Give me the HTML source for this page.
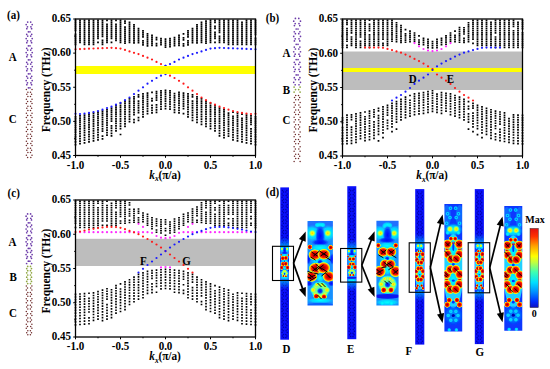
<!DOCTYPE html>
<html><head><meta charset="utf-8"><style>
html,body{margin:0;padding:0;background:#fff;width:550px;height:369px;overflow:hidden}
svg{display:block}
</style></head><body>
<svg width="550" height="369" viewBox="0 0 550 369">
<rect width="550" height="369" fill="#fff"/>
<path fill="#000" d="M74.6 19.4h1.8v1.75h-1.8zM74.6 21.4h1.8v1.75h-1.8zM74.6 23.4h1.8v1.75h-1.8zM74.6 25.4h1.8v1.75h-1.8zM74.6 27.4h1.8v1.75h-1.8zM74.6 29.4h1.8v1.75h-1.8zM74.6 33.4h1.8v1.75h-1.8zM74.6 35.4h1.8v1.75h-1.8zM74.6 37.4h1.8v1.75h-1.8zM74.6 39.4h1.8v1.75h-1.8zM74.6 41.4h1.8v1.75h-1.8zM74.6 43.4h1.8v1.75h-1.8zM79.1 19.4h1.8v1.75h-1.8zM79.1 21.4h1.8v1.75h-1.8zM79.1 23.4h1.8v1.75h-1.8zM79.1 25.4h1.8v1.75h-1.8zM79.1 27.4h1.8v1.75h-1.8zM79.1 29.4h1.8v1.75h-1.8zM79.1 31.4h1.8v1.75h-1.8zM79.1 33.4h1.8v1.75h-1.8zM79.1 35.4h1.8v1.75h-1.8zM79.1 37.4h1.8v1.75h-1.8zM79.1 39.4h1.8v1.75h-1.8zM79.1 41.4h1.8v1.75h-1.8zM83.6 19.4h1.8v1.75h-1.8zM83.6 21.4h1.8v1.75h-1.8zM83.6 23.4h1.8v1.75h-1.8zM83.6 25.4h1.8v1.75h-1.8zM83.6 27.4h1.8v1.75h-1.8zM83.6 29.4h1.8v1.75h-1.8zM83.6 31.4h1.8v1.75h-1.8zM83.6 33.4h1.8v1.75h-1.8zM83.6 35.4h1.8v1.75h-1.8zM83.6 37.4h1.8v1.75h-1.8zM83.6 39.4h1.8v1.75h-1.8zM83.6 41.4h1.8v1.75h-1.8zM83.6 43.4h1.8v1.75h-1.8zM88.1 19.4h1.8v1.75h-1.8zM88.1 21.4h1.8v1.75h-1.8zM88.1 23.4h1.8v1.75h-1.8zM88.1 25.4h1.8v1.75h-1.8zM88.1 27.4h1.8v1.75h-1.8zM88.1 29.4h1.8v1.75h-1.8zM88.1 31.4h1.8v1.75h-1.8zM88.1 33.4h1.8v1.75h-1.8zM88.1 35.4h1.8v1.75h-1.8zM88.1 37.4h1.8v1.75h-1.8zM88.1 39.4h1.8v1.75h-1.8zM88.1 41.4h1.8v1.75h-1.8zM88.1 43.4h1.8v1.75h-1.8zM92.6 19.4h1.8v1.75h-1.8zM92.6 21.4h1.8v1.75h-1.8zM92.6 23.4h1.8v1.75h-1.8zM92.6 25.4h1.8v1.75h-1.8zM92.6 27.4h1.8v1.75h-1.8zM92.6 29.4h1.8v1.75h-1.8zM92.6 31.4h1.8v1.75h-1.8zM92.6 33.4h1.8v1.75h-1.8zM92.6 35.4h1.8v1.75h-1.8zM92.6 37.4h1.8v1.75h-1.8zM92.6 39.4h1.8v1.75h-1.8zM92.6 41.4h1.8v1.75h-1.8zM92.6 43.4h1.8v1.75h-1.8zM97.1 19.4h1.8v1.75h-1.8zM97.1 21.4h1.8v1.75h-1.8zM97.1 23.4h1.8v1.75h-1.8zM97.1 25.4h1.8v1.75h-1.8zM97.1 27.4h1.8v1.75h-1.8zM97.1 29.4h1.8v1.75h-1.8zM97.1 31.4h1.8v1.75h-1.8zM97.1 33.4h1.8v1.75h-1.8zM97.1 35.4h1.8v1.75h-1.8zM97.1 37.4h1.8v1.75h-1.8zM97.1 41.4h1.8v1.75h-1.8zM101.6 19.4h1.8v1.75h-1.8zM101.6 21.4h1.8v1.75h-1.8zM101.6 23.4h1.8v1.75h-1.8zM101.6 25.4h1.8v1.75h-1.8zM101.6 27.4h1.8v1.75h-1.8zM101.6 29.4h1.8v1.75h-1.8zM101.6 31.4h1.8v1.75h-1.8zM101.6 33.4h1.8v1.75h-1.8zM101.6 35.4h1.8v1.75h-1.8zM101.6 39.4h1.8v1.75h-1.8zM101.6 41.4h1.8v1.75h-1.8zM101.6 43.4h1.8v1.75h-1.8zM106.1 19.4h1.8v1.75h-1.8zM106.1 23.4h1.8v1.75h-1.8zM106.1 25.4h1.8v1.75h-1.8zM106.1 27.4h1.8v1.75h-1.8zM106.1 29.4h1.8v1.75h-1.8zM106.1 31.4h1.8v1.75h-1.8zM106.1 33.4h1.8v1.75h-1.8zM106.1 35.4h1.8v1.75h-1.8zM106.1 37.4h1.8v1.75h-1.8zM106.1 39.4h1.8v1.75h-1.8zM106.1 41.4h1.8v1.75h-1.8zM110.6 19.4h1.8v1.75h-1.8zM110.6 21.4h1.8v1.75h-1.8zM110.6 23.4h1.8v1.75h-1.8zM110.6 25.4h1.8v1.75h-1.8zM110.6 27.4h1.8v1.75h-1.8zM110.6 29.4h1.8v1.75h-1.8zM110.6 31.4h1.8v1.75h-1.8zM110.6 33.4h1.8v1.75h-1.8zM110.6 35.4h1.8v1.75h-1.8zM110.6 37.4h1.8v1.75h-1.8zM110.6 41.4h1.8v1.75h-1.8zM115.1 19.4h1.8v1.75h-1.8zM115.1 23.4h1.8v1.75h-1.8zM115.1 25.4h1.8v1.75h-1.8zM115.1 27.4h1.8v1.75h-1.8zM115.1 29.4h1.8v1.75h-1.8zM115.1 31.4h1.8v1.75h-1.8zM115.1 33.4h1.8v1.75h-1.8zM115.1 35.4h1.8v1.75h-1.8zM115.1 37.4h1.8v1.75h-1.8zM115.1 39.4h1.8v1.75h-1.8zM119.6 19.4h1.8v1.75h-1.8zM119.6 21.4h1.8v1.75h-1.8zM119.6 23.4h1.8v1.75h-1.8zM119.6 25.4h1.8v1.75h-1.8zM119.6 27.4h1.8v1.75h-1.8zM119.6 29.4h1.8v1.75h-1.8zM119.6 31.4h1.8v1.75h-1.8zM119.6 33.4h1.8v1.75h-1.8zM119.6 35.4h1.8v1.75h-1.8zM119.6 37.4h1.8v1.75h-1.8zM119.6 39.4h1.8v1.75h-1.8zM119.6 41.4h1.8v1.75h-1.8zM124.1 20.2h1.8v1.75h-1.8zM124.1 22.2h1.8v1.75h-1.8zM124.1 26.2h1.8v1.75h-1.8zM124.1 28.2h1.8v1.75h-1.8zM124.1 30.2h1.8v1.75h-1.8zM124.1 32.2h1.8v1.75h-1.8zM124.1 34.2h1.8v1.75h-1.8zM124.1 36.2h1.8v1.75h-1.8zM124.1 38.2h1.8v1.75h-1.8zM124.1 40.2h1.8v1.75h-1.8zM124.1 42.2h1.8v1.75h-1.8zM128.6 21.4h1.8v1.75h-1.8zM128.6 23.4h1.8v1.75h-1.8zM128.6 25.4h1.8v1.75h-1.8zM128.6 27.4h1.8v1.75h-1.8zM128.6 29.4h1.8v1.75h-1.8zM128.6 31.4h1.8v1.75h-1.8zM128.6 33.4h1.8v1.75h-1.8zM128.6 35.4h1.8v1.75h-1.8zM128.6 37.4h1.8v1.75h-1.8zM128.6 39.4h1.8v1.75h-1.8zM128.6 41.4h1.8v1.75h-1.8zM133.1 24h1.8v1.75h-1.8zM133.1 26h1.8v1.75h-1.8zM133.1 28h1.8v1.75h-1.8zM133.1 30h1.8v1.75h-1.8zM133.1 32h1.8v1.75h-1.8zM133.1 34h1.8v1.75h-1.8zM133.1 36h1.8v1.75h-1.8zM133.1 38h1.8v1.75h-1.8zM133.1 40h1.8v1.75h-1.8zM133.1 42h1.8v1.75h-1.8zM137.6 27.7h1.8v1.75h-1.8zM137.6 29.7h1.8v1.75h-1.8zM137.6 31.7h1.8v1.75h-1.8zM137.6 33.7h1.8v1.75h-1.8zM137.6 35.7h1.8v1.75h-1.8zM137.6 37.7h1.8v1.75h-1.8zM137.6 39.7h1.8v1.75h-1.8zM137.6 41.7h1.8v1.75h-1.8zM142.1 30h1.8v1.75h-1.8zM142.1 32h1.8v1.75h-1.8zM142.1 34h1.8v1.75h-1.8zM142.1 36h1.8v1.75h-1.8zM142.1 40h1.8v1.75h-1.8zM142.1 42h1.8v1.75h-1.8zM142.1 44h1.8v1.75h-1.8zM146.6 33h1.8v1.75h-1.8zM146.6 35h1.8v1.75h-1.8zM146.6 37h1.8v1.75h-1.8zM146.6 39h1.8v1.75h-1.8zM146.6 41h1.8v1.75h-1.8zM146.6 43h1.8v1.75h-1.8zM146.6 45h1.8v1.75h-1.8zM151.1 34.6h1.8v1.75h-1.8zM151.1 36.6h1.8v1.75h-1.8zM151.1 38.6h1.8v1.75h-1.8zM151.1 40.6h1.8v1.75h-1.8zM151.1 42.6h1.8v1.75h-1.8zM151.1 44.6h1.8v1.75h-1.8zM155.6 36.8h1.8v1.75h-1.8zM155.6 38.8h1.8v1.75h-1.8zM155.6 42.8h1.8v1.75h-1.8zM155.6 44.8h1.8v1.75h-1.8zM160.1 37.7h1.8v1.75h-1.8zM160.1 39.7h1.8v1.75h-1.8zM160.1 41.7h1.8v1.75h-1.8zM160.1 43.7h1.8v1.75h-1.8zM164.6 38.3h1.8v1.75h-1.8zM164.6 40.3h1.8v1.75h-1.8zM164.6 42.3h1.8v1.75h-1.8zM164.6 44.3h1.8v1.75h-1.8zM164.6 46.3h1.8v1.75h-1.8zM169.1 37.7h1.8v1.75h-1.8zM169.1 39.7h1.8v1.75h-1.8zM169.1 41.7h1.8v1.75h-1.8zM169.1 43.7h1.8v1.75h-1.8zM169.1 45.7h1.8v1.75h-1.8zM173.6 36.8h1.8v1.75h-1.8zM173.6 38.8h1.8v1.75h-1.8zM173.6 40.8h1.8v1.75h-1.8zM173.6 42.8h1.8v1.75h-1.8zM173.6 44.8h1.8v1.75h-1.8zM178.1 34.6h1.8v1.75h-1.8zM178.1 36.6h1.8v1.75h-1.8zM178.1 38.6h1.8v1.75h-1.8zM178.1 40.6h1.8v1.75h-1.8zM178.1 42.6h1.8v1.75h-1.8zM178.1 44.6h1.8v1.75h-1.8zM182.6 33h1.8v1.75h-1.8zM182.6 37h1.8v1.75h-1.8zM182.6 39h1.8v1.75h-1.8zM182.6 43h1.8v1.75h-1.8zM182.6 45h1.8v1.75h-1.8zM187.1 30h1.8v1.75h-1.8zM187.1 32h1.8v1.75h-1.8zM187.1 34h1.8v1.75h-1.8zM187.1 36h1.8v1.75h-1.8zM187.1 40h1.8v1.75h-1.8zM187.1 42h1.8v1.75h-1.8zM187.1 44h1.8v1.75h-1.8zM191.6 27.7h1.8v1.75h-1.8zM191.6 29.7h1.8v1.75h-1.8zM191.6 31.7h1.8v1.75h-1.8zM191.6 33.7h1.8v1.75h-1.8zM191.6 35.7h1.8v1.75h-1.8zM191.6 37.7h1.8v1.75h-1.8zM191.6 39.7h1.8v1.75h-1.8zM191.6 41.7h1.8v1.75h-1.8zM196.1 24h1.8v1.75h-1.8zM196.1 26h1.8v1.75h-1.8zM196.1 28h1.8v1.75h-1.8zM196.1 30h1.8v1.75h-1.8zM196.1 32h1.8v1.75h-1.8zM196.1 34h1.8v1.75h-1.8zM196.1 36h1.8v1.75h-1.8zM196.1 38h1.8v1.75h-1.8zM196.1 40h1.8v1.75h-1.8zM196.1 42h1.8v1.75h-1.8zM200.6 21.4h1.8v1.75h-1.8zM200.6 23.4h1.8v1.75h-1.8zM200.6 25.4h1.8v1.75h-1.8zM200.6 27.4h1.8v1.75h-1.8zM200.6 29.4h1.8v1.75h-1.8zM200.6 31.4h1.8v1.75h-1.8zM200.6 33.4h1.8v1.75h-1.8zM200.6 35.4h1.8v1.75h-1.8zM200.6 37.4h1.8v1.75h-1.8zM200.6 39.4h1.8v1.75h-1.8zM200.6 41.4h1.8v1.75h-1.8zM205.1 20.2h1.8v1.75h-1.8zM205.1 22.2h1.8v1.75h-1.8zM205.1 24.2h1.8v1.75h-1.8zM205.1 26.2h1.8v1.75h-1.8zM205.1 28.2h1.8v1.75h-1.8zM205.1 30.2h1.8v1.75h-1.8zM205.1 32.2h1.8v1.75h-1.8zM205.1 34.2h1.8v1.75h-1.8zM205.1 36.2h1.8v1.75h-1.8zM205.1 38.2h1.8v1.75h-1.8zM205.1 40.2h1.8v1.75h-1.8zM205.1 42.2h1.8v1.75h-1.8zM209.6 19.4h1.8v1.75h-1.8zM209.6 21.4h1.8v1.75h-1.8zM209.6 23.4h1.8v1.75h-1.8zM209.6 25.4h1.8v1.75h-1.8zM209.6 27.4h1.8v1.75h-1.8zM209.6 29.4h1.8v1.75h-1.8zM209.6 31.4h1.8v1.75h-1.8zM209.6 33.4h1.8v1.75h-1.8zM209.6 35.4h1.8v1.75h-1.8zM209.6 37.4h1.8v1.75h-1.8zM209.6 39.4h1.8v1.75h-1.8zM209.6 41.4h1.8v1.75h-1.8zM214.1 19.4h1.8v1.75h-1.8zM214.1 21.4h1.8v1.75h-1.8zM214.1 25.4h1.8v1.75h-1.8zM214.1 27.4h1.8v1.75h-1.8zM214.1 31.4h1.8v1.75h-1.8zM214.1 33.4h1.8v1.75h-1.8zM214.1 35.4h1.8v1.75h-1.8zM214.1 37.4h1.8v1.75h-1.8zM214.1 41.4h1.8v1.75h-1.8zM218.6 19.4h1.8v1.75h-1.8zM218.6 21.4h1.8v1.75h-1.8zM218.6 23.4h1.8v1.75h-1.8zM218.6 25.4h1.8v1.75h-1.8zM218.6 27.4h1.8v1.75h-1.8zM218.6 29.4h1.8v1.75h-1.8zM218.6 31.4h1.8v1.75h-1.8zM218.6 35.4h1.8v1.75h-1.8zM218.6 37.4h1.8v1.75h-1.8zM218.6 39.4h1.8v1.75h-1.8zM218.6 41.4h1.8v1.75h-1.8zM223.1 19.4h1.8v1.75h-1.8zM223.1 21.4h1.8v1.75h-1.8zM223.1 23.4h1.8v1.75h-1.8zM223.1 25.4h1.8v1.75h-1.8zM223.1 27.4h1.8v1.75h-1.8zM223.1 29.4h1.8v1.75h-1.8zM223.1 31.4h1.8v1.75h-1.8zM223.1 33.4h1.8v1.75h-1.8zM223.1 35.4h1.8v1.75h-1.8zM223.1 37.4h1.8v1.75h-1.8zM223.1 39.4h1.8v1.75h-1.8zM223.1 41.4h1.8v1.75h-1.8zM227.6 19.4h1.8v1.75h-1.8zM227.6 21.4h1.8v1.75h-1.8zM227.6 23.4h1.8v1.75h-1.8zM227.6 25.4h1.8v1.75h-1.8zM227.6 27.4h1.8v1.75h-1.8zM227.6 29.4h1.8v1.75h-1.8zM227.6 31.4h1.8v1.75h-1.8zM227.6 33.4h1.8v1.75h-1.8zM227.6 35.4h1.8v1.75h-1.8zM227.6 37.4h1.8v1.75h-1.8zM227.6 39.4h1.8v1.75h-1.8zM227.6 41.4h1.8v1.75h-1.8zM227.6 43.4h1.8v1.75h-1.8zM232.1 19.4h1.8v1.75h-1.8zM232.1 21.4h1.8v1.75h-1.8zM232.1 23.4h1.8v1.75h-1.8zM232.1 25.4h1.8v1.75h-1.8zM232.1 27.4h1.8v1.75h-1.8zM232.1 29.4h1.8v1.75h-1.8zM232.1 31.4h1.8v1.75h-1.8zM232.1 33.4h1.8v1.75h-1.8zM232.1 35.4h1.8v1.75h-1.8zM232.1 37.4h1.8v1.75h-1.8zM232.1 39.4h1.8v1.75h-1.8zM232.1 41.4h1.8v1.75h-1.8zM232.1 43.4h1.8v1.75h-1.8zM236.6 19.4h1.8v1.75h-1.8zM236.6 21.4h1.8v1.75h-1.8zM236.6 23.4h1.8v1.75h-1.8zM236.6 25.4h1.8v1.75h-1.8zM236.6 27.4h1.8v1.75h-1.8zM236.6 29.4h1.8v1.75h-1.8zM236.6 31.4h1.8v1.75h-1.8zM236.6 33.4h1.8v1.75h-1.8zM236.6 35.4h1.8v1.75h-1.8zM236.6 37.4h1.8v1.75h-1.8zM236.6 39.4h1.8v1.75h-1.8zM236.6 41.4h1.8v1.75h-1.8zM236.6 43.4h1.8v1.75h-1.8zM241.1 21.4h1.8v1.75h-1.8zM241.1 23.4h1.8v1.75h-1.8zM241.1 25.4h1.8v1.75h-1.8zM241.1 27.4h1.8v1.75h-1.8zM241.1 29.4h1.8v1.75h-1.8zM241.1 31.4h1.8v1.75h-1.8zM241.1 33.4h1.8v1.75h-1.8zM241.1 35.4h1.8v1.75h-1.8zM241.1 37.4h1.8v1.75h-1.8zM241.1 39.4h1.8v1.75h-1.8zM241.1 41.4h1.8v1.75h-1.8zM241.1 43.4h1.8v1.75h-1.8zM245.6 19.4h1.8v1.75h-1.8zM245.6 21.4h1.8v1.75h-1.8zM245.6 23.4h1.8v1.75h-1.8zM245.6 25.4h1.8v1.75h-1.8zM245.6 27.4h1.8v1.75h-1.8zM245.6 29.4h1.8v1.75h-1.8zM245.6 31.4h1.8v1.75h-1.8zM245.6 33.4h1.8v1.75h-1.8zM245.6 35.4h1.8v1.75h-1.8zM245.6 37.4h1.8v1.75h-1.8zM245.6 39.4h1.8v1.75h-1.8zM245.6 41.4h1.8v1.75h-1.8zM245.6 43.4h1.8v1.75h-1.8zM250.1 19.4h1.8v1.75h-1.8zM250.1 21.4h1.8v1.75h-1.8zM250.1 23.4h1.8v1.75h-1.8zM250.1 25.4h1.8v1.75h-1.8zM250.1 27.4h1.8v1.75h-1.8zM250.1 29.4h1.8v1.75h-1.8zM250.1 31.4h1.8v1.75h-1.8zM250.1 33.4h1.8v1.75h-1.8zM250.1 35.4h1.8v1.75h-1.8zM250.1 37.4h1.8v1.75h-1.8zM250.1 39.4h1.8v1.75h-1.8zM250.1 41.4h1.8v1.75h-1.8zM250.1 43.4h1.8v1.75h-1.8zM254.6 19.4h1.8v1.75h-1.8zM254.6 21.4h1.8v1.75h-1.8zM254.6 23.4h1.8v1.75h-1.8zM254.6 25.4h1.8v1.75h-1.8zM254.6 27.4h1.8v1.75h-1.8zM254.6 29.4h1.8v1.75h-1.8zM254.6 31.4h1.8v1.75h-1.8zM254.6 33.4h1.8v1.75h-1.8zM254.6 37.4h1.8v1.75h-1.8zM254.6 39.4h1.8v1.75h-1.8zM254.6 41.4h1.8v1.75h-1.8zM254.6 43.4h1.8v1.75h-1.8z"/>
<path fill="#000" d="M74.6 116h1.8v1.75h-1.8zM74.6 118.05h1.8v1.75h-1.8zM74.6 120.14h1.8v1.75h-1.8zM74.6 122.28h1.8v1.75h-1.8zM74.6 124.46h1.8v1.75h-1.8zM74.6 126.69h1.8v1.75h-1.8zM74.6 128.96h1.8v1.75h-1.8zM74.6 131.28h1.8v1.75h-1.8zM74.6 133.65h1.8v1.75h-1.8zM74.6 136.07h1.8v1.75h-1.8zM74.6 138.53h1.8v1.75h-1.8zM74.6 141.05h1.8v1.75h-1.8zM74.6 143.63h1.8v1.75h-1.8zM79.1 115.09h1.8v1.75h-1.8zM79.1 117.14h1.8v1.75h-1.8zM79.1 119.23h1.8v1.75h-1.8zM79.1 121.37h1.8v1.75h-1.8zM79.1 123.55h1.8v1.75h-1.8zM79.1 125.78h1.8v1.75h-1.8zM79.1 128.06h1.8v1.75h-1.8zM79.1 130.38h1.8v1.75h-1.8zM79.1 132.75h1.8v1.75h-1.8zM79.1 135.18h1.8v1.75h-1.8zM79.1 137.65h1.8v1.75h-1.8zM79.1 140.18h1.8v1.75h-1.8zM79.1 142.76h1.8v1.75h-1.8zM83.6 114.18h1.8v1.75h-1.8zM83.6 116.23h1.8v1.75h-1.8zM83.6 118.33h1.8v1.75h-1.8zM83.6 120.46h1.8v1.75h-1.8zM83.6 122.65h1.8v1.75h-1.8zM83.6 124.88h1.8v1.75h-1.8zM83.6 127.16h1.8v1.75h-1.8zM83.6 129.48h1.8v1.75h-1.8zM83.6 131.86h1.8v1.75h-1.8zM83.6 134.29h1.8v1.75h-1.8zM83.6 136.77h1.8v1.75h-1.8zM83.6 139.3h1.8v1.75h-1.8zM83.6 141.88h1.8v1.75h-1.8zM88.1 113.27h1.8v1.75h-1.8zM88.1 115.32h1.8v1.75h-1.8zM88.1 117.42h1.8v1.75h-1.8zM88.1 119.56h1.8v1.75h-1.8zM88.1 121.74h1.8v1.75h-1.8zM88.1 123.97h1.8v1.75h-1.8zM88.1 126.25h1.8v1.75h-1.8zM88.1 128.58h1.8v1.75h-1.8zM88.1 130.96h1.8v1.75h-1.8zM88.1 133.39h1.8v1.75h-1.8zM88.1 135.87h1.8v1.75h-1.8zM88.1 138.4h1.8v1.75h-1.8zM88.1 140.99h1.8v1.75h-1.8zM92.6 112.36h1.8v1.75h-1.8zM92.6 114.41h1.8v1.75h-1.8zM92.6 116.51h1.8v1.75h-1.8zM92.6 118.65h1.8v1.75h-1.8zM92.6 120.83h1.8v1.75h-1.8zM92.6 123.06h1.8v1.75h-1.8zM92.6 125.35h1.8v1.75h-1.8zM92.6 127.67h1.8v1.75h-1.8zM92.6 130.05h1.8v1.75h-1.8zM92.6 132.49h1.8v1.75h-1.8zM92.6 134.97h1.8v1.75h-1.8zM92.6 137.51h1.8v1.75h-1.8zM92.6 140.1h1.8v1.75h-1.8zM97.1 111.32h1.8v1.75h-1.8zM97.1 113.37h1.8v1.75h-1.8zM97.1 115.46h1.8v1.75h-1.8zM97.1 117.6h1.8v1.75h-1.8zM97.1 119.79h1.8v1.75h-1.8zM97.1 122.02h1.8v1.75h-1.8zM97.1 124.3h1.8v1.75h-1.8zM97.1 126.63h1.8v1.75h-1.8zM97.1 129.01h1.8v1.75h-1.8zM97.1 131.45h1.8v1.75h-1.8zM97.1 133.93h1.8v1.75h-1.8zM97.1 136.47h1.8v1.75h-1.8zM97.1 139.06h1.8v1.75h-1.8zM101.6 110.19h1.8v1.75h-1.8zM101.6 112.24h1.8v1.75h-1.8zM101.6 114.33h1.8v1.75h-1.8zM101.6 116.47h1.8v1.75h-1.8zM101.6 118.66h1.8v1.75h-1.8zM101.6 120.89h1.8v1.75h-1.8zM101.6 123.17h1.8v1.75h-1.8zM101.6 125.5h1.8v1.75h-1.8zM101.6 127.88h1.8v1.75h-1.8zM101.6 130.32h1.8v1.75h-1.8zM101.6 135.34h1.8v1.75h-1.8zM101.6 137.93h1.8v1.75h-1.8zM106.1 109.05h1.8v1.75h-1.8zM106.1 111.1h1.8v1.75h-1.8zM106.1 113.2h1.8v1.75h-1.8zM106.1 115.34h1.8v1.75h-1.8zM106.1 117.52h1.8v1.75h-1.8zM106.1 119.76h1.8v1.75h-1.8zM106.1 122.04h1.8v1.75h-1.8zM106.1 124.37h1.8v1.75h-1.8zM106.1 126.75h1.8v1.75h-1.8zM106.1 129.18h1.8v1.75h-1.8zM106.1 131.67h1.8v1.75h-1.8zM106.1 134.21h1.8v1.75h-1.8zM110.6 107.21h1.8v1.75h-1.8zM110.6 109.26h1.8v1.75h-1.8zM110.6 111.35h1.8v1.75h-1.8zM110.6 113.49h1.8v1.75h-1.8zM110.6 115.68h1.8v1.75h-1.8zM110.6 117.92h1.8v1.75h-1.8zM110.6 120.2h1.8v1.75h-1.8zM110.6 124.92h1.8v1.75h-1.8zM110.6 127.36h1.8v1.75h-1.8zM110.6 129.85h1.8v1.75h-1.8zM110.6 132.39h1.8v1.75h-1.8zM110.6 134.99h1.8v1.75h-1.8zM115.1 104.89h1.8v1.75h-1.8zM115.1 106.94h1.8v1.75h-1.8zM115.1 109.04h1.8v1.75h-1.8zM115.1 111.18h1.8v1.75h-1.8zM115.1 113.37h1.8v1.75h-1.8zM115.1 115.61h1.8v1.75h-1.8zM115.1 117.89h1.8v1.75h-1.8zM115.1 120.23h1.8v1.75h-1.8zM115.1 122.62h1.8v1.75h-1.8zM115.1 125.06h1.8v1.75h-1.8zM115.1 127.56h1.8v1.75h-1.8zM115.1 130.11h1.8v1.75h-1.8zM119.6 102.59h1.8v1.75h-1.8zM119.6 104.64h1.8v1.75h-1.8zM119.6 106.74h1.8v1.75h-1.8zM119.6 108.88h1.8v1.75h-1.8zM119.6 111.07h1.8v1.75h-1.8zM119.6 113.31h1.8v1.75h-1.8zM119.6 115.6h1.8v1.75h-1.8zM119.6 117.94h1.8v1.75h-1.8zM119.6 120.34h1.8v1.75h-1.8zM119.6 122.79h1.8v1.75h-1.8zM119.6 125.29h1.8v1.75h-1.8zM119.6 127.85h1.8v1.75h-1.8zM119.6 133.67h1.8v1.7h-1.8zM124.1 100.32h1.8v1.75h-1.8zM124.1 102.37h1.8v1.75h-1.8zM124.1 104.46h1.8v1.75h-1.8zM124.1 106.61h1.8v1.75h-1.8zM124.1 108.8h1.8v1.75h-1.8zM124.1 111.04h1.8v1.75h-1.8zM124.1 113.34h1.8v1.75h-1.8zM124.1 115.68h1.8v1.75h-1.8zM124.1 118.08h1.8v1.75h-1.8zM124.1 120.53h1.8v1.75h-1.8zM124.1 123.04h1.8v1.75h-1.8zM124.1 125.61h1.8v1.75h-1.8zM128.6 98.09h1.8v1.75h-1.8zM128.6 100.14h1.8v1.75h-1.8zM128.6 102.24h1.8v1.75h-1.8zM128.6 104.38h1.8v1.75h-1.8zM128.6 106.58h1.8v1.75h-1.8zM128.6 108.82h1.8v1.75h-1.8zM128.6 111.12h1.8v1.75h-1.8zM128.6 113.47h1.8v1.75h-1.8zM128.6 115.87h1.8v1.75h-1.8zM128.6 118.33h1.8v1.75h-1.8zM128.6 120.84h1.8v1.75h-1.8zM133.1 96.05h1.8v1.75h-1.8zM133.1 98.1h1.8v1.75h-1.8zM133.1 100.19h1.8v1.75h-1.8zM133.1 102.34h1.8v1.75h-1.8zM133.1 104.54h1.8v1.75h-1.8zM133.1 106.79h1.8v1.75h-1.8zM133.1 109.09h1.8v1.75h-1.8zM133.1 111.44h1.8v1.75h-1.8zM133.1 113.86h1.8v1.75h-1.8zM133.1 118.85h1.8v1.75h-1.8zM133.1 121.43h1.8v1.75h-1.8zM137.6 94h1.8v1.75h-1.8zM137.6 96.05h1.8v1.75h-1.8zM137.6 100.3h1.8v1.75h-1.8zM137.6 102.5h1.8v1.75h-1.8zM137.6 104.75h1.8v1.75h-1.8zM137.6 107.06h1.8v1.75h-1.8zM137.6 109.42h1.8v1.75h-1.8zM137.6 111.84h1.8v1.75h-1.8zM137.6 116.85h1.8v1.75h-1.8zM137.6 119.45h1.8v1.75h-1.8zM142.1 93.08h1.8v1.75h-1.8zM142.1 95.13h1.8v1.75h-1.8zM142.1 97.24h1.8v1.75h-1.8zM142.1 99.39h1.8v1.75h-1.8zM142.1 101.6h1.8v1.75h-1.8zM142.1 103.87h1.8v1.75h-1.8zM142.1 106.2h1.8v1.75h-1.8zM142.1 108.58h1.8v1.75h-1.8zM142.1 111.03h1.8v1.75h-1.8zM142.1 113.54h1.8v1.75h-1.8zM142.1 116.11h1.8v1.75h-1.8zM146.6 92.17h1.8v1.75h-1.8zM146.6 94.22h1.8v1.75h-1.8zM146.6 96.32h1.8v1.75h-1.8zM146.6 98.49h1.8v1.75h-1.8zM146.6 100.71h1.8v1.75h-1.8zM146.6 102.99h1.8v1.75h-1.8zM146.6 105.34h1.8v1.75h-1.8zM146.6 107.75h1.8v1.75h-1.8zM146.6 110.23h1.8v1.75h-1.8zM146.6 112.77h1.8v1.75h-1.8zM151.1 91.4h1.8v1.75h-1.8zM151.1 97.73h1.8v1.75h-1.8zM151.1 99.96h1.8v1.75h-1.8zM151.1 104.61h1.8v1.75h-1.8zM151.1 107.04h1.8v1.75h-1.8zM151.1 109.54h1.8v1.75h-1.8zM151.1 112.1h1.8v1.75h-1.8zM155.6 90.73h1.8v1.75h-1.8zM155.6 92.78h1.8v1.75h-1.8zM155.6 94.89h1.8v1.75h-1.8zM155.6 97.06h1.8v1.75h-1.8zM155.6 99.3h1.8v1.75h-1.8zM155.6 103.97h1.8v1.75h-1.8zM155.6 106.4h1.8v1.75h-1.8zM155.6 108.91h1.8v1.75h-1.8zM155.6 111.49h1.8v1.75h-1.8zM160.1 90.07h1.8v1.75h-1.8zM160.1 92.12h1.8v1.75h-1.8zM160.1 94.23h1.8v1.75h-1.8zM160.1 96.4h1.8v1.75h-1.8zM160.1 98.64h1.8v1.75h-1.8zM160.1 100.95h1.8v1.75h-1.8zM160.1 103.32h1.8v1.75h-1.8zM160.1 105.76h1.8v1.75h-1.8zM160.1 108.28h1.8v1.75h-1.8zM164.6 89.4h1.8v1.75h-1.8zM164.6 91.45h1.8v1.75h-1.8zM164.6 93.56h1.8v1.75h-1.8zM164.6 95.74h1.8v1.75h-1.8zM164.6 97.98h1.8v1.75h-1.8zM164.6 100.29h1.8v1.75h-1.8zM164.6 102.68h1.8v1.75h-1.8zM164.6 105.13h1.8v1.75h-1.8zM164.6 107.66h1.8v1.75h-1.8zM169.1 90.07h1.8v1.75h-1.8zM169.1 92.12h1.8v1.75h-1.8zM169.1 94.23h1.8v1.75h-1.8zM169.1 96.4h1.8v1.75h-1.8zM169.1 98.64h1.8v1.75h-1.8zM169.1 100.95h1.8v1.75h-1.8zM169.1 103.32h1.8v1.75h-1.8zM169.1 105.76h1.8v1.75h-1.8zM169.1 108.28h1.8v1.75h-1.8zM173.6 92.78h1.8v1.75h-1.8zM173.6 94.89h1.8v1.75h-1.8zM173.6 97.06h1.8v1.75h-1.8zM173.6 99.3h1.8v1.75h-1.8zM173.6 101.6h1.8v1.75h-1.8zM173.6 103.97h1.8v1.75h-1.8zM173.6 106.4h1.8v1.75h-1.8zM173.6 108.91h1.8v1.75h-1.8zM173.6 111.49h1.8v1.75h-1.8zM178.1 91.4h1.8v1.75h-1.8zM178.1 93.45h1.8v1.75h-1.8zM178.1 95.56h1.8v1.75h-1.8zM178.1 97.73h1.8v1.75h-1.8zM178.1 99.96h1.8v1.75h-1.8zM178.1 102.25h1.8v1.75h-1.8zM178.1 104.61h1.8v1.75h-1.8zM178.1 107.04h1.8v1.75h-1.8zM178.1 109.54h1.8v1.75h-1.8zM178.1 112.1h1.8v1.75h-1.8zM182.6 92.17h1.8v1.75h-1.8zM182.6 94.22h1.8v1.75h-1.8zM182.6 96.32h1.8v1.75h-1.8zM182.6 98.49h1.8v1.75h-1.8zM182.6 100.71h1.8v1.75h-1.8zM182.6 102.99h1.8v1.75h-1.8zM182.6 105.34h1.8v1.75h-1.8zM182.6 107.75h1.8v1.75h-1.8zM182.6 112.77h1.8v1.75h-1.8zM187.1 93.08h1.8v1.75h-1.8zM187.1 95.13h1.8v1.75h-1.8zM187.1 97.24h1.8v1.75h-1.8zM187.1 99.39h1.8v1.75h-1.8zM187.1 101.6h1.8v1.75h-1.8zM187.1 103.87h1.8v1.75h-1.8zM187.1 106.2h1.8v1.75h-1.8zM187.1 108.58h1.8v1.75h-1.8zM187.1 111.03h1.8v1.75h-1.8zM187.1 113.54h1.8v1.75h-1.8zM187.1 116.11h1.8v1.75h-1.8zM191.6 94h1.8v1.75h-1.8zM191.6 96.05h1.8v1.75h-1.8zM191.6 100.3h1.8v1.75h-1.8zM191.6 102.5h1.8v1.75h-1.8zM191.6 104.75h1.8v1.75h-1.8zM191.6 107.06h1.8v1.75h-1.8zM191.6 109.42h1.8v1.75h-1.8zM191.6 111.84h1.8v1.75h-1.8zM191.6 114.32h1.8v1.75h-1.8zM191.6 116.85h1.8v1.75h-1.8zM191.6 119.45h1.8v1.75h-1.8zM196.1 96.05h1.8v1.75h-1.8zM196.1 98.1h1.8v1.75h-1.8zM196.1 100.19h1.8v1.75h-1.8zM196.1 102.34h1.8v1.75h-1.8zM196.1 104.54h1.8v1.75h-1.8zM196.1 106.79h1.8v1.75h-1.8zM196.1 109.09h1.8v1.75h-1.8zM196.1 111.44h1.8v1.75h-1.8zM196.1 113.86h1.8v1.75h-1.8zM196.1 116.32h1.8v1.75h-1.8zM196.1 118.85h1.8v1.75h-1.8zM196.1 121.43h1.8v1.75h-1.8zM200.6 98.09h1.8v1.75h-1.8zM200.6 100.14h1.8v1.75h-1.8zM200.6 102.24h1.8v1.75h-1.8zM200.6 104.38h1.8v1.75h-1.8zM200.6 106.58h1.8v1.75h-1.8zM200.6 108.82h1.8v1.75h-1.8zM200.6 111.12h1.8v1.75h-1.8zM200.6 113.47h1.8v1.75h-1.8zM200.6 115.87h1.8v1.75h-1.8zM200.6 118.33h1.8v1.75h-1.8zM200.6 120.84h1.8v1.75h-1.8zM200.6 123.42h1.8v1.75h-1.8zM205.1 100.32h1.8v1.75h-1.8zM205.1 102.37h1.8v1.75h-1.8zM205.1 104.46h1.8v1.75h-1.8zM205.1 106.61h1.8v1.75h-1.8zM205.1 108.8h1.8v1.75h-1.8zM205.1 111.04h1.8v1.75h-1.8zM205.1 113.34h1.8v1.75h-1.8zM205.1 115.68h1.8v1.75h-1.8zM205.1 118.08h1.8v1.75h-1.8zM205.1 120.53h1.8v1.75h-1.8zM205.1 123.04h1.8v1.75h-1.8zM205.1 125.61h1.8v1.75h-1.8zM209.6 102.59h1.8v1.75h-1.8zM209.6 104.64h1.8v1.75h-1.8zM209.6 106.74h1.8v1.75h-1.8zM209.6 108.88h1.8v1.75h-1.8zM209.6 111.07h1.8v1.75h-1.8zM209.6 113.31h1.8v1.75h-1.8zM209.6 115.6h1.8v1.75h-1.8zM209.6 117.94h1.8v1.75h-1.8zM209.6 120.34h1.8v1.75h-1.8zM209.6 122.79h1.8v1.75h-1.8zM209.6 125.29h1.8v1.75h-1.8zM209.6 127.85h1.8v1.75h-1.8zM214.1 104.89h1.8v1.75h-1.8zM214.1 106.94h1.8v1.75h-1.8zM214.1 109.04h1.8v1.75h-1.8zM214.1 111.18h1.8v1.75h-1.8zM214.1 113.37h1.8v1.75h-1.8zM214.1 115.61h1.8v1.75h-1.8zM214.1 117.89h1.8v1.75h-1.8zM214.1 120.23h1.8v1.75h-1.8zM214.1 122.62h1.8v1.75h-1.8zM214.1 125.06h1.8v1.75h-1.8zM214.1 127.56h1.8v1.75h-1.8zM214.1 130.11h1.8v1.75h-1.8zM218.6 107.21h1.8v1.75h-1.8zM218.6 109.26h1.8v1.75h-1.8zM218.6 111.35h1.8v1.75h-1.8zM218.6 113.49h1.8v1.75h-1.8zM218.6 115.68h1.8v1.75h-1.8zM218.6 117.92h1.8v1.75h-1.8zM218.6 120.2h1.8v1.75h-1.8zM218.6 122.53h1.8v1.75h-1.8zM218.6 124.92h1.8v1.75h-1.8zM218.6 127.36h1.8v1.75h-1.8zM218.6 129.85h1.8v1.75h-1.8zM218.6 132.39h1.8v1.75h-1.8zM218.6 134.99h1.8v1.75h-1.8zM223.1 109.05h1.8v1.75h-1.8zM223.1 111.1h1.8v1.75h-1.8zM223.1 113.2h1.8v1.75h-1.8zM223.1 115.34h1.8v1.75h-1.8zM223.1 117.52h1.8v1.75h-1.8zM223.1 119.76h1.8v1.75h-1.8zM223.1 122.04h1.8v1.75h-1.8zM223.1 124.37h1.8v1.75h-1.8zM223.1 126.75h1.8v1.75h-1.8zM223.1 129.18h1.8v1.75h-1.8zM223.1 131.67h1.8v1.75h-1.8zM223.1 134.21h1.8v1.75h-1.8zM223.1 136.8h1.8v1.75h-1.8zM227.6 112.24h1.8v1.75h-1.8zM227.6 114.33h1.8v1.75h-1.8zM227.6 116.47h1.8v1.75h-1.8zM227.6 118.66h1.8v1.75h-1.8zM227.6 120.89h1.8v1.75h-1.8zM227.6 123.17h1.8v1.75h-1.8zM227.6 125.5h1.8v1.75h-1.8zM227.6 127.88h1.8v1.75h-1.8zM227.6 130.32h1.8v1.75h-1.8zM227.6 132.8h1.8v1.75h-1.8zM227.6 135.34h1.8v1.75h-1.8zM232.1 111.32h1.8v1.75h-1.8zM232.1 115.46h1.8v1.75h-1.8zM232.1 117.6h1.8v1.75h-1.8zM232.1 119.79h1.8v1.75h-1.8zM232.1 122.02h1.8v1.75h-1.8zM232.1 124.3h1.8v1.75h-1.8zM232.1 126.63h1.8v1.75h-1.8zM232.1 129.01h1.8v1.75h-1.8zM232.1 131.45h1.8v1.75h-1.8zM232.1 133.93h1.8v1.75h-1.8zM232.1 136.47h1.8v1.75h-1.8zM232.1 139.06h1.8v1.75h-1.8zM236.6 112.36h1.8v1.75h-1.8zM236.6 114.41h1.8v1.75h-1.8zM236.6 116.51h1.8v1.75h-1.8zM236.6 118.65h1.8v1.75h-1.8zM236.6 120.83h1.8v1.75h-1.8zM236.6 123.06h1.8v1.75h-1.8zM236.6 125.35h1.8v1.75h-1.8zM236.6 127.67h1.8v1.75h-1.8zM236.6 130.05h1.8v1.75h-1.8zM236.6 132.49h1.8v1.75h-1.8zM236.6 134.97h1.8v1.75h-1.8zM236.6 137.51h1.8v1.75h-1.8zM236.6 140.1h1.8v1.75h-1.8zM241.1 113.27h1.8v1.75h-1.8zM241.1 117.42h1.8v1.75h-1.8zM241.1 119.56h1.8v1.75h-1.8zM241.1 121.74h1.8v1.75h-1.8zM241.1 123.97h1.8v1.75h-1.8zM241.1 126.25h1.8v1.75h-1.8zM241.1 128.58h1.8v1.75h-1.8zM241.1 130.96h1.8v1.75h-1.8zM241.1 133.39h1.8v1.75h-1.8zM241.1 135.87h1.8v1.75h-1.8zM241.1 138.4h1.8v1.75h-1.8zM241.1 140.99h1.8v1.75h-1.8zM245.6 114.18h1.8v1.75h-1.8zM245.6 116.23h1.8v1.75h-1.8zM245.6 118.33h1.8v1.75h-1.8zM245.6 120.46h1.8v1.75h-1.8zM245.6 122.65h1.8v1.75h-1.8zM245.6 124.88h1.8v1.75h-1.8zM245.6 127.16h1.8v1.75h-1.8zM245.6 129.48h1.8v1.75h-1.8zM245.6 131.86h1.8v1.75h-1.8zM245.6 134.29h1.8v1.75h-1.8zM245.6 136.77h1.8v1.75h-1.8zM245.6 139.3h1.8v1.75h-1.8zM245.6 141.88h1.8v1.75h-1.8zM250.1 115.09h1.8v1.75h-1.8zM250.1 117.14h1.8v1.75h-1.8zM250.1 119.23h1.8v1.75h-1.8zM250.1 121.37h1.8v1.75h-1.8zM250.1 123.55h1.8v1.75h-1.8zM250.1 128.06h1.8v1.75h-1.8zM250.1 130.38h1.8v1.75h-1.8zM250.1 132.75h1.8v1.75h-1.8zM250.1 135.18h1.8v1.75h-1.8zM250.1 137.65h1.8v1.75h-1.8zM250.1 140.18h1.8v1.75h-1.8zM250.1 142.76h1.8v1.75h-1.8zM254.6 116h1.8v1.75h-1.8zM254.6 118.05h1.8v1.75h-1.8zM254.6 120.14h1.8v1.75h-1.8zM254.6 122.28h1.8v1.75h-1.8zM254.6 124.46h1.8v1.75h-1.8zM254.6 126.69h1.8v1.75h-1.8zM254.6 128.96h1.8v1.75h-1.8zM254.6 131.28h1.8v1.75h-1.8zM254.6 133.65h1.8v1.75h-1.8zM254.6 136.07h1.8v1.75h-1.8zM254.6 138.53h1.8v1.75h-1.8zM254.6 141.05h1.8v1.75h-1.8zM254.6 143.63h1.8v1.75h-1.8z"/>
<circle cx="75.5" cy="49.3" r="1.1" fill="#ff1a1a"/>
<circle cx="80" cy="49.1" r="1.1" fill="#ff1a1a"/>
<circle cx="84.5" cy="48.9" r="1.1" fill="#ff1a1a"/>
<circle cx="89" cy="48.7" r="1.1" fill="#ff1a1a"/>
<circle cx="93.5" cy="48.5" r="1.1" fill="#ff1a1a"/>
<circle cx="98" cy="48.33" r="1.1" fill="#ff1a1a"/>
<circle cx="102.5" cy="48.15" r="1.1" fill="#ff1a1a"/>
<circle cx="107" cy="47.98" r="1.1" fill="#ff1a1a"/>
<circle cx="111.5" cy="47.8" r="1.1" fill="#ff1a1a"/>
<circle cx="116" cy="48.2" r="1.1" fill="#ff1a1a"/>
<circle cx="120.5" cy="48.6" r="1.1" fill="#ff1a1a"/>
<circle cx="125" cy="49.9" r="1.1" fill="#ff1a1a"/>
<circle cx="129.5" cy="51.4" r="1.1" fill="#ff1a1a"/>
<circle cx="134" cy="52.8" r="1.1" fill="#ff1a1a"/>
<circle cx="138.5" cy="54.1" r="1.1" fill="#ff1a1a"/>
<circle cx="143" cy="55.9" r="1.1" fill="#ff1a1a"/>
<circle cx="147.5" cy="57.7" r="1.1" fill="#ff1a1a"/>
<circle cx="152" cy="59.5" r="1.1" fill="#ff1a1a"/>
<circle cx="156.5" cy="61.9" r="1.1" fill="#ff1a1a"/>
<circle cx="161" cy="64.1" r="1.1" fill="#ff1a1a"/>
<circle cx="75.5" cy="113.8" r="1.1" fill="#1a1aff"/>
<circle cx="80" cy="114" r="1.1" fill="#1a1aff"/>
<circle cx="84.5" cy="113.5" r="1.1" fill="#1a1aff"/>
<circle cx="89" cy="112.9" r="1.1" fill="#1a1aff"/>
<circle cx="93.5" cy="112" r="1.1" fill="#1a1aff"/>
<circle cx="98" cy="111" r="1.1" fill="#1a1aff"/>
<circle cx="102.5" cy="109.7" r="1.1" fill="#1a1aff"/>
<circle cx="107" cy="108.1" r="1.1" fill="#1a1aff"/>
<circle cx="111.5" cy="106.6" r="1.1" fill="#1a1aff"/>
<circle cx="116" cy="104.7" r="1.1" fill="#1a1aff"/>
<circle cx="120.5" cy="102.8" r="1.1" fill="#1a1aff"/>
<circle cx="125" cy="100.2" r="1.1" fill="#1a1aff"/>
<circle cx="129.5" cy="97.5" r="1.1" fill="#1a1aff"/>
<circle cx="134" cy="94.1" r="1.1" fill="#1a1aff"/>
<circle cx="138.5" cy="90.7" r="1.1" fill="#1a1aff"/>
<circle cx="143" cy="87.3" r="1.1" fill="#1a1aff"/>
<circle cx="147.5" cy="83.7" r="1.1" fill="#1a1aff"/>
<circle cx="152" cy="80.8" r="1.1" fill="#1a1aff"/>
<circle cx="156.5" cy="78" r="1.1" fill="#1a1aff"/>
<circle cx="161" cy="75.7" r="1.1" fill="#1a1aff"/>
<circle cx="165.5" cy="74.2" r="1.1" fill="#1a1aff"/>
<circle cx="165.5" cy="65.9" r="1.1" fill="#1a1aff"/>
<circle cx="170" cy="64.1" r="1.1" fill="#1a1aff"/>
<circle cx="174.5" cy="61.9" r="1.1" fill="#1a1aff"/>
<circle cx="179" cy="59.5" r="1.1" fill="#1a1aff"/>
<circle cx="183.5" cy="57.7" r="1.1" fill="#1a1aff"/>
<circle cx="188" cy="55.9" r="1.1" fill="#1a1aff"/>
<circle cx="192.5" cy="54.1" r="1.1" fill="#1a1aff"/>
<circle cx="197" cy="52.8" r="1.1" fill="#1a1aff"/>
<circle cx="201.5" cy="51.4" r="1.1" fill="#1a1aff"/>
<circle cx="206" cy="49.9" r="1.1" fill="#1a1aff"/>
<circle cx="210.5" cy="48.6" r="1.1" fill="#1a1aff"/>
<circle cx="215" cy="48.2" r="1.1" fill="#1a1aff"/>
<circle cx="219.5" cy="47.8" r="1.1" fill="#1a1aff"/>
<circle cx="224" cy="47.98" r="1.1" fill="#1a1aff"/>
<circle cx="228.5" cy="48.15" r="1.1" fill="#1a1aff"/>
<circle cx="233" cy="48.33" r="1.1" fill="#1a1aff"/>
<circle cx="237.5" cy="48.5" r="1.1" fill="#1a1aff"/>
<circle cx="242" cy="48.7" r="1.1" fill="#1a1aff"/>
<circle cx="246.5" cy="48.9" r="1.1" fill="#1a1aff"/>
<circle cx="251" cy="49.1" r="1.1" fill="#1a1aff"/>
<circle cx="255.5" cy="49.3" r="1.1" fill="#1a1aff"/>
<circle cx="170" cy="75.7" r="1.1" fill="#ff1a1a"/>
<circle cx="174.5" cy="78" r="1.1" fill="#ff1a1a"/>
<circle cx="179" cy="80.8" r="1.1" fill="#ff1a1a"/>
<circle cx="183.5" cy="83.7" r="1.1" fill="#ff1a1a"/>
<circle cx="188" cy="87.3" r="1.1" fill="#ff1a1a"/>
<circle cx="192.5" cy="90.7" r="1.1" fill="#ff1a1a"/>
<circle cx="197" cy="94.1" r="1.1" fill="#ff1a1a"/>
<circle cx="201.5" cy="97.5" r="1.1" fill="#ff1a1a"/>
<circle cx="206" cy="100.2" r="1.1" fill="#ff1a1a"/>
<circle cx="210.5" cy="102.8" r="1.1" fill="#ff1a1a"/>
<circle cx="215" cy="104.7" r="1.1" fill="#ff1a1a"/>
<circle cx="219.5" cy="106.6" r="1.1" fill="#ff1a1a"/>
<circle cx="224" cy="108.1" r="1.1" fill="#ff1a1a"/>
<circle cx="228.5" cy="109.7" r="1.1" fill="#ff1a1a"/>
<circle cx="233" cy="111" r="1.1" fill="#ff1a1a"/>
<circle cx="237.5" cy="112" r="1.1" fill="#ff1a1a"/>
<circle cx="242" cy="112.9" r="1.1" fill="#ff1a1a"/>
<circle cx="246.5" cy="113.5" r="1.1" fill="#ff1a1a"/>
<circle cx="251" cy="114" r="1.1" fill="#ff1a1a"/>
<circle cx="255.5" cy="113.8" r="1.1" fill="#ff1a1a"/>
<circle cx="165.5" cy="65.9" r="1.1" fill="#1a1aff"/>
<rect x="75.5" y="66" width="180" height="8" fill="#ffff00"/>
<rect x="75.5" y="19" width="180" height="136.5" fill="none" stroke="#000" stroke-width="1.3"/>
<line x1="73.2" y1="155.5" x2="75.5" y2="155.5" stroke="#000" stroke-width="1"/>
<text transform="translate(70.9,158.8) scale(1,1.1)" text-anchor="end" style="font-family:'Liberation Serif',serif;font-weight:bold;font-size:11px">0.45</text>
<line x1="74.2" y1="138.44" x2="75.5" y2="138.44" stroke="#000" stroke-width="1"/>
<line x1="73.2" y1="121.38" x2="75.5" y2="121.38" stroke="#000" stroke-width="1"/>
<text transform="translate(70.9,124.67) scale(1,1.1)" text-anchor="end" style="font-family:'Liberation Serif',serif;font-weight:bold;font-size:11px">0.50</text>
<line x1="74.2" y1="104.31" x2="75.5" y2="104.31" stroke="#000" stroke-width="1"/>
<line x1="73.2" y1="87.25" x2="75.5" y2="87.25" stroke="#000" stroke-width="1"/>
<text transform="translate(70.9,90.55) scale(1,1.1)" text-anchor="end" style="font-family:'Liberation Serif',serif;font-weight:bold;font-size:11px">0.55</text>
<line x1="74.2" y1="70.19" x2="75.5" y2="70.19" stroke="#000" stroke-width="1"/>
<line x1="73.2" y1="53.12" x2="75.5" y2="53.12" stroke="#000" stroke-width="1"/>
<text transform="translate(70.9,56.42) scale(1,1.1)" text-anchor="end" style="font-family:'Liberation Serif',serif;font-weight:bold;font-size:11px">0.60</text>
<line x1="74.2" y1="36.06" x2="75.5" y2="36.06" stroke="#000" stroke-width="1"/>
<line x1="73.2" y1="19" x2="75.5" y2="19" stroke="#000" stroke-width="1"/>
<text transform="translate(70.9,22.3) scale(1,1.1)" text-anchor="end" style="font-family:'Liberation Serif',serif;font-weight:bold;font-size:11px">0.65</text>
<line x1="75.5" y1="155.5" x2="75.5" y2="157.8" stroke="#000" stroke-width="1"/>
<text transform="translate(75.5,168.8) scale(1,1.1)" text-anchor="middle" style="font-family:'Liberation Serif',serif;font-weight:bold;font-size:11px">-1.0</text>
<line x1="98" y1="155.5" x2="98" y2="156.8" stroke="#000" stroke-width="1"/>
<line x1="120.5" y1="155.5" x2="120.5" y2="157.8" stroke="#000" stroke-width="1"/>
<text transform="translate(120.5,168.8) scale(1,1.1)" text-anchor="middle" style="font-family:'Liberation Serif',serif;font-weight:bold;font-size:11px">-0.5</text>
<line x1="143" y1="155.5" x2="143" y2="156.8" stroke="#000" stroke-width="1"/>
<line x1="165.5" y1="155.5" x2="165.5" y2="157.8" stroke="#000" stroke-width="1"/>
<text transform="translate(165.5,168.8) scale(1,1.1)" text-anchor="middle" style="font-family:'Liberation Serif',serif;font-weight:bold;font-size:11px">0.0</text>
<line x1="188" y1="155.5" x2="188" y2="156.8" stroke="#000" stroke-width="1"/>
<line x1="210.5" y1="155.5" x2="210.5" y2="157.8" stroke="#000" stroke-width="1"/>
<text transform="translate(210.5,168.8) scale(1,1.1)" text-anchor="middle" style="font-family:'Liberation Serif',serif;font-weight:bold;font-size:11px">0.5</text>
<line x1="233" y1="155.5" x2="233" y2="156.8" stroke="#000" stroke-width="1"/>
<line x1="255.5" y1="155.5" x2="255.5" y2="157.8" stroke="#000" stroke-width="1"/>
<text transform="translate(255.5,168.8) scale(1,1.1)" text-anchor="middle" style="font-family:'Liberation Serif',serif;font-weight:bold;font-size:11px">1.0</text>
<text transform="translate(49.8,89.85) rotate(-90) scale(1,1.06)" text-anchor="middle" style="font-family:'Liberation Serif',serif;font-weight:bold;font-size:11.55px">Frequency (THz)</text>
<text transform="translate(149.3,178.5) scale(1,1.08)" style="font-family:'Liberation Serif',serif;font-weight:bold;font-size:11.3px"><tspan font-style="italic">k</tspan><tspan font-style="italic" font-size="7.5px" dy="2.6">x</tspan><tspan dy="-2.6" dx="-0.3">(π/a)</tspan></text>
<rect x="342.5" y="51.5" width="180" height="38.5" fill="#bdbdbd"/>
<path fill="#000" d="M341.6 19.4h1.8v1.65h-1.8zM341.6 21.5h1.8v1.65h-1.8zM341.6 23.6h1.8v1.65h-1.8zM341.6 25.7h1.8v1.65h-1.8zM341.6 27.8h1.8v1.65h-1.8zM341.6 29.9h1.8v1.65h-1.8zM341.6 32h1.8v1.65h-1.8zM341.6 34.1h1.8v1.65h-1.8zM341.6 36.2h1.8v1.65h-1.8zM341.6 38.3h1.8v1.65h-1.8zM341.6 40.4h1.8v1.65h-1.8zM341.6 42.5h1.8v1.65h-1.8zM341.6 44.6h1.8v1.65h-1.8zM341.6 46.7h1.8v1.65h-1.8zM346.1 19.4h1.8v1.65h-1.8zM346.1 21.5h1.8v1.65h-1.8zM346.1 23.6h1.8v1.65h-1.8zM346.1 27.8h1.8v1.65h-1.8zM346.1 29.9h1.8v1.65h-1.8zM346.1 32h1.8v1.65h-1.8zM346.1 34.1h1.8v1.65h-1.8zM346.1 36.2h1.8v1.65h-1.8zM346.1 38.3h1.8v1.65h-1.8zM346.1 40.4h1.8v1.65h-1.8zM346.1 44.6h1.8v1.65h-1.8zM346.1 46.7h1.8v1.65h-1.8zM350.6 19.4h1.8v1.65h-1.8zM350.6 21.5h1.8v1.65h-1.8zM350.6 23.6h1.8v1.65h-1.8zM350.6 25.7h1.8v1.65h-1.8zM350.6 27.8h1.8v1.65h-1.8zM350.6 29.9h1.8v1.65h-1.8zM350.6 32h1.8v1.65h-1.8zM350.6 36.2h1.8v1.65h-1.8zM350.6 38.3h1.8v1.65h-1.8zM350.6 40.4h1.8v1.65h-1.8zM350.6 42.5h1.8v1.65h-1.8zM350.6 44.6h1.8v1.65h-1.8zM355.1 19.4h1.8v1.65h-1.8zM355.1 21.5h1.8v1.65h-1.8zM355.1 23.6h1.8v1.65h-1.8zM355.1 25.7h1.8v1.65h-1.8zM355.1 27.8h1.8v1.65h-1.8zM355.1 29.9h1.8v1.65h-1.8zM355.1 32h1.8v1.65h-1.8zM355.1 34.1h1.8v1.65h-1.8zM355.1 36.2h1.8v1.65h-1.8zM355.1 38.3h1.8v1.65h-1.8zM355.1 40.4h1.8v1.65h-1.8zM355.1 42.5h1.8v1.65h-1.8zM355.1 44.6h1.8v1.65h-1.8zM355.1 46.7h1.8v1.65h-1.8zM359.6 19.4h1.8v1.65h-1.8zM359.6 21.5h1.8v1.65h-1.8zM359.6 23.6h1.8v1.65h-1.8zM359.6 25.7h1.8v1.65h-1.8zM359.6 27.8h1.8v1.65h-1.8zM359.6 29.9h1.8v1.65h-1.8zM359.6 32h1.8v1.65h-1.8zM359.6 34.1h1.8v1.65h-1.8zM359.6 36.2h1.8v1.65h-1.8zM359.6 40.4h1.8v1.65h-1.8zM359.6 42.5h1.8v1.65h-1.8zM359.6 44.6h1.8v1.65h-1.8zM359.6 46.7h1.8v1.65h-1.8zM364.1 19.4h1.8v1.65h-1.8zM364.1 21.5h1.8v1.65h-1.8zM364.1 23.6h1.8v1.65h-1.8zM364.1 25.7h1.8v1.65h-1.8zM364.1 27.8h1.8v1.65h-1.8zM364.1 29.9h1.8v1.65h-1.8zM364.1 32h1.8v1.65h-1.8zM364.1 34.1h1.8v1.65h-1.8zM364.1 36.2h1.8v1.65h-1.8zM364.1 38.3h1.8v1.65h-1.8zM364.1 40.4h1.8v1.65h-1.8zM364.1 42.5h1.8v1.65h-1.8zM364.1 44.6h1.8v1.65h-1.8zM364.1 46.7h1.8v1.65h-1.8zM368.6 19.4h1.8v1.65h-1.8zM368.6 23.6h1.8v1.65h-1.8zM368.6 25.7h1.8v1.65h-1.8zM368.6 27.8h1.8v1.65h-1.8zM368.6 29.9h1.8v1.65h-1.8zM368.6 34.1h1.8v1.65h-1.8zM368.6 36.2h1.8v1.65h-1.8zM368.6 38.3h1.8v1.65h-1.8zM368.6 40.4h1.8v1.65h-1.8zM368.6 42.5h1.8v1.65h-1.8zM368.6 44.6h1.8v1.65h-1.8zM368.6 46.7h1.8v1.65h-1.8zM373.1 19.4h1.8v1.65h-1.8zM373.1 21.5h1.8v1.65h-1.8zM373.1 23.6h1.8v1.65h-1.8zM373.1 25.7h1.8v1.65h-1.8zM373.1 27.8h1.8v1.65h-1.8zM373.1 29.9h1.8v1.65h-1.8zM373.1 32h1.8v1.65h-1.8zM373.1 34.1h1.8v1.65h-1.8zM373.1 36.2h1.8v1.65h-1.8zM373.1 38.3h1.8v1.65h-1.8zM373.1 40.4h1.8v1.65h-1.8zM373.1 42.5h1.8v1.65h-1.8zM373.1 44.6h1.8v1.65h-1.8zM377.6 19.4h1.8v1.65h-1.8zM377.6 21.5h1.8v1.65h-1.8zM377.6 23.6h1.8v1.65h-1.8zM377.6 25.7h1.8v1.65h-1.8zM377.6 27.8h1.8v1.65h-1.8zM377.6 29.9h1.8v1.65h-1.8zM377.6 32h1.8v1.65h-1.8zM377.6 34.1h1.8v1.65h-1.8zM377.6 36.2h1.8v1.65h-1.8zM377.6 38.3h1.8v1.65h-1.8zM377.6 40.4h1.8v1.65h-1.8zM377.6 42.5h1.8v1.65h-1.8zM377.6 44.6h1.8v1.65h-1.8zM382.1 19.4h1.8v1.65h-1.8zM382.1 21.5h1.8v1.65h-1.8zM382.1 23.6h1.8v1.65h-1.8zM382.1 25.7h1.8v1.65h-1.8zM382.1 27.8h1.8v1.65h-1.8zM382.1 29.9h1.8v1.65h-1.8zM382.1 32h1.8v1.65h-1.8zM382.1 34.1h1.8v1.65h-1.8zM382.1 36.2h1.8v1.65h-1.8zM382.1 38.3h1.8v1.65h-1.8zM382.1 42.5h1.8v1.65h-1.8zM382.1 44.6h1.8v1.65h-1.8zM386.6 19.4h1.8v1.65h-1.8zM386.6 21.5h1.8v1.65h-1.8zM386.6 23.6h1.8v1.65h-1.8zM386.6 25.7h1.8v1.65h-1.8zM386.6 27.8h1.8v1.65h-1.8zM386.6 29.9h1.8v1.65h-1.8zM386.6 32h1.8v1.65h-1.8zM386.6 34.1h1.8v1.65h-1.8zM386.6 36.2h1.8v1.65h-1.8zM386.6 38.3h1.8v1.65h-1.8zM386.6 40.4h1.8v1.65h-1.8zM386.6 42.5h1.8v1.65h-1.8zM386.6 44.6h1.8v1.65h-1.8zM391.1 19.4h1.8v1.65h-1.8zM391.1 21.5h1.8v1.65h-1.8zM391.1 23.6h1.8v1.65h-1.8zM391.1 25.7h1.8v1.65h-1.8zM391.1 27.8h1.8v1.65h-1.8zM391.1 29.9h1.8v1.65h-1.8zM391.1 32h1.8v1.65h-1.8zM391.1 34.1h1.8v1.65h-1.8zM391.1 36.2h1.8v1.65h-1.8zM391.1 38.3h1.8v1.65h-1.8zM391.1 40.4h1.8v1.65h-1.8zM395.6 21.9h1.8v1.65h-1.8zM395.6 24h1.8v1.65h-1.8zM395.6 26.1h1.8v1.65h-1.8zM395.6 28.2h1.8v1.65h-1.8zM395.6 30.3h1.8v1.65h-1.8zM395.6 32.4h1.8v1.65h-1.8zM395.6 34.5h1.8v1.65h-1.8zM395.6 36.6h1.8v1.65h-1.8zM395.6 38.7h1.8v1.65h-1.8zM395.6 40.8h1.8v1.65h-1.8zM400.1 24.8h1.8v1.65h-1.8zM400.1 26.9h1.8v1.65h-1.8zM400.1 29h1.8v1.65h-1.8zM400.1 31.1h1.8v1.65h-1.8zM400.1 33.2h1.8v1.65h-1.8zM400.1 35.3h1.8v1.65h-1.8zM400.1 37.4h1.8v1.65h-1.8zM400.1 39.5h1.8v1.65h-1.8zM400.1 41.6h1.8v1.65h-1.8zM404.6 28.8h1.8v1.65h-1.8zM404.6 33h1.8v1.65h-1.8zM404.6 35.1h1.8v1.65h-1.8zM404.6 37.2h1.8v1.65h-1.8zM404.6 39.3h1.8v1.65h-1.8zM404.6 41.4h1.8v1.65h-1.8zM409.1 30.3h1.8v1.65h-1.8zM409.1 32.4h1.8v1.65h-1.8zM409.1 34.5h1.8v1.65h-1.8zM409.1 36.6h1.8v1.65h-1.8zM409.1 38.7h1.8v1.65h-1.8zM409.1 40.8h1.8v1.65h-1.8zM413.6 32.2h1.8v1.65h-1.8zM413.6 34.3h1.8v1.65h-1.8zM413.6 36.4h1.8v1.65h-1.8zM413.6 38.5h1.8v1.65h-1.8zM413.6 40.6h1.8v1.65h-1.8zM418.1 35h1.8v1.65h-1.8zM418.1 39.2h1.8v1.65h-1.8zM418.1 41.3h1.8v1.65h-1.8zM418.1 43.4h1.8v1.65h-1.8zM422.6 37.5h1.8v1.65h-1.8zM422.6 39.6h1.8v1.65h-1.8zM422.6 41.7h1.8v1.65h-1.8zM422.6 43.8h1.8v1.65h-1.8zM427.1 38.4h1.8v1.65h-1.8zM427.1 40.5h1.8v1.65h-1.8zM427.1 42.6h1.8v1.65h-1.8zM427.1 44.7h1.8v1.65h-1.8zM427.1 46.8h1.8v1.65h-1.8zM431.6 40.7h1.8v1.65h-1.8zM431.6 42.8h1.8v1.65h-1.8zM431.6 44.9h1.8v1.65h-1.8zM431.6 47h1.8v1.65h-1.8zM436.1 38.4h1.8v1.65h-1.8zM436.1 40.5h1.8v1.65h-1.8zM436.1 42.6h1.8v1.65h-1.8zM436.1 44.7h1.8v1.65h-1.8zM436.1 46.8h1.8v1.65h-1.8zM440.6 37.5h1.8v1.65h-1.8zM440.6 39.6h1.8v1.65h-1.8zM440.6 41.7h1.8v1.65h-1.8zM440.6 43.8h1.8v1.65h-1.8zM445.1 35h1.8v1.65h-1.8zM445.1 37.1h1.8v1.65h-1.8zM445.1 39.2h1.8v1.65h-1.8zM445.1 41.3h1.8v1.65h-1.8zM445.1 43.4h1.8v1.65h-1.8zM449.6 32.2h1.8v1.65h-1.8zM449.6 34.3h1.8v1.65h-1.8zM449.6 36.4h1.8v1.65h-1.8zM449.6 38.5h1.8v1.65h-1.8zM449.6 40.6h1.8v1.65h-1.8zM454.1 30.3h1.8v1.65h-1.8zM454.1 34.5h1.8v1.65h-1.8zM454.1 36.6h1.8v1.65h-1.8zM454.1 38.7h1.8v1.65h-1.8zM454.1 40.8h1.8v1.65h-1.8zM458.6 26.7h1.8v1.65h-1.8zM458.6 28.8h1.8v1.65h-1.8zM458.6 30.9h1.8v1.65h-1.8zM458.6 33h1.8v1.65h-1.8zM458.6 35.1h1.8v1.65h-1.8zM458.6 37.2h1.8v1.65h-1.8zM458.6 39.3h1.8v1.65h-1.8zM458.6 41.4h1.8v1.65h-1.8zM463.1 26.9h1.8v1.65h-1.8zM463.1 29h1.8v1.65h-1.8zM463.1 31.1h1.8v1.65h-1.8zM463.1 33.2h1.8v1.65h-1.8zM463.1 37.4h1.8v1.65h-1.8zM463.1 39.5h1.8v1.65h-1.8zM463.1 41.6h1.8v1.65h-1.8zM467.6 21.9h1.8v1.65h-1.8zM467.6 24h1.8v1.65h-1.8zM467.6 26.1h1.8v1.65h-1.8zM467.6 28.2h1.8v1.65h-1.8zM467.6 30.3h1.8v1.65h-1.8zM467.6 32.4h1.8v1.65h-1.8zM467.6 34.5h1.8v1.65h-1.8zM467.6 36.6h1.8v1.65h-1.8zM467.6 38.7h1.8v1.65h-1.8zM467.6 40.8h1.8v1.65h-1.8zM472.1 19.4h1.8v1.65h-1.8zM472.1 21.5h1.8v1.65h-1.8zM472.1 23.6h1.8v1.65h-1.8zM472.1 25.7h1.8v1.65h-1.8zM472.1 27.8h1.8v1.65h-1.8zM472.1 29.9h1.8v1.65h-1.8zM472.1 32h1.8v1.65h-1.8zM472.1 34.1h1.8v1.65h-1.8zM472.1 36.2h1.8v1.65h-1.8zM472.1 38.3h1.8v1.65h-1.8zM472.1 42.5h1.8v1.65h-1.8zM476.6 19.4h1.8v1.65h-1.8zM476.6 21.5h1.8v1.65h-1.8zM476.6 23.6h1.8v1.65h-1.8zM476.6 25.7h1.8v1.65h-1.8zM476.6 27.8h1.8v1.65h-1.8zM476.6 29.9h1.8v1.65h-1.8zM476.6 32h1.8v1.65h-1.8zM476.6 34.1h1.8v1.65h-1.8zM476.6 36.2h1.8v1.65h-1.8zM476.6 38.3h1.8v1.65h-1.8zM476.6 40.4h1.8v1.65h-1.8zM476.6 42.5h1.8v1.65h-1.8zM476.6 44.6h1.8v1.65h-1.8zM481.1 19.4h1.8v1.65h-1.8zM481.1 21.5h1.8v1.65h-1.8zM481.1 23.6h1.8v1.65h-1.8zM481.1 25.7h1.8v1.65h-1.8zM481.1 27.8h1.8v1.65h-1.8zM481.1 29.9h1.8v1.65h-1.8zM481.1 32h1.8v1.65h-1.8zM481.1 34.1h1.8v1.65h-1.8zM481.1 36.2h1.8v1.65h-1.8zM481.1 38.3h1.8v1.65h-1.8zM481.1 40.4h1.8v1.65h-1.8zM481.1 42.5h1.8v1.65h-1.8zM481.1 44.6h1.8v1.65h-1.8zM485.6 19.4h1.8v1.65h-1.8zM485.6 21.5h1.8v1.65h-1.8zM485.6 23.6h1.8v1.65h-1.8zM485.6 25.7h1.8v1.65h-1.8zM485.6 27.8h1.8v1.65h-1.8zM485.6 29.9h1.8v1.65h-1.8zM485.6 32h1.8v1.65h-1.8zM485.6 34.1h1.8v1.65h-1.8zM485.6 36.2h1.8v1.65h-1.8zM485.6 38.3h1.8v1.65h-1.8zM485.6 40.4h1.8v1.65h-1.8zM485.6 42.5h1.8v1.65h-1.8zM485.6 44.6h1.8v1.65h-1.8zM490.1 21.5h1.8v1.65h-1.8zM490.1 23.6h1.8v1.65h-1.8zM490.1 25.7h1.8v1.65h-1.8zM490.1 27.8h1.8v1.65h-1.8zM490.1 29.9h1.8v1.65h-1.8zM490.1 32h1.8v1.65h-1.8zM490.1 34.1h1.8v1.65h-1.8zM490.1 36.2h1.8v1.65h-1.8zM490.1 38.3h1.8v1.65h-1.8zM490.1 40.4h1.8v1.65h-1.8zM490.1 42.5h1.8v1.65h-1.8zM490.1 44.6h1.8v1.65h-1.8zM494.6 19.4h1.8v1.65h-1.8zM494.6 21.5h1.8v1.65h-1.8zM494.6 23.6h1.8v1.65h-1.8zM494.6 25.7h1.8v1.65h-1.8zM494.6 27.8h1.8v1.65h-1.8zM494.6 29.9h1.8v1.65h-1.8zM494.6 32h1.8v1.65h-1.8zM494.6 36.2h1.8v1.65h-1.8zM494.6 38.3h1.8v1.65h-1.8zM494.6 40.4h1.8v1.65h-1.8zM494.6 42.5h1.8v1.65h-1.8zM494.6 44.6h1.8v1.65h-1.8zM494.6 46.7h1.8v1.65h-1.8zM499.1 19.4h1.8v1.65h-1.8zM499.1 21.5h1.8v1.65h-1.8zM499.1 23.6h1.8v1.65h-1.8zM499.1 25.7h1.8v1.65h-1.8zM499.1 27.8h1.8v1.65h-1.8zM499.1 29.9h1.8v1.65h-1.8zM499.1 32h1.8v1.65h-1.8zM499.1 34.1h1.8v1.65h-1.8zM499.1 36.2h1.8v1.65h-1.8zM499.1 38.3h1.8v1.65h-1.8zM499.1 40.4h1.8v1.65h-1.8zM499.1 42.5h1.8v1.65h-1.8zM499.1 44.6h1.8v1.65h-1.8zM499.1 46.7h1.8v1.65h-1.8zM503.6 19.4h1.8v1.65h-1.8zM503.6 21.5h1.8v1.65h-1.8zM503.6 23.6h1.8v1.65h-1.8zM503.6 25.7h1.8v1.65h-1.8zM503.6 27.8h1.8v1.65h-1.8zM503.6 29.9h1.8v1.65h-1.8zM503.6 32h1.8v1.65h-1.8zM503.6 34.1h1.8v1.65h-1.8zM503.6 36.2h1.8v1.65h-1.8zM503.6 38.3h1.8v1.65h-1.8zM503.6 40.4h1.8v1.65h-1.8zM503.6 42.5h1.8v1.65h-1.8zM503.6 44.6h1.8v1.65h-1.8zM503.6 46.7h1.8v1.65h-1.8zM508.1 19.4h1.8v1.65h-1.8zM508.1 21.5h1.8v1.65h-1.8zM508.1 23.6h1.8v1.65h-1.8zM508.1 25.7h1.8v1.65h-1.8zM508.1 27.8h1.8v1.65h-1.8zM508.1 29.9h1.8v1.65h-1.8zM508.1 32h1.8v1.65h-1.8zM508.1 34.1h1.8v1.65h-1.8zM508.1 36.2h1.8v1.65h-1.8zM508.1 38.3h1.8v1.65h-1.8zM508.1 40.4h1.8v1.65h-1.8zM508.1 42.5h1.8v1.65h-1.8zM508.1 44.6h1.8v1.65h-1.8zM508.1 46.7h1.8v1.65h-1.8zM512.6 19.4h1.8v1.65h-1.8zM512.6 21.5h1.8v1.65h-1.8zM512.6 23.6h1.8v1.65h-1.8zM512.6 25.7h1.8v1.65h-1.8zM512.6 29.9h1.8v1.65h-1.8zM512.6 32h1.8v1.65h-1.8zM512.6 34.1h1.8v1.65h-1.8zM512.6 36.2h1.8v1.65h-1.8zM512.6 38.3h1.8v1.65h-1.8zM512.6 40.4h1.8v1.65h-1.8zM512.6 42.5h1.8v1.65h-1.8zM512.6 44.6h1.8v1.65h-1.8zM512.6 46.7h1.8v1.65h-1.8zM517.1 21.5h1.8v1.65h-1.8zM517.1 23.6h1.8v1.65h-1.8zM517.1 25.7h1.8v1.65h-1.8zM517.1 27.8h1.8v1.65h-1.8zM517.1 29.9h1.8v1.65h-1.8zM517.1 32h1.8v1.65h-1.8zM517.1 34.1h1.8v1.65h-1.8zM517.1 36.2h1.8v1.65h-1.8zM517.1 38.3h1.8v1.65h-1.8zM517.1 40.4h1.8v1.65h-1.8zM517.1 42.5h1.8v1.65h-1.8zM517.1 44.6h1.8v1.65h-1.8zM517.1 46.7h1.8v1.65h-1.8zM521.6 19.4h1.8v1.65h-1.8zM521.6 21.5h1.8v1.65h-1.8zM521.6 23.6h1.8v1.65h-1.8zM521.6 25.7h1.8v1.65h-1.8zM521.6 27.8h1.8v1.65h-1.8zM521.6 32h1.8v1.65h-1.8zM521.6 34.1h1.8v1.65h-1.8zM521.6 36.2h1.8v1.65h-1.8zM521.6 38.3h1.8v1.65h-1.8zM521.6 40.4h1.8v1.65h-1.8zM521.6 42.5h1.8v1.65h-1.8zM521.6 44.6h1.8v1.65h-1.8zM521.6 46.7h1.8v1.65h-1.8z"/>
<path fill="#000" d="M341.62 116.95h1.75v1.7h-1.75zM341.62 119.35h1.75v1.7h-1.75zM341.62 121.79h1.75v1.7h-1.75zM341.62 126.81h1.75v1.7h-1.75zM341.62 129.4h1.75v1.7h-1.75zM341.62 132.04h1.75v1.7h-1.75zM341.62 134.72h1.75v1.7h-1.75zM341.62 137.46h1.75v1.7h-1.75zM341.62 140.25h1.75v1.7h-1.75zM341.62 143.1h1.75v1.7h-1.75zM346.12 114.3h1.75v1.7h-1.75zM346.12 116.65h1.75v1.7h-1.75zM346.12 119.05h1.75v1.7h-1.75zM346.12 121.49h1.75v1.7h-1.75zM346.12 123.98h1.75v1.7h-1.75zM346.12 126.52h1.75v1.7h-1.75zM346.12 129.11h1.75v1.7h-1.75zM346.12 131.74h1.75v1.7h-1.75zM346.12 134.43h1.75v1.7h-1.75zM346.12 137.18h1.75v1.7h-1.75zM346.12 139.97h1.75v1.7h-1.75zM346.12 142.82h1.75v1.7h-1.75zM350.62 114h1.75v1.7h-1.75zM350.62 116.35h1.75v1.7h-1.75zM350.62 118.75h1.75v1.7h-1.75zM350.62 126.22h1.75v1.7h-1.75zM350.62 128.81h1.75v1.7h-1.75zM350.62 131.45h1.75v1.7h-1.75zM350.62 134.15h1.75v1.7h-1.75zM350.62 136.89h1.75v1.7h-1.75zM350.62 139.7h1.75v1.7h-1.75zM350.62 142.55h1.75v1.7h-1.75zM355.12 113.05h1.75v1.7h-1.75zM355.12 115.4h1.75v1.7h-1.75zM355.12 117.8h1.75v1.7h-1.75zM355.12 120.24h1.75v1.7h-1.75zM355.12 122.73h1.75v1.7h-1.75zM355.12 125.27h1.75v1.7h-1.75zM355.12 127.86h1.75v1.7h-1.75zM355.12 130.5h1.75v1.7h-1.75zM355.12 133.19h1.75v1.7h-1.75zM355.12 135.94h1.75v1.7h-1.75zM355.12 138.74h1.75v1.7h-1.75zM355.12 141.59h1.75v1.7h-1.75zM359.62 112.1h1.75v1.7h-1.75zM359.62 114.45h1.75v1.7h-1.75zM359.62 116.85h1.75v1.7h-1.75zM359.62 119.29h1.75v1.7h-1.75zM359.62 121.78h1.75v1.7h-1.75zM359.62 124.32h1.75v1.7h-1.75zM359.62 126.91h1.75v1.7h-1.75zM359.62 129.55h1.75v1.7h-1.75zM359.62 132.24h1.75v1.7h-1.75zM359.62 134.98h1.75v1.7h-1.75zM359.62 137.78h1.75v1.7h-1.75zM364.12 111.15h1.75v1.7h-1.75zM364.12 115.9h1.75v1.7h-1.75zM364.12 118.34h1.75v1.7h-1.75zM364.12 120.83h1.75v1.7h-1.75zM364.12 123.37h1.75v1.7h-1.75zM364.12 125.96h1.75v1.7h-1.75zM364.12 128.6h1.75v1.7h-1.75zM364.12 131.29h1.75v1.7h-1.75zM364.12 134.04h1.75v1.7h-1.75zM364.12 136.84h1.75v1.7h-1.75zM364.12 139.69h1.75v1.7h-1.75zM368.62 110.2h1.75v1.7h-1.75zM368.62 112.55h1.75v1.7h-1.75zM368.62 114.95h1.75v1.7h-1.75zM368.62 117.39h1.75v1.7h-1.75zM368.62 119.88h1.75v1.7h-1.75zM368.62 122.42h1.75v1.7h-1.75zM368.62 125.02h1.75v1.7h-1.75zM368.62 127.66h1.75v1.7h-1.75zM368.62 130.35h1.75v1.7h-1.75zM368.62 133.1h1.75v1.7h-1.75zM368.62 135.9h1.75v1.7h-1.75zM368.62 138.76h1.75v1.7h-1.75zM373.12 108.9h1.75v1.7h-1.75zM373.12 111.25h1.75v1.7h-1.75zM373.12 113.65h1.75v1.7h-1.75zM373.12 116.09h1.75v1.7h-1.75zM373.12 121.12h1.75v1.7h-1.75zM373.12 123.71h1.75v1.7h-1.75zM373.12 126.35h1.75v1.7h-1.75zM373.12 129.04h1.75v1.7h-1.75zM373.12 131.79h1.75v1.7h-1.75zM373.12 134.59h1.75v1.7h-1.75zM373.12 137.45h1.75v1.7h-1.75zM377.62 107.6h1.75v1.7h-1.75zM377.62 109.95h1.75v1.7h-1.75zM377.62 114.8h1.75v1.7h-1.75zM377.62 117.3h1.75v1.7h-1.75zM377.62 119.85h1.75v1.7h-1.75zM377.62 122.46h1.75v1.7h-1.75zM377.62 125.12h1.75v1.7h-1.75zM377.62 127.83h1.75v1.7h-1.75zM377.62 130.61h1.75v1.7h-1.75zM377.62 133.44h1.75v1.7h-1.75zM377.62 139.94h1.75v1.7h-1.75zM382.12 106.05h1.75v1.7h-1.75zM382.12 108.4h1.75v1.7h-1.75zM382.12 110.8h1.75v1.7h-1.75zM382.12 113.26h1.75v1.7h-1.75zM382.12 115.77h1.75v1.7h-1.75zM382.12 118.33h1.75v1.7h-1.75zM382.12 120.95h1.75v1.7h-1.75zM382.12 123.63h1.75v1.7h-1.75zM382.12 126.37h1.75v1.7h-1.75zM382.12 129.17h1.75v1.7h-1.75zM382.12 132.03h1.75v1.7h-1.75zM382.12 136.85h1.75v1.7h-1.75zM386.62 104.5h1.75v1.7h-1.75zM386.62 106.85h1.75v1.7h-1.75zM386.62 109.26h1.75v1.7h-1.75zM386.62 111.72h1.75v1.7h-1.75zM386.62 114.24h1.75v1.7h-1.75zM386.62 119.45h1.75v1.7h-1.75zM386.62 122.15h1.75v1.7h-1.75zM386.62 124.91h1.75v1.7h-1.75zM386.62 127.74h1.75v1.7h-1.75zM391.12 102.6h1.75v1.7h-1.75zM391.12 104.95h1.75v1.7h-1.75zM391.12 107.36h1.75v1.7h-1.75zM391.12 109.82h1.75v1.7h-1.75zM391.12 112.35h1.75v1.7h-1.75zM391.12 114.94h1.75v1.7h-1.75zM391.12 117.59h1.75v1.7h-1.75zM391.12 120.31h1.75v1.7h-1.75zM391.12 123.09h1.75v1.7h-1.75zM391.12 125.94h1.75v1.7h-1.75zM391.12 130.83h1.75v1.7h-1.75zM395.62 100.7h1.75v1.7h-1.75zM395.62 103.05h1.75v1.7h-1.75zM395.62 105.46h1.75v1.7h-1.75zM395.62 107.93h1.75v1.7h-1.75zM395.62 110.46h1.75v1.7h-1.75zM395.62 113.06h1.75v1.7h-1.75zM395.62 115.72h1.75v1.7h-1.75zM395.62 118.45h1.75v1.7h-1.75zM395.62 121.24h1.75v1.7h-1.75zM395.62 128.24h1.75v1.7h-1.75zM400.12 98.45h1.75v1.7h-1.75zM400.12 100.8h1.75v1.7h-1.75zM400.12 103.21h1.75v1.7h-1.75zM400.12 105.68h1.75v1.7h-1.75zM400.12 108.21h1.75v1.7h-1.75zM400.12 110.81h1.75v1.7h-1.75zM400.12 113.47h1.75v1.7h-1.75zM400.12 116.2h1.75v1.7h-1.75zM400.12 119h1.75v1.7h-1.75zM404.62 96.2h1.75v1.7h-1.75zM404.62 98.55h1.75v1.7h-1.75zM404.62 100.96h1.75v1.7h-1.75zM404.62 103.43h1.75v1.7h-1.75zM404.62 105.96h1.75v1.7h-1.75zM404.62 108.56h1.75v1.7h-1.75zM404.62 111.22h1.75v1.7h-1.75zM404.62 113.95h1.75v1.7h-1.75zM404.62 116.75h1.75v1.7h-1.75zM409.12 94.65h1.75v1.7h-1.75zM409.12 99.41h1.75v1.7h-1.75zM409.12 101.88h1.75v1.7h-1.75zM409.12 104.42h1.75v1.7h-1.75zM409.12 107.02h1.75v1.7h-1.75zM409.12 109.69h1.75v1.7h-1.75zM409.12 112.43h1.75v1.7h-1.75zM409.12 115.24h1.75v1.7h-1.75zM413.62 93.1h1.75v1.7h-1.75zM413.62 95.45h1.75v1.7h-1.75zM413.62 97.86h1.75v1.7h-1.75zM413.62 100.34h1.75v1.7h-1.75zM413.62 102.88h1.75v1.7h-1.75zM413.62 105.49h1.75v1.7h-1.75zM413.62 108.17h1.75v1.7h-1.75zM413.62 110.92h1.75v1.7h-1.75zM413.62 113.74h1.75v1.7h-1.75zM418.12 92.45h1.75v1.7h-1.75zM418.12 94.8h1.75v1.7h-1.75zM418.12 97.21h1.75v1.7h-1.75zM418.12 99.69h1.75v1.7h-1.75zM418.12 102.24h1.75v1.7h-1.75zM418.12 104.85h1.75v1.7h-1.75zM418.12 107.53h1.75v1.7h-1.75zM418.12 110.29h1.75v1.7h-1.75zM418.12 113.12h1.75v1.7h-1.75zM422.62 91.8h1.75v1.7h-1.75zM422.62 94.15h1.75v1.7h-1.75zM422.62 96.56h1.75v1.7h-1.75zM422.62 99.04h1.75v1.7h-1.75zM422.62 101.59h1.75v1.7h-1.75zM422.62 104.21h1.75v1.7h-1.75zM422.62 106.9h1.75v1.7h-1.75zM422.62 109.67h1.75v1.7h-1.75zM422.62 112.5h1.75v1.7h-1.75zM427.12 90.85h1.75v1.7h-1.75zM427.12 93.2h1.75v1.7h-1.75zM427.12 95.61h1.75v1.7h-1.75zM427.12 98.1h1.75v1.7h-1.75zM427.12 100.64h1.75v1.7h-1.75zM427.12 103.26h1.75v1.7h-1.75zM427.12 105.96h1.75v1.7h-1.75zM427.12 108.72h1.75v1.7h-1.75zM427.12 111.56h1.75v1.7h-1.75zM431.62 89.9h1.75v1.7h-1.75zM431.62 92.25h1.75v1.7h-1.75zM431.62 94.66h1.75v1.7h-1.75zM431.62 97.15h1.75v1.7h-1.75zM431.62 99.7h1.75v1.7h-1.75zM431.62 102.32h1.75v1.7h-1.75zM431.62 105.01h1.75v1.7h-1.75zM431.62 107.78h1.75v1.7h-1.75zM431.62 110.62h1.75v1.7h-1.75zM436.12 93.2h1.75v1.7h-1.75zM436.12 95.61h1.75v1.7h-1.75zM436.12 98.1h1.75v1.7h-1.75zM436.12 100.64h1.75v1.7h-1.75zM436.12 103.26h1.75v1.7h-1.75zM436.12 105.96h1.75v1.7h-1.75zM436.12 108.72h1.75v1.7h-1.75zM436.12 111.56h1.75v1.7h-1.75zM440.62 91.8h1.75v1.7h-1.75zM440.62 94.15h1.75v1.7h-1.75zM440.62 96.56h1.75v1.7h-1.75zM440.62 99.04h1.75v1.7h-1.75zM440.62 101.59h1.75v1.7h-1.75zM440.62 104.21h1.75v1.7h-1.75zM440.62 106.9h1.75v1.7h-1.75zM440.62 109.67h1.75v1.7h-1.75zM440.62 112.5h1.75v1.7h-1.75zM445.12 92.45h1.75v1.7h-1.75zM445.12 94.8h1.75v1.7h-1.75zM445.12 97.21h1.75v1.7h-1.75zM445.12 99.69h1.75v1.7h-1.75zM445.12 102.24h1.75v1.7h-1.75zM445.12 104.85h1.75v1.7h-1.75zM445.12 107.53h1.75v1.7h-1.75zM445.12 110.29h1.75v1.7h-1.75zM449.62 93.1h1.75v1.7h-1.75zM449.62 95.45h1.75v1.7h-1.75zM449.62 97.86h1.75v1.7h-1.75zM449.62 100.34h1.75v1.7h-1.75zM449.62 102.88h1.75v1.7h-1.75zM449.62 105.49h1.75v1.7h-1.75zM449.62 108.17h1.75v1.7h-1.75zM449.62 110.92h1.75v1.7h-1.75zM449.62 113.74h1.75v1.7h-1.75zM454.12 94.65h1.75v1.7h-1.75zM454.12 97h1.75v1.7h-1.75zM454.12 99.41h1.75v1.7h-1.75zM454.12 101.88h1.75v1.7h-1.75zM454.12 104.42h1.75v1.7h-1.75zM454.12 107.02h1.75v1.7h-1.75zM454.12 109.69h1.75v1.7h-1.75zM454.12 112.43h1.75v1.7h-1.75zM454.12 115.24h1.75v1.7h-1.75zM458.62 96.2h1.75v1.7h-1.75zM458.62 98.55h1.75v1.7h-1.75zM458.62 100.96h1.75v1.7h-1.75zM458.62 103.43h1.75v1.7h-1.75zM458.62 105.96h1.75v1.7h-1.75zM458.62 108.56h1.75v1.7h-1.75zM458.62 111.22h1.75v1.7h-1.75zM458.62 113.95h1.75v1.7h-1.75zM458.62 116.75h1.75v1.7h-1.75zM463.12 98.45h1.75v1.7h-1.75zM463.12 100.8h1.75v1.7h-1.75zM463.12 103.21h1.75v1.7h-1.75zM463.12 105.68h1.75v1.7h-1.75zM463.12 108.21h1.75v1.7h-1.75zM463.12 110.81h1.75v1.7h-1.75zM463.12 113.47h1.75v1.7h-1.75zM463.12 116.2h1.75v1.7h-1.75zM463.12 119h1.75v1.7h-1.75zM467.62 100.7h1.75v1.7h-1.75zM467.62 105.46h1.75v1.7h-1.75zM467.62 107.93h1.75v1.7h-1.75zM467.62 113.06h1.75v1.7h-1.75zM467.62 115.72h1.75v1.7h-1.75zM467.62 118.45h1.75v1.7h-1.75zM467.62 121.24h1.75v1.7h-1.75zM467.62 128.24h1.75v1.7h-1.75zM472.12 102.6h1.75v1.7h-1.75zM472.12 104.95h1.75v1.7h-1.75zM472.12 107.36h1.75v1.7h-1.75zM472.12 112.35h1.75v1.7h-1.75zM472.12 114.94h1.75v1.7h-1.75zM472.12 117.59h1.75v1.7h-1.75zM472.12 120.31h1.75v1.7h-1.75zM472.12 123.09h1.75v1.7h-1.75zM472.12 125.94h1.75v1.7h-1.75zM472.12 130.83h1.75v1.7h-1.75zM476.62 104.5h1.75v1.7h-1.75zM476.62 106.85h1.75v1.7h-1.75zM476.62 109.26h1.75v1.7h-1.75zM476.62 111.72h1.75v1.7h-1.75zM476.62 114.24h1.75v1.7h-1.75zM476.62 116.81h1.75v1.7h-1.75zM476.62 119.45h1.75v1.7h-1.75zM476.62 122.15h1.75v1.7h-1.75zM476.62 124.91h1.75v1.7h-1.75zM476.62 127.74h1.75v1.7h-1.75zM476.62 133.83h1.75v1.7h-1.75zM481.12 106.05h1.75v1.7h-1.75zM481.12 108.4h1.75v1.7h-1.75zM481.12 110.8h1.75v1.7h-1.75zM481.12 113.26h1.75v1.7h-1.75zM481.12 115.77h1.75v1.7h-1.75zM481.12 118.33h1.75v1.7h-1.75zM481.12 120.95h1.75v1.7h-1.75zM481.12 123.63h1.75v1.7h-1.75zM481.12 126.37h1.75v1.7h-1.75zM481.12 129.17h1.75v1.7h-1.75zM481.12 132.03h1.75v1.7h-1.75zM481.12 136.85h1.75v1.7h-1.75zM485.62 107.6h1.75v1.7h-1.75zM485.62 109.95h1.75v1.7h-1.75zM485.62 112.35h1.75v1.7h-1.75zM485.62 114.8h1.75v1.7h-1.75zM485.62 117.3h1.75v1.7h-1.75zM485.62 119.85h1.75v1.7h-1.75zM485.62 122.46h1.75v1.7h-1.75zM485.62 125.12h1.75v1.7h-1.75zM485.62 127.83h1.75v1.7h-1.75zM485.62 130.61h1.75v1.7h-1.75zM485.62 133.44h1.75v1.7h-1.75zM490.12 108.9h1.75v1.7h-1.75zM490.12 111.25h1.75v1.7h-1.75zM490.12 113.65h1.75v1.7h-1.75zM490.12 116.09h1.75v1.7h-1.75zM490.12 118.58h1.75v1.7h-1.75zM490.12 121.12h1.75v1.7h-1.75zM490.12 123.71h1.75v1.7h-1.75zM490.12 126.35h1.75v1.7h-1.75zM490.12 129.04h1.75v1.7h-1.75zM490.12 131.79h1.75v1.7h-1.75zM490.12 134.59h1.75v1.7h-1.75zM490.12 137.45h1.75v1.7h-1.75zM494.62 110.2h1.75v1.7h-1.75zM494.62 112.55h1.75v1.7h-1.75zM494.62 114.95h1.75v1.7h-1.75zM494.62 117.39h1.75v1.7h-1.75zM494.62 119.88h1.75v1.7h-1.75zM494.62 122.42h1.75v1.7h-1.75zM494.62 125.02h1.75v1.7h-1.75zM494.62 127.66h1.75v1.7h-1.75zM494.62 133.1h1.75v1.7h-1.75zM494.62 135.9h1.75v1.7h-1.75zM494.62 138.76h1.75v1.7h-1.75zM499.12 111.15h1.75v1.7h-1.75zM499.12 113.5h1.75v1.7h-1.75zM499.12 115.9h1.75v1.7h-1.75zM499.12 118.34h1.75v1.7h-1.75zM499.12 120.83h1.75v1.7h-1.75zM499.12 123.37h1.75v1.7h-1.75zM499.12 128.6h1.75v1.7h-1.75zM499.12 131.29h1.75v1.7h-1.75zM499.12 134.04h1.75v1.7h-1.75zM499.12 136.84h1.75v1.7h-1.75zM499.12 139.69h1.75v1.7h-1.75zM503.62 112.1h1.75v1.7h-1.75zM503.62 114.45h1.75v1.7h-1.75zM503.62 116.85h1.75v1.7h-1.75zM503.62 119.29h1.75v1.7h-1.75zM503.62 121.78h1.75v1.7h-1.75zM503.62 124.32h1.75v1.7h-1.75zM503.62 126.91h1.75v1.7h-1.75zM503.62 129.55h1.75v1.7h-1.75zM503.62 132.24h1.75v1.7h-1.75zM503.62 134.98h1.75v1.7h-1.75zM503.62 137.78h1.75v1.7h-1.75zM503.62 140.63h1.75v1.7h-1.75zM508.12 117.8h1.75v1.7h-1.75zM508.12 120.24h1.75v1.7h-1.75zM508.12 122.73h1.75v1.7h-1.75zM508.12 125.27h1.75v1.7h-1.75zM508.12 127.86h1.75v1.7h-1.75zM508.12 130.5h1.75v1.7h-1.75zM508.12 133.19h1.75v1.7h-1.75zM508.12 135.94h1.75v1.7h-1.75zM508.12 138.74h1.75v1.7h-1.75zM508.12 141.59h1.75v1.7h-1.75zM512.62 114h1.75v1.7h-1.75zM512.62 116.35h1.75v1.7h-1.75zM512.62 118.75h1.75v1.7h-1.75zM512.62 121.19h1.75v1.7h-1.75zM512.62 123.68h1.75v1.7h-1.75zM512.62 126.22h1.75v1.7h-1.75zM512.62 128.81h1.75v1.7h-1.75zM512.62 131.45h1.75v1.7h-1.75zM512.62 134.15h1.75v1.7h-1.75zM512.62 136.89h1.75v1.7h-1.75zM512.62 139.7h1.75v1.7h-1.75zM512.62 142.55h1.75v1.7h-1.75zM517.12 114.3h1.75v1.7h-1.75zM517.12 116.65h1.75v1.7h-1.75zM517.12 119.05h1.75v1.7h-1.75zM517.12 121.49h1.75v1.7h-1.75zM517.12 123.98h1.75v1.7h-1.75zM517.12 126.52h1.75v1.7h-1.75zM517.12 129.11h1.75v1.7h-1.75zM517.12 131.74h1.75v1.7h-1.75zM517.12 134.43h1.75v1.7h-1.75zM517.12 137.18h1.75v1.7h-1.75zM517.12 139.97h1.75v1.7h-1.75zM517.12 142.82h1.75v1.7h-1.75zM521.62 114.6h1.75v1.7h-1.75zM521.62 116.95h1.75v1.7h-1.75zM521.62 119.35h1.75v1.7h-1.75zM521.62 121.79h1.75v1.7h-1.75zM521.62 124.28h1.75v1.7h-1.75zM521.62 126.81h1.75v1.7h-1.75zM521.62 129.4h1.75v1.7h-1.75zM521.62 132.04h1.75v1.7h-1.75zM521.62 134.72h1.75v1.7h-1.75zM521.62 137.46h1.75v1.7h-1.75zM521.62 140.25h1.75v1.7h-1.75zM521.62 143.1h1.75v1.7h-1.75z"/>
<rect x="342.5" y="68" width="180" height="4" fill="#ffff00"/>
<circle cx="365" cy="47.5" r="1.1" fill="#ff1a1a"/>
<circle cx="369.5" cy="47.53" r="1.1" fill="#ff1a1a"/>
<circle cx="374" cy="47.57" r="1.1" fill="#ff1a1a"/>
<circle cx="378.5" cy="47.6" r="1.1" fill="#ff1a1a"/>
<circle cx="383" cy="47.8" r="1.1" fill="#ff1a1a"/>
<circle cx="387.5" cy="48.9" r="1.1" fill="#ff1a1a"/>
<circle cx="392" cy="50.1" r="1.1" fill="#ff1a1a"/>
<circle cx="396.5" cy="51.4" r="1.1" fill="#ff1a1a"/>
<circle cx="401" cy="52.7" r="1.1" fill="#ff1a1a"/>
<circle cx="405.5" cy="54.6" r="1.1" fill="#ff1a1a"/>
<circle cx="410" cy="56.6" r="1.1" fill="#ff1a1a"/>
<circle cx="414.5" cy="58.9" r="1.1" fill="#ff1a1a"/>
<circle cx="419" cy="61.1" r="1.1" fill="#ff1a1a"/>
<circle cx="423.5" cy="63.6" r="1.1" fill="#ff1a1a"/>
<circle cx="428" cy="66.3" r="1.1" fill="#ff1a1a"/>
<circle cx="432.5" cy="69" r="1.1" fill="#ff1a1a"/>
<circle cx="392" cy="100.5" r="1.1" fill="#1a1aff"/>
<circle cx="396.5" cy="97.7" r="1.1" fill="#1a1aff"/>
<circle cx="401" cy="95" r="1.1" fill="#1a1aff"/>
<circle cx="405.5" cy="91.7" r="1.1" fill="#1a1aff"/>
<circle cx="410" cy="88" r="1.1" fill="#1a1aff"/>
<circle cx="414.5" cy="83.9" r="1.1" fill="#1a1aff"/>
<circle cx="419" cy="80.7" r="1.1" fill="#1a1aff"/>
<circle cx="423.5" cy="77.7" r="1.1" fill="#1a1aff"/>
<circle cx="428" cy="74.5" r="1.1" fill="#1a1aff"/>
<circle cx="432.5" cy="70" r="1.1" fill="#1a1aff"/>
<circle cx="437" cy="66.3" r="1.1" fill="#1a1aff"/>
<circle cx="441.5" cy="63.6" r="1.1" fill="#1a1aff"/>
<circle cx="446" cy="61.1" r="1.1" fill="#1a1aff"/>
<circle cx="450.5" cy="58.9" r="1.1" fill="#1a1aff"/>
<circle cx="455" cy="56.6" r="1.1" fill="#1a1aff"/>
<circle cx="459.5" cy="54.6" r="1.1" fill="#1a1aff"/>
<circle cx="464" cy="52.7" r="1.1" fill="#1a1aff"/>
<circle cx="468.5" cy="51.4" r="1.1" fill="#1a1aff"/>
<circle cx="473" cy="50.1" r="1.1" fill="#1a1aff"/>
<circle cx="477.5" cy="48.9" r="1.1" fill="#1a1aff"/>
<circle cx="482" cy="47.8" r="1.1" fill="#1a1aff"/>
<circle cx="486.5" cy="47.6" r="1.1" fill="#1a1aff"/>
<circle cx="491" cy="47.57" r="1.1" fill="#1a1aff"/>
<circle cx="495.5" cy="47.53" r="1.1" fill="#1a1aff"/>
<circle cx="500" cy="47.5" r="1.1" fill="#1a1aff"/>
<circle cx="437" cy="74.5" r="1.1" fill="#ff1a1a"/>
<circle cx="441.5" cy="77.7" r="1.1" fill="#ff1a1a"/>
<circle cx="446" cy="80.7" r="1.1" fill="#ff1a1a"/>
<circle cx="450.5" cy="83.9" r="1.1" fill="#ff1a1a"/>
<circle cx="455" cy="88" r="1.1" fill="#ff1a1a"/>
<circle cx="459.5" cy="91.7" r="1.1" fill="#ff1a1a"/>
<circle cx="464" cy="95" r="1.1" fill="#ff1a1a"/>
<circle cx="468.5" cy="97.7" r="1.1" fill="#ff1a1a"/>
<circle cx="473" cy="100.5" r="1.1" fill="#ff1a1a"/>
<circle cx="414.5" cy="43.1" r="1.1" fill="#ff2aff"/>
<circle cx="419" cy="46.3" r="1.1" fill="#ff2aff"/>
<circle cx="423.5" cy="49" r="1.1" fill="#ff2aff"/>
<circle cx="428" cy="50.5" r="1.1" fill="#ff2aff"/>
<circle cx="432.5" cy="51.1" r="1.1" fill="#ff2aff"/>
<circle cx="437" cy="50.5" r="1.1" fill="#ff2aff"/>
<circle cx="441.5" cy="49" r="1.1" fill="#ff2aff"/>
<circle cx="446" cy="46.3" r="1.1" fill="#ff2aff"/>
<circle cx="450.5" cy="43.1" r="1.1" fill="#ff2aff"/>
<rect x="342.5" y="19" width="180" height="137" fill="none" stroke="#000" stroke-width="1.3"/>
<line x1="340.2" y1="156" x2="342.5" y2="156" stroke="#000" stroke-width="1"/>
<text transform="translate(337.9,159.3) scale(1,1.1)" text-anchor="end" style="font-family:'Liberation Serif',serif;font-weight:bold;font-size:11px">0.45</text>
<line x1="341.2" y1="138.88" x2="342.5" y2="138.88" stroke="#000" stroke-width="1"/>
<line x1="340.2" y1="121.75" x2="342.5" y2="121.75" stroke="#000" stroke-width="1"/>
<text transform="translate(337.9,125.05) scale(1,1.1)" text-anchor="end" style="font-family:'Liberation Serif',serif;font-weight:bold;font-size:11px">0.50</text>
<line x1="341.2" y1="104.62" x2="342.5" y2="104.62" stroke="#000" stroke-width="1"/>
<line x1="340.2" y1="87.5" x2="342.5" y2="87.5" stroke="#000" stroke-width="1"/>
<text transform="translate(337.9,90.8) scale(1,1.1)" text-anchor="end" style="font-family:'Liberation Serif',serif;font-weight:bold;font-size:11px">0.55</text>
<line x1="341.2" y1="70.38" x2="342.5" y2="70.38" stroke="#000" stroke-width="1"/>
<line x1="340.2" y1="53.25" x2="342.5" y2="53.25" stroke="#000" stroke-width="1"/>
<text transform="translate(337.9,56.55) scale(1,1.1)" text-anchor="end" style="font-family:'Liberation Serif',serif;font-weight:bold;font-size:11px">0.60</text>
<line x1="341.2" y1="36.13" x2="342.5" y2="36.13" stroke="#000" stroke-width="1"/>
<line x1="340.2" y1="19" x2="342.5" y2="19" stroke="#000" stroke-width="1"/>
<text transform="translate(337.9,22.3) scale(1,1.1)" text-anchor="end" style="font-family:'Liberation Serif',serif;font-weight:bold;font-size:11px">0.65</text>
<line x1="342.5" y1="156" x2="342.5" y2="158.3" stroke="#000" stroke-width="1"/>
<text transform="translate(342.5,169.3) scale(1,1.1)" text-anchor="middle" style="font-family:'Liberation Serif',serif;font-weight:bold;font-size:11px">-1.0</text>
<line x1="365" y1="156" x2="365" y2="157.3" stroke="#000" stroke-width="1"/>
<line x1="387.5" y1="156" x2="387.5" y2="158.3" stroke="#000" stroke-width="1"/>
<text transform="translate(387.5,169.3) scale(1,1.1)" text-anchor="middle" style="font-family:'Liberation Serif',serif;font-weight:bold;font-size:11px">-0.5</text>
<line x1="410" y1="156" x2="410" y2="157.3" stroke="#000" stroke-width="1"/>
<line x1="432.5" y1="156" x2="432.5" y2="158.3" stroke="#000" stroke-width="1"/>
<text transform="translate(432.5,169.3) scale(1,1.1)" text-anchor="middle" style="font-family:'Liberation Serif',serif;font-weight:bold;font-size:11px">0.0</text>
<line x1="455" y1="156" x2="455" y2="157.3" stroke="#000" stroke-width="1"/>
<line x1="477.5" y1="156" x2="477.5" y2="158.3" stroke="#000" stroke-width="1"/>
<text transform="translate(477.5,169.3) scale(1,1.1)" text-anchor="middle" style="font-family:'Liberation Serif',serif;font-weight:bold;font-size:11px">0.5</text>
<line x1="500" y1="156" x2="500" y2="157.3" stroke="#000" stroke-width="1"/>
<line x1="522.5" y1="156" x2="522.5" y2="158.3" stroke="#000" stroke-width="1"/>
<text transform="translate(522.5,169.3) scale(1,1.1)" text-anchor="middle" style="font-family:'Liberation Serif',serif;font-weight:bold;font-size:11px">1.0</text>
<text transform="translate(316.8,90.1) rotate(-90) scale(1,1.06)" text-anchor="middle" style="font-family:'Liberation Serif',serif;font-weight:bold;font-size:11.55px">Frequency (THz)</text>
<text transform="translate(416.3,179) scale(1,1.08)" style="font-family:'Liberation Serif',serif;font-weight:bold;font-size:11.3px"><tspan font-style="italic">k</tspan><tspan font-style="italic" font-size="7.5px" dy="2.6">x</tspan><tspan dy="-2.6" dx="-0.3">(π/a)</tspan></text>
<rect x="75.5" y="238.8" width="180" height="27.2" fill="#bdbdbd"/>
<path fill="#000" d="M74.6 200.4h1.8v1.5h-1.8zM74.6 202.6h1.8v1.5h-1.8zM74.6 204.8h1.8v1.5h-1.8zM74.6 207h1.8v1.5h-1.8zM74.6 209.2h1.8v1.5h-1.8zM74.6 211.4h1.8v1.5h-1.8zM74.6 213.6h1.8v1.5h-1.8zM74.6 215.8h1.8v1.5h-1.8zM74.6 218h1.8v1.5h-1.8zM74.6 220.2h1.8v1.5h-1.8zM74.6 222.4h1.8v1.5h-1.8zM74.6 226.8h1.8v1.5h-1.8zM79.1 200.4h1.8v1.5h-1.8zM79.1 202.6h1.8v1.5h-1.8zM79.1 204.8h1.8v1.5h-1.8zM79.1 207h1.8v1.5h-1.8zM79.1 209.2h1.8v1.5h-1.8zM79.1 211.4h1.8v1.5h-1.8zM79.1 213.6h1.8v1.5h-1.8zM79.1 215.8h1.8v1.5h-1.8zM79.1 218h1.8v1.5h-1.8zM79.1 220.2h1.8v1.5h-1.8zM79.1 222.4h1.8v1.5h-1.8zM79.1 224.6h1.8v1.5h-1.8zM79.1 226.8h1.8v1.5h-1.8zM83.6 200.4h1.8v1.5h-1.8zM83.6 202.6h1.8v1.5h-1.8zM83.6 204.8h1.8v1.5h-1.8zM83.6 207h1.8v1.5h-1.8zM83.6 209.2h1.8v1.5h-1.8zM83.6 211.4h1.8v1.5h-1.8zM83.6 213.6h1.8v1.5h-1.8zM83.6 215.8h1.8v1.5h-1.8zM83.6 218h1.8v1.5h-1.8zM83.6 220.2h1.8v1.5h-1.8zM83.6 222.4h1.8v1.5h-1.8zM83.6 224.6h1.8v1.5h-1.8zM83.6 226.8h1.8v1.5h-1.8zM88.1 200.4h1.8v1.5h-1.8zM88.1 202.6h1.8v1.5h-1.8zM88.1 204.8h1.8v1.5h-1.8zM88.1 207h1.8v1.5h-1.8zM88.1 209.2h1.8v1.5h-1.8zM88.1 211.4h1.8v1.5h-1.8zM88.1 213.6h1.8v1.5h-1.8zM88.1 215.8h1.8v1.5h-1.8zM88.1 218h1.8v1.5h-1.8zM88.1 220.2h1.8v1.5h-1.8zM88.1 222.4h1.8v1.5h-1.8zM88.1 224.6h1.8v1.5h-1.8zM88.1 226.8h1.8v1.5h-1.8zM92.6 200.4h1.8v1.5h-1.8zM92.6 202.6h1.8v1.5h-1.8zM92.6 204.8h1.8v1.5h-1.8zM92.6 207h1.8v1.5h-1.8zM92.6 209.2h1.8v1.5h-1.8zM92.6 211.4h1.8v1.5h-1.8zM92.6 213.6h1.8v1.5h-1.8zM92.6 215.8h1.8v1.5h-1.8zM92.6 218h1.8v1.5h-1.8zM92.6 220.2h1.8v1.5h-1.8zM92.6 222.4h1.8v1.5h-1.8zM92.6 224.6h1.8v1.5h-1.8zM92.6 226.8h1.8v1.5h-1.8zM97.1 200.4h1.8v1.5h-1.8zM97.1 202.6h1.8v1.5h-1.8zM97.1 207h1.8v1.5h-1.8zM97.1 209.2h1.8v1.5h-1.8zM97.1 211.4h1.8v1.5h-1.8zM97.1 213.6h1.8v1.5h-1.8zM97.1 215.8h1.8v1.5h-1.8zM97.1 218h1.8v1.5h-1.8zM97.1 220.2h1.8v1.5h-1.8zM97.1 222.4h1.8v1.5h-1.8zM97.1 224.6h1.8v1.5h-1.8zM97.1 226.8h1.8v1.5h-1.8zM101.6 200.4h1.8v1.5h-1.8zM101.6 202.6h1.8v1.5h-1.8zM101.6 204.8h1.8v1.5h-1.8zM101.6 207h1.8v1.5h-1.8zM101.6 209.2h1.8v1.5h-1.8zM101.6 211.4h1.8v1.5h-1.8zM101.6 213.6h1.8v1.5h-1.8zM101.6 215.8h1.8v1.5h-1.8zM101.6 218h1.8v1.5h-1.8zM101.6 220.2h1.8v1.5h-1.8zM101.6 224.6h1.8v1.5h-1.8zM106.1 200.4h1.8v1.5h-1.8zM106.1 204.8h1.8v1.5h-1.8zM106.1 207h1.8v1.5h-1.8zM106.1 209.2h1.8v1.5h-1.8zM106.1 211.4h1.8v1.5h-1.8zM106.1 213.6h1.8v1.5h-1.8zM106.1 215.8h1.8v1.5h-1.8zM106.1 218h1.8v1.5h-1.8zM106.1 220.2h1.8v1.5h-1.8zM106.1 224.6h1.8v1.5h-1.8zM110.6 202.6h1.8v1.5h-1.8zM110.6 204.8h1.8v1.5h-1.8zM110.6 207h1.8v1.5h-1.8zM110.6 209.2h1.8v1.5h-1.8zM110.6 211.4h1.8v1.5h-1.8zM110.6 213.6h1.8v1.5h-1.8zM110.6 215.8h1.8v1.5h-1.8zM110.6 218h1.8v1.5h-1.8zM110.6 220.2h1.8v1.5h-1.8zM110.6 222.4h1.8v1.5h-1.8zM110.6 224.6h1.8v1.5h-1.8zM115.1 200.4h1.8v1.5h-1.8zM115.1 202.6h1.8v1.5h-1.8zM115.1 204.8h1.8v1.5h-1.8zM115.1 207h1.8v1.5h-1.8zM115.1 211.4h1.8v1.5h-1.8zM115.1 213.6h1.8v1.5h-1.8zM115.1 215.8h1.8v1.5h-1.8zM115.1 218h1.8v1.5h-1.8zM115.1 220.2h1.8v1.5h-1.8zM115.1 222.4h1.8v1.5h-1.8zM115.1 224.6h1.8v1.5h-1.8zM119.6 200.4h1.8v1.5h-1.8zM119.6 202.6h1.8v1.5h-1.8zM119.6 204.8h1.8v1.5h-1.8zM119.6 207h1.8v1.5h-1.8zM119.6 209.2h1.8v1.5h-1.8zM119.6 211.4h1.8v1.5h-1.8zM119.6 213.6h1.8v1.5h-1.8zM119.6 215.8h1.8v1.5h-1.8zM119.6 220.2h1.8v1.5h-1.8zM119.6 222.4h1.8v1.5h-1.8zM124.1 200.4h1.8v1.5h-1.8zM124.1 202.6h1.8v1.5h-1.8zM124.1 204.8h1.8v1.5h-1.8zM124.1 207h1.8v1.5h-1.8zM124.1 209.2h1.8v1.5h-1.8zM124.1 211.4h1.8v1.5h-1.8zM124.1 213.6h1.8v1.5h-1.8zM124.1 215.8h1.8v1.5h-1.8zM124.1 218h1.8v1.5h-1.8zM124.1 220.2h1.8v1.5h-1.8zM124.1 222.4h1.8v1.5h-1.8zM128.6 202h1.8v1.5h-1.8zM128.6 204.2h1.8v1.5h-1.8zM128.6 208.6h1.8v1.5h-1.8zM128.6 210.8h1.8v1.5h-1.8zM128.6 213h1.8v1.5h-1.8zM128.6 215.2h1.8v1.5h-1.8zM128.6 219.6h1.8v1.5h-1.8zM128.6 221.8h1.8v1.5h-1.8zM133.1 208.4h1.8v1.5h-1.8zM133.1 210.6h1.8v1.5h-1.8zM133.1 212.8h1.8v1.5h-1.8zM133.1 215h1.8v1.5h-1.8zM133.1 217.2h1.8v1.5h-1.8zM133.1 219.4h1.8v1.5h-1.8zM133.1 221.6h1.8v1.5h-1.8zM137.6 208.2h1.8v1.5h-1.8zM137.6 210.4h1.8v1.5h-1.8zM137.6 212.6h1.8v1.5h-1.8zM137.6 217h1.8v1.5h-1.8zM137.6 219.2h1.8v1.5h-1.8zM137.6 221.4h1.8v1.5h-1.8zM142.1 212.2h1.8v1.5h-1.8zM142.1 214.4h1.8v1.5h-1.8zM142.1 216.6h1.8v1.5h-1.8zM142.1 218.8h1.8v1.5h-1.8zM142.1 221h1.8v1.5h-1.8zM146.6 213.6h1.8v1.5h-1.8zM146.6 215.8h1.8v1.5h-1.8zM146.6 218h1.8v1.5h-1.8zM146.6 220.2h1.8v1.5h-1.8zM146.6 222.4h1.8v1.5h-1.8zM146.6 224.6h1.8v1.5h-1.8zM151.1 217h1.8v1.5h-1.8zM151.1 219.2h1.8v1.5h-1.8zM151.1 221.4h1.8v1.5h-1.8zM151.1 223.6h1.8v1.5h-1.8zM151.1 225.8h1.8v1.5h-1.8zM151.1 228h1.8v1.5h-1.8zM155.6 218.3h1.8v1.5h-1.8zM155.6 220.5h1.8v1.5h-1.8zM155.6 222.7h1.8v1.5h-1.8zM155.6 224.9h1.8v1.5h-1.8zM155.6 229.3h1.8v1.5h-1.8zM155.6 231.5h1.8v1.5h-1.8zM160.1 219h1.8v1.5h-1.8zM160.1 221.2h1.8v1.5h-1.8zM160.1 223.4h1.8v1.5h-1.8zM160.1 225.6h1.8v1.5h-1.8zM160.1 227.8h1.8v1.5h-1.8zM160.1 230h1.8v1.5h-1.8zM160.1 232.2h1.8v1.5h-1.8zM164.6 219h1.8v1.5h-1.8zM164.6 221.2h1.8v1.5h-1.8zM164.6 223.4h1.8v1.5h-1.8zM164.6 227.8h1.8v1.5h-1.8zM164.6 230h1.8v1.5h-1.8zM164.6 234.4h1.8v1.5h-1.8zM169.1 221.2h1.8v1.5h-1.8zM169.1 223.4h1.8v1.5h-1.8zM169.1 225.6h1.8v1.5h-1.8zM169.1 227.8h1.8v1.5h-1.8zM169.1 230h1.8v1.5h-1.8zM169.1 232.2h1.8v1.5h-1.8zM173.6 218.3h1.8v1.5h-1.8zM173.6 220.5h1.8v1.5h-1.8zM173.6 222.7h1.8v1.5h-1.8zM173.6 224.9h1.8v1.5h-1.8zM173.6 227.1h1.8v1.5h-1.8zM173.6 229.3h1.8v1.5h-1.8zM173.6 231.5h1.8v1.5h-1.8zM178.1 217h1.8v1.5h-1.8zM178.1 219.2h1.8v1.5h-1.8zM178.1 221.4h1.8v1.5h-1.8zM178.1 223.6h1.8v1.5h-1.8zM178.1 225.8h1.8v1.5h-1.8zM178.1 228h1.8v1.5h-1.8zM182.6 213.6h1.8v1.5h-1.8zM182.6 215.8h1.8v1.5h-1.8zM182.6 218h1.8v1.5h-1.8zM182.6 220.2h1.8v1.5h-1.8zM182.6 222.4h1.8v1.5h-1.8zM182.6 224.6h1.8v1.5h-1.8zM187.1 212.2h1.8v1.5h-1.8zM187.1 214.4h1.8v1.5h-1.8zM187.1 216.6h1.8v1.5h-1.8zM187.1 218.8h1.8v1.5h-1.8zM187.1 221h1.8v1.5h-1.8zM191.6 208.2h1.8v1.5h-1.8zM191.6 210.4h1.8v1.5h-1.8zM191.6 212.6h1.8v1.5h-1.8zM191.6 214.8h1.8v1.5h-1.8zM191.6 217h1.8v1.5h-1.8zM191.6 219.2h1.8v1.5h-1.8zM191.6 221.4h1.8v1.5h-1.8zM196.1 206.2h1.8v1.5h-1.8zM196.1 208.4h1.8v1.5h-1.8zM196.1 210.6h1.8v1.5h-1.8zM196.1 212.8h1.8v1.5h-1.8zM196.1 215h1.8v1.5h-1.8zM196.1 219.4h1.8v1.5h-1.8zM196.1 221.6h1.8v1.5h-1.8zM200.6 202h1.8v1.5h-1.8zM200.6 204.2h1.8v1.5h-1.8zM200.6 206.4h1.8v1.5h-1.8zM200.6 208.6h1.8v1.5h-1.8zM200.6 210.8h1.8v1.5h-1.8zM200.6 213h1.8v1.5h-1.8zM200.6 215.2h1.8v1.5h-1.8zM200.6 217.4h1.8v1.5h-1.8zM200.6 219.6h1.8v1.5h-1.8zM200.6 221.8h1.8v1.5h-1.8zM205.1 200.4h1.8v1.5h-1.8zM205.1 202.6h1.8v1.5h-1.8zM205.1 204.8h1.8v1.5h-1.8zM205.1 207h1.8v1.5h-1.8zM205.1 211.4h1.8v1.5h-1.8zM205.1 213.6h1.8v1.5h-1.8zM205.1 215.8h1.8v1.5h-1.8zM205.1 218h1.8v1.5h-1.8zM205.1 220.2h1.8v1.5h-1.8zM205.1 222.4h1.8v1.5h-1.8zM209.6 200.4h1.8v1.5h-1.8zM209.6 202.6h1.8v1.5h-1.8zM209.6 204.8h1.8v1.5h-1.8zM209.6 207h1.8v1.5h-1.8zM209.6 209.2h1.8v1.5h-1.8zM209.6 211.4h1.8v1.5h-1.8zM209.6 213.6h1.8v1.5h-1.8zM209.6 215.8h1.8v1.5h-1.8zM209.6 218h1.8v1.5h-1.8zM209.6 220.2h1.8v1.5h-1.8zM209.6 222.4h1.8v1.5h-1.8zM214.1 200.4h1.8v1.5h-1.8zM214.1 202.6h1.8v1.5h-1.8zM214.1 207h1.8v1.5h-1.8zM214.1 209.2h1.8v1.5h-1.8zM214.1 213.6h1.8v1.5h-1.8zM214.1 215.8h1.8v1.5h-1.8zM214.1 218h1.8v1.5h-1.8zM214.1 220.2h1.8v1.5h-1.8zM214.1 222.4h1.8v1.5h-1.8zM214.1 224.6h1.8v1.5h-1.8zM218.6 200.4h1.8v1.5h-1.8zM218.6 204.8h1.8v1.5h-1.8zM218.6 207h1.8v1.5h-1.8zM218.6 209.2h1.8v1.5h-1.8zM218.6 211.4h1.8v1.5h-1.8zM218.6 213.6h1.8v1.5h-1.8zM218.6 215.8h1.8v1.5h-1.8zM218.6 218h1.8v1.5h-1.8zM218.6 220.2h1.8v1.5h-1.8zM218.6 222.4h1.8v1.5h-1.8zM218.6 224.6h1.8v1.5h-1.8zM223.1 200.4h1.8v1.5h-1.8zM223.1 202.6h1.8v1.5h-1.8zM223.1 204.8h1.8v1.5h-1.8zM223.1 207h1.8v1.5h-1.8zM223.1 209.2h1.8v1.5h-1.8zM223.1 211.4h1.8v1.5h-1.8zM223.1 213.6h1.8v1.5h-1.8zM223.1 215.8h1.8v1.5h-1.8zM223.1 218h1.8v1.5h-1.8zM223.1 220.2h1.8v1.5h-1.8zM223.1 222.4h1.8v1.5h-1.8zM223.1 224.6h1.8v1.5h-1.8zM227.6 200.4h1.8v1.5h-1.8zM227.6 204.8h1.8v1.5h-1.8zM227.6 207h1.8v1.5h-1.8zM227.6 209.2h1.8v1.5h-1.8zM227.6 211.4h1.8v1.5h-1.8zM227.6 213.6h1.8v1.5h-1.8zM227.6 218h1.8v1.5h-1.8zM227.6 222.4h1.8v1.5h-1.8zM227.6 224.6h1.8v1.5h-1.8zM232.1 200.4h1.8v1.5h-1.8zM232.1 202.6h1.8v1.5h-1.8zM232.1 204.8h1.8v1.5h-1.8zM232.1 207h1.8v1.5h-1.8zM232.1 209.2h1.8v1.5h-1.8zM232.1 211.4h1.8v1.5h-1.8zM232.1 213.6h1.8v1.5h-1.8zM232.1 218h1.8v1.5h-1.8zM232.1 220.2h1.8v1.5h-1.8zM232.1 222.4h1.8v1.5h-1.8zM232.1 224.6h1.8v1.5h-1.8zM232.1 226.8h1.8v1.5h-1.8zM236.6 200.4h1.8v1.5h-1.8zM236.6 202.6h1.8v1.5h-1.8zM236.6 204.8h1.8v1.5h-1.8zM236.6 207h1.8v1.5h-1.8zM236.6 209.2h1.8v1.5h-1.8zM236.6 211.4h1.8v1.5h-1.8zM236.6 213.6h1.8v1.5h-1.8zM236.6 215.8h1.8v1.5h-1.8zM236.6 218h1.8v1.5h-1.8zM236.6 220.2h1.8v1.5h-1.8zM236.6 222.4h1.8v1.5h-1.8zM236.6 224.6h1.8v1.5h-1.8zM236.6 226.8h1.8v1.5h-1.8zM241.1 200.4h1.8v1.5h-1.8zM241.1 202.6h1.8v1.5h-1.8zM241.1 204.8h1.8v1.5h-1.8zM241.1 207h1.8v1.5h-1.8zM241.1 209.2h1.8v1.5h-1.8zM241.1 211.4h1.8v1.5h-1.8zM241.1 213.6h1.8v1.5h-1.8zM241.1 215.8h1.8v1.5h-1.8zM241.1 218h1.8v1.5h-1.8zM241.1 220.2h1.8v1.5h-1.8zM241.1 222.4h1.8v1.5h-1.8zM241.1 224.6h1.8v1.5h-1.8zM241.1 226.8h1.8v1.5h-1.8zM245.6 200.4h1.8v1.5h-1.8zM245.6 202.6h1.8v1.5h-1.8zM245.6 204.8h1.8v1.5h-1.8zM245.6 207h1.8v1.5h-1.8zM245.6 209.2h1.8v1.5h-1.8zM245.6 211.4h1.8v1.5h-1.8zM245.6 213.6h1.8v1.5h-1.8zM245.6 215.8h1.8v1.5h-1.8zM245.6 218h1.8v1.5h-1.8zM245.6 220.2h1.8v1.5h-1.8zM245.6 222.4h1.8v1.5h-1.8zM245.6 224.6h1.8v1.5h-1.8zM245.6 226.8h1.8v1.5h-1.8zM250.1 200.4h1.8v1.5h-1.8zM250.1 202.6h1.8v1.5h-1.8zM250.1 204.8h1.8v1.5h-1.8zM250.1 207h1.8v1.5h-1.8zM250.1 209.2h1.8v1.5h-1.8zM250.1 211.4h1.8v1.5h-1.8zM250.1 215.8h1.8v1.5h-1.8zM250.1 218h1.8v1.5h-1.8zM250.1 222.4h1.8v1.5h-1.8zM250.1 224.6h1.8v1.5h-1.8zM254.6 200.4h1.8v1.5h-1.8zM254.6 202.6h1.8v1.5h-1.8zM254.6 204.8h1.8v1.5h-1.8zM254.6 207h1.8v1.5h-1.8zM254.6 209.2h1.8v1.5h-1.8zM254.6 211.4h1.8v1.5h-1.8zM254.6 213.6h1.8v1.5h-1.8zM254.6 215.8h1.8v1.5h-1.8zM254.6 218h1.8v1.5h-1.8zM254.6 220.2h1.8v1.5h-1.8zM254.6 222.4h1.8v1.5h-1.8zM254.6 224.6h1.8v1.5h-1.8zM254.6 226.8h1.8v1.5h-1.8z"/>
<path fill="#000" d="M74.65 293.6h1.7v1.65h-1.7zM74.65 296.15h1.7v1.65h-1.7zM74.65 298.74h1.7v1.65h-1.7zM74.65 301.37h1.7v1.65h-1.7zM74.65 304.05h1.7v1.65h-1.7zM74.65 306.77h1.7v1.65h-1.7zM74.65 309.53h1.7v1.65h-1.7zM74.65 312.34h1.7v1.65h-1.7zM74.65 315.2h1.7v1.65h-1.7zM74.65 318.1h1.7v1.65h-1.7zM74.65 321.05h1.7v1.65h-1.7zM74.65 324.04h1.7v1.65h-1.7zM79.15 293.22h1.7v1.65h-1.7zM79.15 295.77h1.7v1.65h-1.7zM79.15 298.36h1.7v1.65h-1.7zM79.15 300.99h1.7v1.65h-1.7zM79.15 303.67h1.7v1.65h-1.7zM79.15 306.39h1.7v1.65h-1.7zM79.15 309.16h1.7v1.65h-1.7zM79.15 311.96h1.7v1.65h-1.7zM79.15 314.82h1.7v1.65h-1.7zM79.15 317.72h1.7v1.65h-1.7zM79.15 320.67h1.7v1.65h-1.7zM79.15 323.67h1.7v1.65h-1.7zM83.65 292.84h1.7v1.65h-1.7zM83.65 295.39h1.7v1.65h-1.7zM83.65 297.98h1.7v1.65h-1.7zM83.65 300.61h1.7v1.65h-1.7zM83.65 303.29h1.7v1.65h-1.7zM83.65 306.01h1.7v1.65h-1.7zM83.65 308.78h1.7v1.65h-1.7zM83.65 311.59h1.7v1.65h-1.7zM83.65 314.44h1.7v1.65h-1.7zM83.65 317.34h1.7v1.65h-1.7zM83.65 320.29h1.7v1.65h-1.7zM83.65 323.29h1.7v1.65h-1.7zM88.15 292.46h1.7v1.65h-1.7zM88.15 297.6h1.7v1.65h-1.7zM88.15 300.23h1.7v1.65h-1.7zM88.15 302.91h1.7v1.65h-1.7zM88.15 305.64h1.7v1.65h-1.7zM88.15 308.4h1.7v1.65h-1.7zM88.15 311.22h1.7v1.65h-1.7zM88.15 316.99h1.7v1.65h-1.7zM88.15 319.94h1.7v1.65h-1.7zM88.15 322.95h1.7v1.65h-1.7zM92.65 292.08h1.7v1.65h-1.7zM92.65 294.63h1.7v1.65h-1.7zM92.65 297.22h1.7v1.65h-1.7zM92.65 299.86h1.7v1.65h-1.7zM92.65 302.54h1.7v1.65h-1.7zM92.65 305.26h1.7v1.65h-1.7zM92.65 308.03h1.7v1.65h-1.7zM92.65 310.85h1.7v1.65h-1.7zM92.65 313.72h1.7v1.65h-1.7zM92.65 316.63h1.7v1.65h-1.7zM92.65 319.6h1.7v1.65h-1.7zM97.15 290.83h1.7v1.65h-1.7zM97.15 293.38h1.7v1.65h-1.7zM97.15 295.97h1.7v1.65h-1.7zM97.15 298.61h1.7v1.65h-1.7zM97.15 301.29h1.7v1.65h-1.7zM97.15 304.01h1.7v1.65h-1.7zM97.15 306.78h1.7v1.65h-1.7zM97.15 309.6h1.7v1.65h-1.7zM97.15 312.46h1.7v1.65h-1.7zM97.15 315.37h1.7v1.65h-1.7zM97.15 318.33h1.7v1.65h-1.7zM101.65 289.36h1.7v1.65h-1.7zM101.65 291.91h1.7v1.65h-1.7zM101.65 294.5h1.7v1.65h-1.7zM101.65 297.14h1.7v1.65h-1.7zM101.65 299.82h1.7v1.65h-1.7zM101.65 302.54h1.7v1.65h-1.7zM101.65 305.31h1.7v1.65h-1.7zM101.65 308.12h1.7v1.65h-1.7zM101.65 310.98h1.7v1.65h-1.7zM101.65 313.89h1.7v1.65h-1.7zM101.65 316.84h1.7v1.65h-1.7zM101.65 319.85h1.7v1.65h-1.7zM106.15 287.89h1.7v1.65h-1.7zM106.15 290.44h1.7v1.65h-1.7zM106.15 293.03h1.7v1.65h-1.7zM106.15 295.67h1.7v1.65h-1.7zM106.15 298.35h1.7v1.65h-1.7zM106.15 303.83h1.7v1.65h-1.7zM106.15 306.64h1.7v1.65h-1.7zM106.15 309.5h1.7v1.65h-1.7zM106.15 312.4h1.7v1.65h-1.7zM106.15 315.35h1.7v1.65h-1.7zM106.15 318.35h1.7v1.65h-1.7zM110.65 288.91h1.7v1.65h-1.7zM110.65 291.51h1.7v1.65h-1.7zM110.65 294.14h1.7v1.65h-1.7zM110.65 296.82h1.7v1.65h-1.7zM110.65 299.54h1.7v1.65h-1.7zM110.65 302.31h1.7v1.65h-1.7zM110.65 305.13h1.7v1.65h-1.7zM110.65 307.99h1.7v1.65h-1.7zM110.65 310.9h1.7v1.65h-1.7zM110.65 313.86h1.7v1.65h-1.7zM110.65 316.87h1.7v1.65h-1.7zM115.15 284.82h1.7v1.65h-1.7zM115.15 287.37h1.7v1.65h-1.7zM115.15 289.96h1.7v1.65h-1.7zM115.15 292.6h1.7v1.65h-1.7zM115.15 295.28h1.7v1.65h-1.7zM115.15 298.01h1.7v1.65h-1.7zM115.15 300.79h1.7v1.65h-1.7zM115.15 303.61h1.7v1.65h-1.7zM115.15 306.48h1.7v1.65h-1.7zM115.15 309.4h1.7v1.65h-1.7zM115.15 312.37h1.7v1.65h-1.7zM119.65 283.02h1.7v1.65h-1.7zM119.65 288.17h1.7v1.65h-1.7zM119.65 290.81h1.7v1.65h-1.7zM119.65 293.5h1.7v1.65h-1.7zM119.65 296.23h1.7v1.65h-1.7zM119.65 299.01h1.7v1.65h-1.7zM119.65 301.84h1.7v1.65h-1.7zM119.65 304.72h1.7v1.65h-1.7zM119.65 307.65h1.7v1.65h-1.7zM119.65 310.63h1.7v1.65h-1.7zM124.15 281.07h1.7v1.65h-1.7zM124.15 283.62h1.7v1.65h-1.7zM124.15 286.21h1.7v1.65h-1.7zM124.15 288.86h1.7v1.65h-1.7zM124.15 291.55h1.7v1.65h-1.7zM124.15 294.29h1.7v1.65h-1.7zM124.15 297.07h1.7v1.65h-1.7zM124.15 299.91h1.7v1.65h-1.7zM124.15 302.8h1.7v1.65h-1.7zM124.15 305.74h1.7v1.65h-1.7zM124.15 308.74h1.7v1.65h-1.7zM128.65 278.95h1.7v1.65h-1.7zM128.65 281.5h1.7v1.65h-1.7zM128.65 284.1h1.7v1.65h-1.7zM128.65 286.75h1.7v1.65h-1.7zM128.65 289.44h1.7v1.65h-1.7zM128.65 292.19h1.7v1.65h-1.7zM128.65 294.98h1.7v1.65h-1.7zM128.65 297.83h1.7v1.65h-1.7zM128.65 300.73h1.7v1.65h-1.7zM128.65 303.68h1.7v1.65h-1.7zM133.15 276.23h1.7v1.65h-1.7zM133.15 278.78h1.7v1.65h-1.7zM133.15 281.38h1.7v1.65h-1.7zM133.15 284.02h1.7v1.65h-1.7zM133.15 286.72h1.7v1.65h-1.7zM133.15 289.46h1.7v1.65h-1.7zM133.15 292.26h1.7v1.65h-1.7zM133.15 295.11h1.7v1.65h-1.7zM133.15 298.02h1.7v1.65h-1.7zM133.15 300.97h1.7v1.65h-1.7zM137.65 273.5h1.7v1.65h-1.7zM137.65 276.05h1.7v1.65h-1.7zM137.65 278.65h1.7v1.65h-1.7zM137.65 281.3h1.7v1.65h-1.7zM137.65 283.99h1.7v1.65h-1.7zM137.65 286.74h1.7v1.65h-1.7zM137.65 289.54h1.7v1.65h-1.7zM137.65 292.4h1.7v1.65h-1.7zM137.65 295.31h1.7v1.65h-1.7zM137.65 298.27h1.7v1.65h-1.7zM142.15 272.04h1.7v1.65h-1.7zM142.15 274.59h1.7v1.65h-1.7zM142.15 277.19h1.7v1.65h-1.7zM142.15 279.85h1.7v1.65h-1.7zM142.15 282.55h1.7v1.65h-1.7zM142.15 285.31h1.7v1.65h-1.7zM142.15 288.13h1.7v1.65h-1.7zM142.15 291h1.7v1.65h-1.7zM142.15 293.93h1.7v1.65h-1.7zM142.15 296.91h1.7v1.65h-1.7zM146.65 270.58h1.7v1.65h-1.7zM146.65 273.13h1.7v1.65h-1.7zM146.65 275.74h1.7v1.65h-1.7zM146.65 278.4h1.7v1.65h-1.7zM146.65 281.11h1.7v1.65h-1.7zM146.65 283.88h1.7v1.65h-1.7zM146.65 286.71h1.7v1.65h-1.7zM146.65 289.6h1.7v1.65h-1.7zM146.65 292.56h1.7v1.65h-1.7zM151.15 269.75h1.7v1.65h-1.7zM151.15 272.3h1.7v1.65h-1.7zM151.15 274.91h1.7v1.65h-1.7zM151.15 277.57h1.7v1.65h-1.7zM151.15 283.07h1.7v1.65h-1.7zM151.15 285.92h1.7v1.65h-1.7zM151.15 288.82h1.7v1.65h-1.7zM151.15 291.79h1.7v1.65h-1.7zM155.65 269.33h1.7v1.65h-1.7zM155.65 271.88h1.7v1.65h-1.7zM155.65 274.49h1.7v1.65h-1.7zM155.65 277.16h1.7v1.65h-1.7zM155.65 279.89h1.7v1.65h-1.7zM155.65 282.67h1.7v1.65h-1.7zM155.65 285.53h1.7v1.65h-1.7zM155.65 291.43h1.7v1.65h-1.7zM160.15 268.92h1.7v1.65h-1.7zM160.15 271.47h1.7v1.65h-1.7zM160.15 274.08h1.7v1.65h-1.7zM160.15 276.75h1.7v1.65h-1.7zM160.15 279.48h1.7v1.65h-1.7zM160.15 282.28h1.7v1.65h-1.7zM160.15 285.14h1.7v1.65h-1.7zM160.15 288.07h1.7v1.65h-1.7zM164.65 268.5h1.7v1.65h-1.7zM164.65 271.05h1.7v1.65h-1.7zM164.65 273.66h1.7v1.65h-1.7zM164.65 276.34h1.7v1.65h-1.7zM164.65 279.08h1.7v1.65h-1.7zM164.65 281.88h1.7v1.65h-1.7zM164.65 284.75h1.7v1.65h-1.7zM164.65 287.7h1.7v1.65h-1.7zM169.15 268.92h1.7v1.65h-1.7zM169.15 271.47h1.7v1.65h-1.7zM169.15 274.08h1.7v1.65h-1.7zM169.15 276.75h1.7v1.65h-1.7zM169.15 279.48h1.7v1.65h-1.7zM169.15 282.28h1.7v1.65h-1.7zM169.15 285.14h1.7v1.65h-1.7zM169.15 288.07h1.7v1.65h-1.7zM173.65 269.33h1.7v1.65h-1.7zM173.65 271.88h1.7v1.65h-1.7zM173.65 274.49h1.7v1.65h-1.7zM173.65 277.16h1.7v1.65h-1.7zM173.65 279.89h1.7v1.65h-1.7zM173.65 282.67h1.7v1.65h-1.7zM173.65 285.53h1.7v1.65h-1.7zM173.65 288.44h1.7v1.65h-1.7zM173.65 291.43h1.7v1.65h-1.7zM178.15 269.75h1.7v1.65h-1.7zM178.15 272.3h1.7v1.65h-1.7zM178.15 274.91h1.7v1.65h-1.7zM178.15 277.57h1.7v1.65h-1.7zM178.15 280.29h1.7v1.65h-1.7zM178.15 283.07h1.7v1.65h-1.7zM178.15 285.92h1.7v1.65h-1.7zM178.15 288.82h1.7v1.65h-1.7zM178.15 291.79h1.7v1.65h-1.7zM182.65 270.58h1.7v1.65h-1.7zM182.65 273.13h1.7v1.65h-1.7zM182.65 275.74h1.7v1.65h-1.7zM182.65 278.4h1.7v1.65h-1.7zM182.65 283.88h1.7v1.65h-1.7zM182.65 289.6h1.7v1.65h-1.7zM182.65 292.56h1.7v1.65h-1.7zM187.15 272.04h1.7v1.65h-1.7zM187.15 274.59h1.7v1.65h-1.7zM187.15 277.19h1.7v1.65h-1.7zM187.15 279.85h1.7v1.65h-1.7zM187.15 282.55h1.7v1.65h-1.7zM187.15 285.31h1.7v1.65h-1.7zM187.15 288.13h1.7v1.65h-1.7zM187.15 291h1.7v1.65h-1.7zM187.15 293.93h1.7v1.65h-1.7zM187.15 296.91h1.7v1.65h-1.7zM191.65 273.5h1.7v1.65h-1.7zM191.65 276.05h1.7v1.65h-1.7zM191.65 278.65h1.7v1.65h-1.7zM191.65 281.3h1.7v1.65h-1.7zM191.65 286.74h1.7v1.65h-1.7zM191.65 289.54h1.7v1.65h-1.7zM191.65 292.4h1.7v1.65h-1.7zM191.65 295.31h1.7v1.65h-1.7zM191.65 298.27h1.7v1.65h-1.7zM196.15 276.23h1.7v1.65h-1.7zM196.15 278.78h1.7v1.65h-1.7zM196.15 281.38h1.7v1.65h-1.7zM196.15 284.02h1.7v1.65h-1.7zM196.15 286.72h1.7v1.65h-1.7zM196.15 289.46h1.7v1.65h-1.7zM196.15 292.26h1.7v1.65h-1.7zM196.15 295.11h1.7v1.65h-1.7zM196.15 298.02h1.7v1.65h-1.7zM196.15 300.97h1.7v1.65h-1.7zM200.65 278.95h1.7v1.65h-1.7zM200.65 281.5h1.7v1.65h-1.7zM200.65 284.1h1.7v1.65h-1.7zM200.65 286.75h1.7v1.65h-1.7zM200.65 289.44h1.7v1.65h-1.7zM200.65 292.19h1.7v1.65h-1.7zM200.65 294.98h1.7v1.65h-1.7zM200.65 300.73h1.7v1.65h-1.7zM200.65 303.68h1.7v1.65h-1.7zM205.15 281.07h1.7v1.65h-1.7zM205.15 283.62h1.7v1.65h-1.7zM205.15 286.21h1.7v1.65h-1.7zM205.15 288.86h1.7v1.65h-1.7zM205.15 291.55h1.7v1.65h-1.7zM205.15 294.29h1.7v1.65h-1.7zM205.15 297.07h1.7v1.65h-1.7zM205.15 299.91h1.7v1.65h-1.7zM205.15 302.8h1.7v1.65h-1.7zM205.15 305.74h1.7v1.65h-1.7zM205.15 308.74h1.7v1.65h-1.7zM209.65 283.02h1.7v1.65h-1.7zM209.65 285.57h1.7v1.65h-1.7zM209.65 288.17h1.7v1.65h-1.7zM209.65 290.81h1.7v1.65h-1.7zM209.65 293.5h1.7v1.65h-1.7zM209.65 296.23h1.7v1.65h-1.7zM209.65 299.01h1.7v1.65h-1.7zM209.65 301.84h1.7v1.65h-1.7zM209.65 304.72h1.7v1.65h-1.7zM209.65 307.65h1.7v1.65h-1.7zM209.65 310.63h1.7v1.65h-1.7zM214.15 284.82h1.7v1.65h-1.7zM214.15 289.96h1.7v1.65h-1.7zM214.15 292.6h1.7v1.65h-1.7zM214.15 295.28h1.7v1.65h-1.7zM214.15 298.01h1.7v1.65h-1.7zM214.15 300.79h1.7v1.65h-1.7zM214.15 303.61h1.7v1.65h-1.7zM214.15 306.48h1.7v1.65h-1.7zM214.15 309.4h1.7v1.65h-1.7zM214.15 312.37h1.7v1.65h-1.7zM218.65 286.36h1.7v1.65h-1.7zM218.65 288.91h1.7v1.65h-1.7zM218.65 291.51h1.7v1.65h-1.7zM218.65 294.14h1.7v1.65h-1.7zM218.65 296.82h1.7v1.65h-1.7zM218.65 299.54h1.7v1.65h-1.7zM218.65 302.31h1.7v1.65h-1.7zM218.65 305.13h1.7v1.65h-1.7zM218.65 307.99h1.7v1.65h-1.7zM218.65 310.9h1.7v1.65h-1.7zM218.65 313.86h1.7v1.65h-1.7zM218.65 316.87h1.7v1.65h-1.7zM223.15 287.89h1.7v1.65h-1.7zM223.15 290.44h1.7v1.65h-1.7zM223.15 293.03h1.7v1.65h-1.7zM223.15 295.67h1.7v1.65h-1.7zM223.15 298.35h1.7v1.65h-1.7zM223.15 301.07h1.7v1.65h-1.7zM223.15 303.83h1.7v1.65h-1.7zM223.15 306.64h1.7v1.65h-1.7zM223.15 309.5h1.7v1.65h-1.7zM223.15 312.4h1.7v1.65h-1.7zM223.15 315.35h1.7v1.65h-1.7zM223.15 318.35h1.7v1.65h-1.7zM227.65 289.36h1.7v1.65h-1.7zM227.65 291.91h1.7v1.65h-1.7zM227.65 294.5h1.7v1.65h-1.7zM227.65 297.14h1.7v1.65h-1.7zM227.65 299.82h1.7v1.65h-1.7zM227.65 302.54h1.7v1.65h-1.7zM227.65 305.31h1.7v1.65h-1.7zM227.65 308.12h1.7v1.65h-1.7zM227.65 310.98h1.7v1.65h-1.7zM227.65 313.89h1.7v1.65h-1.7zM227.65 316.84h1.7v1.65h-1.7zM227.65 319.85h1.7v1.65h-1.7zM232.15 293.38h1.7v1.65h-1.7zM232.15 295.97h1.7v1.65h-1.7zM232.15 298.61h1.7v1.65h-1.7zM232.15 301.29h1.7v1.65h-1.7zM232.15 304.01h1.7v1.65h-1.7zM232.15 306.78h1.7v1.65h-1.7zM232.15 309.6h1.7v1.65h-1.7zM232.15 312.46h1.7v1.65h-1.7zM232.15 315.37h1.7v1.65h-1.7zM232.15 318.33h1.7v1.65h-1.7zM236.65 292.08h1.7v1.65h-1.7zM236.65 294.63h1.7v1.65h-1.7zM236.65 297.22h1.7v1.65h-1.7zM236.65 299.86h1.7v1.65h-1.7zM236.65 302.54h1.7v1.65h-1.7zM236.65 305.26h1.7v1.65h-1.7zM236.65 308.03h1.7v1.65h-1.7zM236.65 310.85h1.7v1.65h-1.7zM236.65 313.72h1.7v1.65h-1.7zM236.65 316.63h1.7v1.65h-1.7zM236.65 319.6h1.7v1.65h-1.7zM241.15 292.46h1.7v1.65h-1.7zM241.15 297.6h1.7v1.65h-1.7zM241.15 300.23h1.7v1.65h-1.7zM241.15 302.91h1.7v1.65h-1.7zM241.15 305.64h1.7v1.65h-1.7zM241.15 308.4h1.7v1.65h-1.7zM241.15 311.22h1.7v1.65h-1.7zM241.15 314.08h1.7v1.65h-1.7zM241.15 316.99h1.7v1.65h-1.7zM241.15 319.94h1.7v1.65h-1.7zM241.15 322.95h1.7v1.65h-1.7zM245.65 292.84h1.7v1.65h-1.7zM245.65 295.39h1.7v1.65h-1.7zM245.65 297.98h1.7v1.65h-1.7zM245.65 300.61h1.7v1.65h-1.7zM245.65 303.29h1.7v1.65h-1.7zM245.65 306.01h1.7v1.65h-1.7zM245.65 308.78h1.7v1.65h-1.7zM245.65 311.59h1.7v1.65h-1.7zM245.65 314.44h1.7v1.65h-1.7zM245.65 317.34h1.7v1.65h-1.7zM245.65 320.29h1.7v1.65h-1.7zM245.65 323.29h1.7v1.65h-1.7zM250.15 293.22h1.7v1.65h-1.7zM250.15 295.77h1.7v1.65h-1.7zM250.15 298.36h1.7v1.65h-1.7zM250.15 300.99h1.7v1.65h-1.7zM250.15 303.67h1.7v1.65h-1.7zM250.15 309.16h1.7v1.65h-1.7zM250.15 311.96h1.7v1.65h-1.7zM250.15 314.82h1.7v1.65h-1.7zM250.15 317.72h1.7v1.65h-1.7zM250.15 320.67h1.7v1.65h-1.7zM250.15 323.67h1.7v1.65h-1.7zM254.65 293.6h1.7v1.65h-1.7zM254.65 296.15h1.7v1.65h-1.7zM254.65 298.74h1.7v1.65h-1.7zM254.65 301.37h1.7v1.65h-1.7zM254.65 304.05h1.7v1.65h-1.7zM254.65 306.77h1.7v1.65h-1.7zM254.65 309.53h1.7v1.65h-1.7zM254.65 312.34h1.7v1.65h-1.7zM254.65 315.2h1.7v1.65h-1.7zM254.65 318.1h1.7v1.65h-1.7zM254.65 321.05h1.7v1.65h-1.7zM254.65 324.04h1.7v1.65h-1.7z"/>
<circle cx="80" cy="232.2" r="1.1" fill="#ff2aff"/>
<circle cx="84.5" cy="232.2" r="1.1" fill="#ff2aff"/>
<circle cx="89" cy="232.2" r="1.1" fill="#ff2aff"/>
<circle cx="93.5" cy="232.2" r="1.1" fill="#ff2aff"/>
<circle cx="98" cy="232.2" r="1.1" fill="#ff2aff"/>
<circle cx="102.5" cy="232.2" r="1.1" fill="#ff2aff"/>
<circle cx="107" cy="232.2" r="1.1" fill="#ff2aff"/>
<circle cx="111.5" cy="232.2" r="1.1" fill="#ff2aff"/>
<circle cx="116" cy="232.2" r="1.1" fill="#ff2aff"/>
<circle cx="120.5" cy="232.2" r="1.1" fill="#ff2aff"/>
<circle cx="125" cy="232.2" r="1.1" fill="#ff2aff"/>
<circle cx="129.5" cy="232.2" r="1.1" fill="#ff2aff"/>
<circle cx="134" cy="232.2" r="1.1" fill="#ff2aff"/>
<circle cx="138.5" cy="232.2" r="1.1" fill="#ff2aff"/>
<circle cx="143" cy="232.2" r="1.1" fill="#ff2aff"/>
<circle cx="147.5" cy="232.2" r="1.1" fill="#ff2aff"/>
<circle cx="152" cy="232.8" r="1.1" fill="#ff2aff"/>
<circle cx="156.5" cy="236" r="1.1" fill="#ff2aff"/>
<circle cx="161" cy="237.7" r="1.1" fill="#ff2aff"/>
<circle cx="165.5" cy="238.2" r="1.1" fill="#ff2aff"/>
<circle cx="170" cy="237.7" r="1.1" fill="#ff2aff"/>
<circle cx="174.5" cy="236" r="1.1" fill="#ff2aff"/>
<circle cx="179" cy="232.8" r="1.1" fill="#ff2aff"/>
<circle cx="183.5" cy="232.2" r="1.1" fill="#ff2aff"/>
<circle cx="188" cy="232.2" r="1.1" fill="#ff2aff"/>
<circle cx="192.5" cy="232.2" r="1.1" fill="#ff2aff"/>
<circle cx="197" cy="232.2" r="1.1" fill="#ff2aff"/>
<circle cx="201.5" cy="232.2" r="1.1" fill="#ff2aff"/>
<circle cx="206" cy="232.2" r="1.1" fill="#ff2aff"/>
<circle cx="210.5" cy="232.2" r="1.1" fill="#ff2aff"/>
<circle cx="215" cy="232.2" r="1.1" fill="#ff2aff"/>
<circle cx="219.5" cy="232.2" r="1.1" fill="#ff2aff"/>
<circle cx="224" cy="232.2" r="1.1" fill="#ff2aff"/>
<circle cx="228.5" cy="232.2" r="1.1" fill="#ff2aff"/>
<circle cx="233" cy="232.2" r="1.1" fill="#ff2aff"/>
<circle cx="237.5" cy="232.2" r="1.1" fill="#ff2aff"/>
<circle cx="242" cy="232.2" r="1.1" fill="#ff2aff"/>
<circle cx="246.5" cy="232.2" r="1.1" fill="#ff2aff"/>
<circle cx="251" cy="232.2" r="1.1" fill="#ff2aff"/>
<circle cx="138.5" cy="223.8" r="1.1" fill="#ff2aff"/>
<circle cx="143" cy="226.9" r="1.1" fill="#ff2aff"/>
<circle cx="188" cy="226.9" r="1.1" fill="#ff2aff"/>
<circle cx="192.5" cy="223.8" r="1.1" fill="#ff2aff"/>
<circle cx="161" cy="267.4" r="1.1" fill="#ff2aff"/>
<circle cx="165.5" cy="267" r="1.1" fill="#ff2aff"/>
<circle cx="170" cy="267.4" r="1.1" fill="#ff2aff"/>
<circle cx="75.5" cy="232" r="1.1" fill="#ff1a1a"/>
<circle cx="80" cy="231.5" r="1.1" fill="#ff1a1a"/>
<circle cx="84.5" cy="230.5" r="1.1" fill="#ff1a1a"/>
<circle cx="89" cy="229.6" r="1.1" fill="#ff1a1a"/>
<circle cx="93.5" cy="228.8" r="1.1" fill="#ff1a1a"/>
<circle cx="98" cy="228.1" r="1.1" fill="#ff1a1a"/>
<circle cx="102.5" cy="227.4" r="1.1" fill="#ff1a1a"/>
<circle cx="107" cy="226.9" r="1.1" fill="#ff1a1a"/>
<circle cx="111.5" cy="226.9" r="1.1" fill="#ff1a1a"/>
<circle cx="116" cy="227.1" r="1.1" fill="#ff1a1a"/>
<circle cx="120.5" cy="227.8" r="1.1" fill="#ff1a1a"/>
<circle cx="125" cy="229.2" r="1.1" fill="#ff1a1a"/>
<circle cx="129.5" cy="230.9" r="1.1" fill="#ff1a1a"/>
<circle cx="134" cy="232.3" r="1.1" fill="#ff1a1a"/>
<circle cx="138.5" cy="234.2" r="1.1" fill="#ff1a1a"/>
<circle cx="143" cy="236.6" r="1.1" fill="#ff1a1a"/>
<circle cx="147.5" cy="239" r="1.1" fill="#ff1a1a"/>
<circle cx="152" cy="241.8" r="1.1" fill="#ff1a1a"/>
<circle cx="156.5" cy="244.5" r="1.1" fill="#ff1a1a"/>
<circle cx="161" cy="247.6" r="1.1" fill="#ff1a1a"/>
<circle cx="165.5" cy="251.1" r="1.1" fill="#ff1a1a"/>
<circle cx="138.5" cy="272.5" r="1.1" fill="#1a1aff"/>
<circle cx="143" cy="268.8" r="1.1" fill="#1a1aff"/>
<circle cx="147.5" cy="265" r="1.1" fill="#1a1aff"/>
<circle cx="152" cy="261.5" r="1.1" fill="#1a1aff"/>
<circle cx="156.5" cy="258" r="1.1" fill="#1a1aff"/>
<circle cx="161" cy="254.5" r="1.1" fill="#1a1aff"/>
<circle cx="165.5" cy="251.1" r="1.1" fill="#1a1aff"/>
<circle cx="170" cy="247.6" r="1.1" fill="#1a1aff"/>
<circle cx="174.5" cy="244.5" r="1.1" fill="#1a1aff"/>
<circle cx="179" cy="241.8" r="1.1" fill="#1a1aff"/>
<circle cx="183.5" cy="239" r="1.1" fill="#1a1aff"/>
<circle cx="188" cy="236.6" r="1.1" fill="#1a1aff"/>
<circle cx="192.5" cy="234.2" r="1.1" fill="#1a1aff"/>
<circle cx="197" cy="232.3" r="1.1" fill="#1a1aff"/>
<circle cx="201.5" cy="230.9" r="1.1" fill="#1a1aff"/>
<circle cx="206" cy="229.2" r="1.1" fill="#1a1aff"/>
<circle cx="210.5" cy="227.8" r="1.1" fill="#1a1aff"/>
<circle cx="215" cy="227.1" r="1.1" fill="#1a1aff"/>
<circle cx="219.5" cy="226.9" r="1.1" fill="#1a1aff"/>
<circle cx="224" cy="226.9" r="1.1" fill="#1a1aff"/>
<circle cx="228.5" cy="227.4" r="1.1" fill="#1a1aff"/>
<circle cx="233" cy="228.1" r="1.1" fill="#1a1aff"/>
<circle cx="237.5" cy="228.8" r="1.1" fill="#1a1aff"/>
<circle cx="242" cy="229.6" r="1.1" fill="#1a1aff"/>
<circle cx="246.5" cy="230.5" r="1.1" fill="#1a1aff"/>
<circle cx="251" cy="231.5" r="1.1" fill="#1a1aff"/>
<circle cx="255.5" cy="232" r="1.1" fill="#1a1aff"/>
<circle cx="170" cy="254.5" r="1.1" fill="#ff1a1a"/>
<circle cx="174.5" cy="258" r="1.1" fill="#ff1a1a"/>
<circle cx="179" cy="261.5" r="1.1" fill="#ff1a1a"/>
<circle cx="183.5" cy="265" r="1.1" fill="#ff1a1a"/>
<circle cx="188" cy="268.8" r="1.1" fill="#ff1a1a"/>
<circle cx="192.5" cy="272.5" r="1.1" fill="#ff1a1a"/>
<rect x="75.5" y="200" width="180" height="137" fill="none" stroke="#000" stroke-width="1.3"/>
<line x1="73.2" y1="337" x2="75.5" y2="337" stroke="#000" stroke-width="1"/>
<text transform="translate(70.9,340.3) scale(1,1.1)" text-anchor="end" style="font-family:'Liberation Serif',serif;font-weight:bold;font-size:11px">0.45</text>
<line x1="74.2" y1="319.88" x2="75.5" y2="319.88" stroke="#000" stroke-width="1"/>
<line x1="73.2" y1="302.75" x2="75.5" y2="302.75" stroke="#000" stroke-width="1"/>
<text transform="translate(70.9,306.05) scale(1,1.1)" text-anchor="end" style="font-family:'Liberation Serif',serif;font-weight:bold;font-size:11px">0.50</text>
<line x1="74.2" y1="285.62" x2="75.5" y2="285.62" stroke="#000" stroke-width="1"/>
<line x1="73.2" y1="268.5" x2="75.5" y2="268.5" stroke="#000" stroke-width="1"/>
<text transform="translate(70.9,271.8) scale(1,1.1)" text-anchor="end" style="font-family:'Liberation Serif',serif;font-weight:bold;font-size:11px">0.55</text>
<line x1="74.2" y1="251.38" x2="75.5" y2="251.38" stroke="#000" stroke-width="1"/>
<line x1="73.2" y1="234.25" x2="75.5" y2="234.25" stroke="#000" stroke-width="1"/>
<text transform="translate(70.9,237.55) scale(1,1.1)" text-anchor="end" style="font-family:'Liberation Serif',serif;font-weight:bold;font-size:11px">0.60</text>
<line x1="74.2" y1="217.12" x2="75.5" y2="217.12" stroke="#000" stroke-width="1"/>
<line x1="73.2" y1="200" x2="75.5" y2="200" stroke="#000" stroke-width="1"/>
<text transform="translate(70.9,203.3) scale(1,1.1)" text-anchor="end" style="font-family:'Liberation Serif',serif;font-weight:bold;font-size:11px">0.65</text>
<line x1="75.5" y1="337" x2="75.5" y2="339.3" stroke="#000" stroke-width="1"/>
<text transform="translate(75.5,350.3) scale(1,1.1)" text-anchor="middle" style="font-family:'Liberation Serif',serif;font-weight:bold;font-size:11px">-1.0</text>
<line x1="98" y1="337" x2="98" y2="338.3" stroke="#000" stroke-width="1"/>
<line x1="120.5" y1="337" x2="120.5" y2="339.3" stroke="#000" stroke-width="1"/>
<text transform="translate(120.5,350.3) scale(1,1.1)" text-anchor="middle" style="font-family:'Liberation Serif',serif;font-weight:bold;font-size:11px">-0.5</text>
<line x1="143" y1="337" x2="143" y2="338.3" stroke="#000" stroke-width="1"/>
<line x1="165.5" y1="337" x2="165.5" y2="339.3" stroke="#000" stroke-width="1"/>
<text transform="translate(165.5,350.3) scale(1,1.1)" text-anchor="middle" style="font-family:'Liberation Serif',serif;font-weight:bold;font-size:11px">0.0</text>
<line x1="188" y1="337" x2="188" y2="338.3" stroke="#000" stroke-width="1"/>
<line x1="210.5" y1="337" x2="210.5" y2="339.3" stroke="#000" stroke-width="1"/>
<text transform="translate(210.5,350.3) scale(1,1.1)" text-anchor="middle" style="font-family:'Liberation Serif',serif;font-weight:bold;font-size:11px">0.5</text>
<line x1="233" y1="337" x2="233" y2="338.3" stroke="#000" stroke-width="1"/>
<line x1="255.5" y1="337" x2="255.5" y2="339.3" stroke="#000" stroke-width="1"/>
<text transform="translate(255.5,350.3) scale(1,1.1)" text-anchor="middle" style="font-family:'Liberation Serif',serif;font-weight:bold;font-size:11px">1.0</text>
<text transform="translate(49.8,271.1) rotate(-90) scale(1,1.06)" text-anchor="middle" style="font-family:'Liberation Serif',serif;font-weight:bold;font-size:11.55px">Frequency (THz)</text>
<text transform="translate(149.3,360) scale(1,1.08)" style="font-family:'Liberation Serif',serif;font-weight:bold;font-size:11.3px"><tspan font-style="italic">k</tspan><tspan font-style="italic" font-size="7.5px" dy="2.6">x</tspan><tspan dy="-2.6" dx="-0.3">(π/a)</tspan></text>
<circle cx="27.7" cy="22.1" r="0.85" fill="#6b3aa8"/>
<circle cx="30.7" cy="22.1" r="0.85" fill="#6b3aa8"/>
<circle cx="26.2" cy="24.6" r="0.85" fill="#6b3aa8"/>
<circle cx="32.2" cy="24.6" r="0.85" fill="#6b3aa8"/>
<circle cx="27.5" cy="26.8" r="0.85" fill="#6b3aa8"/>
<circle cx="30.9" cy="26.8" r="0.85" fill="#6b3aa8"/>
<circle cx="26.8" cy="28.7" r="0.85" fill="#6b3aa8"/>
<circle cx="31.6" cy="28.7" r="0.85" fill="#6b3aa8"/>
<circle cx="28.4" cy="31.8" r="0.85" fill="#6b3aa8"/>
<circle cx="30" cy="31.8" r="0.85" fill="#6b3aa8"/>
<circle cx="26.7" cy="34.3" r="0.85" fill="#6b3aa8"/>
<circle cx="31.7" cy="34.3" r="0.85" fill="#6b3aa8"/>
<circle cx="27.7" cy="36.1" r="0.85" fill="#6b3aa8"/>
<circle cx="30.7" cy="36.1" r="0.85" fill="#6b3aa8"/>
<circle cx="26.2" cy="38.6" r="0.85" fill="#6b3aa8"/>
<circle cx="32.2" cy="38.6" r="0.85" fill="#6b3aa8"/>
<circle cx="27.5" cy="40.8" r="0.85" fill="#6b3aa8"/>
<circle cx="30.9" cy="40.8" r="0.85" fill="#6b3aa8"/>
<circle cx="26.8" cy="42.7" r="0.85" fill="#6b3aa8"/>
<circle cx="31.6" cy="42.7" r="0.85" fill="#6b3aa8"/>
<circle cx="28.4" cy="45.8" r="0.85" fill="#6b3aa8"/>
<circle cx="30" cy="45.8" r="0.85" fill="#6b3aa8"/>
<circle cx="26.7" cy="48.3" r="0.85" fill="#6b3aa8"/>
<circle cx="31.7" cy="48.3" r="0.85" fill="#6b3aa8"/>
<circle cx="27.7" cy="50.1" r="0.85" fill="#6b3aa8"/>
<circle cx="30.7" cy="50.1" r="0.85" fill="#6b3aa8"/>
<circle cx="26.2" cy="52.6" r="0.85" fill="#6b3aa8"/>
<circle cx="32.2" cy="52.6" r="0.85" fill="#6b3aa8"/>
<circle cx="27.5" cy="54.8" r="0.85" fill="#6b3aa8"/>
<circle cx="30.9" cy="54.8" r="0.85" fill="#6b3aa8"/>
<circle cx="26.8" cy="56.7" r="0.85" fill="#6b3aa8"/>
<circle cx="31.6" cy="56.7" r="0.85" fill="#6b3aa8"/>
<circle cx="28.4" cy="59.8" r="0.85" fill="#6b3aa8"/>
<circle cx="30" cy="59.8" r="0.85" fill="#6b3aa8"/>
<circle cx="26.7" cy="62.3" r="0.85" fill="#6b3aa8"/>
<circle cx="31.7" cy="62.3" r="0.85" fill="#6b3aa8"/>
<circle cx="27.7" cy="64.1" r="0.85" fill="#6b3aa8"/>
<circle cx="30.7" cy="64.1" r="0.85" fill="#6b3aa8"/>
<circle cx="26.2" cy="66.6" r="0.85" fill="#6b3aa8"/>
<circle cx="32.2" cy="66.6" r="0.85" fill="#6b3aa8"/>
<circle cx="27.5" cy="68.8" r="0.85" fill="#6b3aa8"/>
<circle cx="30.9" cy="68.8" r="0.85" fill="#6b3aa8"/>
<circle cx="26.8" cy="70.7" r="0.85" fill="#6b3aa8"/>
<circle cx="31.6" cy="70.7" r="0.85" fill="#6b3aa8"/>
<circle cx="28.4" cy="73.8" r="0.85" fill="#6b3aa8"/>
<circle cx="30" cy="73.8" r="0.85" fill="#6b3aa8"/>
<circle cx="26.7" cy="76.3" r="0.85" fill="#6b3aa8"/>
<circle cx="31.7" cy="76.3" r="0.85" fill="#6b3aa8"/>
<circle cx="27.7" cy="78.1" r="0.85" fill="#6b3aa8"/>
<circle cx="30.7" cy="78.1" r="0.85" fill="#6b3aa8"/>
<circle cx="26.2" cy="80.6" r="0.85" fill="#6b3aa8"/>
<circle cx="32.2" cy="80.6" r="0.85" fill="#6b3aa8"/>
<circle cx="27.5" cy="82.8" r="0.85" fill="#6b3aa8"/>
<circle cx="30.9" cy="82.8" r="0.85" fill="#6b3aa8"/>
<circle cx="26.8" cy="84.7" r="0.85" fill="#6b3aa8"/>
<circle cx="31.6" cy="84.7" r="0.85" fill="#6b3aa8"/>
<circle cx="28.4" cy="87.8" r="0.85" fill="#6b3aa8"/>
<circle cx="30" cy="87.8" r="0.85" fill="#6b3aa8"/>
<circle cx="26.4" cy="89.57" r="0.75" fill="#6e2b2b"/>
<circle cx="32" cy="89.57" r="0.75" fill="#6e2b2b"/>
<circle cx="27.9" cy="92.29" r="0.75" fill="#6e2b2b"/>
<circle cx="30.5" cy="92.29" r="0.75" fill="#6e2b2b"/>
<circle cx="26.8" cy="94.3" r="0.75" fill="#6e2b2b"/>
<circle cx="31.6" cy="94.3" r="0.75" fill="#6e2b2b"/>
<circle cx="27.9" cy="96.42" r="0.75" fill="#6e2b2b"/>
<circle cx="30.5" cy="96.42" r="0.75" fill="#6e2b2b"/>
<circle cx="26.4" cy="99.13" r="0.75" fill="#6e2b2b"/>
<circle cx="32" cy="99.13" r="0.75" fill="#6e2b2b"/>
<circle cx="27.6" cy="101.45" r="0.75" fill="#6e2b2b"/>
<circle cx="30.8" cy="101.45" r="0.75" fill="#6e2b2b"/>
<circle cx="26.4" cy="103.57" r="0.75" fill="#6e2b2b"/>
<circle cx="32" cy="103.57" r="0.75" fill="#6e2b2b"/>
<circle cx="27.9" cy="106.29" r="0.75" fill="#6e2b2b"/>
<circle cx="30.5" cy="106.29" r="0.75" fill="#6e2b2b"/>
<circle cx="26.8" cy="108.3" r="0.75" fill="#6e2b2b"/>
<circle cx="31.6" cy="108.3" r="0.75" fill="#6e2b2b"/>
<circle cx="27.9" cy="110.42" r="0.75" fill="#6e2b2b"/>
<circle cx="30.5" cy="110.42" r="0.75" fill="#6e2b2b"/>
<circle cx="26.4" cy="113.13" r="0.75" fill="#6e2b2b"/>
<circle cx="32" cy="113.13" r="0.75" fill="#6e2b2b"/>
<circle cx="27.6" cy="115.45" r="0.75" fill="#6e2b2b"/>
<circle cx="30.8" cy="115.45" r="0.75" fill="#6e2b2b"/>
<circle cx="26.4" cy="117.57" r="0.75" fill="#6e2b2b"/>
<circle cx="32" cy="117.57" r="0.75" fill="#6e2b2b"/>
<circle cx="27.9" cy="120.29" r="0.75" fill="#6e2b2b"/>
<circle cx="30.5" cy="120.29" r="0.75" fill="#6e2b2b"/>
<circle cx="26.8" cy="122.3" r="0.75" fill="#6e2b2b"/>
<circle cx="31.6" cy="122.3" r="0.75" fill="#6e2b2b"/>
<circle cx="27.9" cy="124.42" r="0.75" fill="#6e2b2b"/>
<circle cx="30.5" cy="124.42" r="0.75" fill="#6e2b2b"/>
<circle cx="26.4" cy="127.13" r="0.75" fill="#6e2b2b"/>
<circle cx="32" cy="127.13" r="0.75" fill="#6e2b2b"/>
<circle cx="27.6" cy="129.45" r="0.75" fill="#6e2b2b"/>
<circle cx="30.8" cy="129.45" r="0.75" fill="#6e2b2b"/>
<circle cx="26.4" cy="131.57" r="0.75" fill="#6e2b2b"/>
<circle cx="32" cy="131.57" r="0.75" fill="#6e2b2b"/>
<circle cx="27.9" cy="134.29" r="0.75" fill="#6e2b2b"/>
<circle cx="30.5" cy="134.29" r="0.75" fill="#6e2b2b"/>
<circle cx="26.8" cy="136.3" r="0.75" fill="#6e2b2b"/>
<circle cx="31.6" cy="136.3" r="0.75" fill="#6e2b2b"/>
<circle cx="27.9" cy="138.42" r="0.75" fill="#6e2b2b"/>
<circle cx="30.5" cy="138.42" r="0.75" fill="#6e2b2b"/>
<circle cx="26.4" cy="141.13" r="0.75" fill="#6e2b2b"/>
<circle cx="32" cy="141.13" r="0.75" fill="#6e2b2b"/>
<circle cx="27.6" cy="143.45" r="0.75" fill="#6e2b2b"/>
<circle cx="30.8" cy="143.45" r="0.75" fill="#6e2b2b"/>
<circle cx="26.4" cy="145.57" r="0.75" fill="#6e2b2b"/>
<circle cx="32" cy="145.57" r="0.75" fill="#6e2b2b"/>
<circle cx="27.9" cy="148.29" r="0.75" fill="#6e2b2b"/>
<circle cx="30.5" cy="148.29" r="0.75" fill="#6e2b2b"/>
<circle cx="26.8" cy="150.3" r="0.75" fill="#6e2b2b"/>
<circle cx="31.6" cy="150.3" r="0.75" fill="#6e2b2b"/>
<circle cx="27.9" cy="152.42" r="0.75" fill="#6e2b2b"/>
<circle cx="30.5" cy="152.42" r="0.75" fill="#6e2b2b"/>
<circle cx="26.4" cy="155.13" r="0.75" fill="#6e2b2b"/>
<circle cx="32" cy="155.13" r="0.75" fill="#6e2b2b"/>
<circle cx="27.6" cy="157.45" r="0.75" fill="#6e2b2b"/>
<circle cx="30.8" cy="157.45" r="0.75" fill="#6e2b2b"/>
<circle cx="295.42" cy="18.4" r="0.85" fill="#6b3aa8"/>
<circle cx="298.78" cy="18.4" r="0.85" fill="#6b3aa8"/>
<circle cx="293.74" cy="21.13" r="0.85" fill="#6b3aa8"/>
<circle cx="300.46" cy="21.13" r="0.85" fill="#6b3aa8"/>
<circle cx="295.2" cy="23.54" r="0.85" fill="#6b3aa8"/>
<circle cx="299" cy="23.54" r="0.85" fill="#6b3aa8"/>
<circle cx="294.41" cy="25.61" r="0.85" fill="#6b3aa8"/>
<circle cx="299.79" cy="25.61" r="0.85" fill="#6b3aa8"/>
<circle cx="296.2" cy="29" r="0.85" fill="#6b3aa8"/>
<circle cx="298" cy="29" r="0.85" fill="#6b3aa8"/>
<circle cx="294.3" cy="31.73" r="0.85" fill="#6b3aa8"/>
<circle cx="299.9" cy="31.73" r="0.85" fill="#6b3aa8"/>
<circle cx="295.42" cy="33.7" r="0.85" fill="#6b3aa8"/>
<circle cx="298.78" cy="33.7" r="0.85" fill="#6b3aa8"/>
<circle cx="293.74" cy="36.43" r="0.85" fill="#6b3aa8"/>
<circle cx="300.46" cy="36.43" r="0.85" fill="#6b3aa8"/>
<circle cx="295.2" cy="38.84" r="0.85" fill="#6b3aa8"/>
<circle cx="299" cy="38.84" r="0.85" fill="#6b3aa8"/>
<circle cx="294.41" cy="40.91" r="0.85" fill="#6b3aa8"/>
<circle cx="299.79" cy="40.91" r="0.85" fill="#6b3aa8"/>
<circle cx="296.2" cy="44.3" r="0.85" fill="#6b3aa8"/>
<circle cx="298" cy="44.3" r="0.85" fill="#6b3aa8"/>
<circle cx="294.3" cy="47.03" r="0.85" fill="#6b3aa8"/>
<circle cx="299.9" cy="47.03" r="0.85" fill="#6b3aa8"/>
<circle cx="295.42" cy="49" r="0.85" fill="#6b3aa8"/>
<circle cx="298.78" cy="49" r="0.85" fill="#6b3aa8"/>
<circle cx="293.74" cy="51.73" r="0.85" fill="#6b3aa8"/>
<circle cx="300.46" cy="51.73" r="0.85" fill="#6b3aa8"/>
<circle cx="295.2" cy="54.14" r="0.85" fill="#6b3aa8"/>
<circle cx="299" cy="54.14" r="0.85" fill="#6b3aa8"/>
<circle cx="294.41" cy="56.21" r="0.85" fill="#6b3aa8"/>
<circle cx="299.79" cy="56.21" r="0.85" fill="#6b3aa8"/>
<circle cx="296.2" cy="59.6" r="0.85" fill="#6b3aa8"/>
<circle cx="298" cy="59.6" r="0.85" fill="#6b3aa8"/>
<circle cx="294.3" cy="62.33" r="0.85" fill="#6b3aa8"/>
<circle cx="299.9" cy="62.33" r="0.85" fill="#6b3aa8"/>
<circle cx="295.42" cy="64.3" r="0.85" fill="#6b3aa8"/>
<circle cx="298.78" cy="64.3" r="0.85" fill="#6b3aa8"/>
<circle cx="293.74" cy="67.03" r="0.85" fill="#6b3aa8"/>
<circle cx="300.46" cy="67.03" r="0.85" fill="#6b3aa8"/>
<circle cx="295.2" cy="69.44" r="0.85" fill="#6b3aa8"/>
<circle cx="299" cy="69.44" r="0.85" fill="#6b3aa8"/>
<circle cx="294.41" cy="71.51" r="0.85" fill="#6b3aa8"/>
<circle cx="299.79" cy="71.51" r="0.85" fill="#6b3aa8"/>
<circle cx="296.2" cy="74.9" r="0.85" fill="#6b3aa8"/>
<circle cx="298" cy="74.9" r="0.85" fill="#6b3aa8"/>
<circle cx="294.3" cy="77.63" r="0.85" fill="#6b3aa8"/>
<circle cx="299.9" cy="77.63" r="0.85" fill="#6b3aa8"/>
<circle cx="295.42" cy="79.6" r="0.85" fill="#6b3aa8"/>
<circle cx="298.78" cy="79.6" r="0.85" fill="#6b3aa8"/>
<circle cx="293.74" cy="82.33" r="0.85" fill="#6b3aa8"/>
<circle cx="300.46" cy="82.33" r="0.85" fill="#6b3aa8"/>
<circle cx="295.2" cy="84.74" r="0.85" fill="#6b3aa8"/>
<circle cx="299" cy="84.74" r="0.85" fill="#6b3aa8"/>
<circle cx="294.1" cy="87.1" r="0.85" fill="#8fa640"/>
<circle cx="300.1" cy="87.1" r="0.85" fill="#8fa640"/>
<circle cx="295.5" cy="89.6" r="0.85" fill="#8fa640"/>
<circle cx="298.7" cy="89.6" r="0.85" fill="#8fa640"/>
<circle cx="294.1" cy="92.1" r="0.85" fill="#8fa640"/>
<circle cx="300.1" cy="92.1" r="0.85" fill="#8fa640"/>
<circle cx="295.71" cy="95.38" r="0.75" fill="#6e2b2b"/>
<circle cx="298.49" cy="95.38" r="0.75" fill="#6e2b2b"/>
<circle cx="294.53" cy="97.5" r="0.75" fill="#6e2b2b"/>
<circle cx="299.67" cy="97.5" r="0.75" fill="#6e2b2b"/>
<circle cx="295.71" cy="99.72" r="0.75" fill="#6e2b2b"/>
<circle cx="298.49" cy="99.72" r="0.75" fill="#6e2b2b"/>
<circle cx="294.1" cy="102.58" r="0.75" fill="#6e2b2b"/>
<circle cx="300.1" cy="102.58" r="0.75" fill="#6e2b2b"/>
<circle cx="295.39" cy="105.01" r="0.75" fill="#6e2b2b"/>
<circle cx="298.81" cy="105.01" r="0.75" fill="#6e2b2b"/>
<circle cx="294.1" cy="107.23" r="0.75" fill="#6e2b2b"/>
<circle cx="300.1" cy="107.23" r="0.75" fill="#6e2b2b"/>
<circle cx="295.71" cy="110.08" r="0.75" fill="#6e2b2b"/>
<circle cx="298.49" cy="110.08" r="0.75" fill="#6e2b2b"/>
<circle cx="294.53" cy="112.2" r="0.75" fill="#6e2b2b"/>
<circle cx="299.67" cy="112.2" r="0.75" fill="#6e2b2b"/>
<circle cx="295.71" cy="114.42" r="0.75" fill="#6e2b2b"/>
<circle cx="298.49" cy="114.42" r="0.75" fill="#6e2b2b"/>
<circle cx="294.1" cy="117.28" r="0.75" fill="#6e2b2b"/>
<circle cx="300.1" cy="117.28" r="0.75" fill="#6e2b2b"/>
<circle cx="295.39" cy="119.71" r="0.75" fill="#6e2b2b"/>
<circle cx="298.81" cy="119.71" r="0.75" fill="#6e2b2b"/>
<circle cx="294.1" cy="121.93" r="0.75" fill="#6e2b2b"/>
<circle cx="300.1" cy="121.93" r="0.75" fill="#6e2b2b"/>
<circle cx="295.71" cy="124.78" r="0.75" fill="#6e2b2b"/>
<circle cx="298.49" cy="124.78" r="0.75" fill="#6e2b2b"/>
<circle cx="294.53" cy="126.9" r="0.75" fill="#6e2b2b"/>
<circle cx="299.67" cy="126.9" r="0.75" fill="#6e2b2b"/>
<circle cx="295.71" cy="129.12" r="0.75" fill="#6e2b2b"/>
<circle cx="298.49" cy="129.12" r="0.75" fill="#6e2b2b"/>
<circle cx="294.1" cy="131.98" r="0.75" fill="#6e2b2b"/>
<circle cx="300.1" cy="131.98" r="0.75" fill="#6e2b2b"/>
<circle cx="295.39" cy="134.41" r="0.75" fill="#6e2b2b"/>
<circle cx="298.81" cy="134.41" r="0.75" fill="#6e2b2b"/>
<circle cx="294.1" cy="136.63" r="0.75" fill="#6e2b2b"/>
<circle cx="300.1" cy="136.63" r="0.75" fill="#6e2b2b"/>
<circle cx="295.71" cy="139.48" r="0.75" fill="#6e2b2b"/>
<circle cx="298.49" cy="139.48" r="0.75" fill="#6e2b2b"/>
<circle cx="294.53" cy="141.6" r="0.75" fill="#6e2b2b"/>
<circle cx="299.67" cy="141.6" r="0.75" fill="#6e2b2b"/>
<circle cx="295.71" cy="143.82" r="0.75" fill="#6e2b2b"/>
<circle cx="298.49" cy="143.82" r="0.75" fill="#6e2b2b"/>
<circle cx="294.1" cy="146.68" r="0.75" fill="#6e2b2b"/>
<circle cx="300.1" cy="146.68" r="0.75" fill="#6e2b2b"/>
<circle cx="295.39" cy="149.11" r="0.75" fill="#6e2b2b"/>
<circle cx="298.81" cy="149.11" r="0.75" fill="#6e2b2b"/>
<circle cx="294.1" cy="151.33" r="0.75" fill="#6e2b2b"/>
<circle cx="300.1" cy="151.33" r="0.75" fill="#6e2b2b"/>
<circle cx="295.71" cy="154.18" r="0.75" fill="#6e2b2b"/>
<circle cx="298.49" cy="154.18" r="0.75" fill="#6e2b2b"/>
<circle cx="294.53" cy="156.3" r="0.75" fill="#6e2b2b"/>
<circle cx="299.67" cy="156.3" r="0.75" fill="#6e2b2b"/>
<circle cx="295.71" cy="158.52" r="0.75" fill="#6e2b2b"/>
<circle cx="298.49" cy="158.52" r="0.75" fill="#6e2b2b"/>
<circle cx="294.1" cy="161.38" r="0.75" fill="#6e2b2b"/>
<circle cx="300.1" cy="161.38" r="0.75" fill="#6e2b2b"/>
<circle cx="27.6" cy="213.93" r="0.85" fill="#6b3aa8"/>
<circle cx="30.6" cy="213.93" r="0.85" fill="#6b3aa8"/>
<circle cx="26.1" cy="216.22" r="0.85" fill="#6b3aa8"/>
<circle cx="32.1" cy="216.22" r="0.85" fill="#6b3aa8"/>
<circle cx="27.4" cy="218.23" r="0.85" fill="#6b3aa8"/>
<circle cx="30.8" cy="218.23" r="0.85" fill="#6b3aa8"/>
<circle cx="26.7" cy="219.97" r="0.85" fill="#6b3aa8"/>
<circle cx="31.5" cy="219.97" r="0.85" fill="#6b3aa8"/>
<circle cx="28.3" cy="222.8" r="0.85" fill="#6b3aa8"/>
<circle cx="29.9" cy="222.8" r="0.85" fill="#6b3aa8"/>
<circle cx="26.6" cy="225.09" r="0.85" fill="#6b3aa8"/>
<circle cx="31.6" cy="225.09" r="0.85" fill="#6b3aa8"/>
<circle cx="27.6" cy="226.73" r="0.85" fill="#6b3aa8"/>
<circle cx="30.6" cy="226.73" r="0.85" fill="#6b3aa8"/>
<circle cx="26.1" cy="229.02" r="0.85" fill="#6b3aa8"/>
<circle cx="32.1" cy="229.02" r="0.85" fill="#6b3aa8"/>
<circle cx="27.4" cy="231.03" r="0.85" fill="#6b3aa8"/>
<circle cx="30.8" cy="231.03" r="0.85" fill="#6b3aa8"/>
<circle cx="26.7" cy="232.77" r="0.85" fill="#6b3aa8"/>
<circle cx="31.5" cy="232.77" r="0.85" fill="#6b3aa8"/>
<circle cx="28.3" cy="235.6" r="0.85" fill="#6b3aa8"/>
<circle cx="29.9" cy="235.6" r="0.85" fill="#6b3aa8"/>
<circle cx="26.6" cy="237.89" r="0.85" fill="#6b3aa8"/>
<circle cx="31.6" cy="237.89" r="0.85" fill="#6b3aa8"/>
<circle cx="27.6" cy="239.53" r="0.85" fill="#6b3aa8"/>
<circle cx="30.6" cy="239.53" r="0.85" fill="#6b3aa8"/>
<circle cx="26.1" cy="241.82" r="0.85" fill="#6b3aa8"/>
<circle cx="32.1" cy="241.82" r="0.85" fill="#6b3aa8"/>
<circle cx="27.4" cy="243.83" r="0.85" fill="#6b3aa8"/>
<circle cx="30.8" cy="243.83" r="0.85" fill="#6b3aa8"/>
<circle cx="26.7" cy="245.57" r="0.85" fill="#6b3aa8"/>
<circle cx="31.5" cy="245.57" r="0.85" fill="#6b3aa8"/>
<circle cx="28.3" cy="248.4" r="0.85" fill="#6b3aa8"/>
<circle cx="29.9" cy="248.4" r="0.85" fill="#6b3aa8"/>
<circle cx="26.6" cy="250.69" r="0.85" fill="#6b3aa8"/>
<circle cx="31.6" cy="250.69" r="0.85" fill="#6b3aa8"/>
<circle cx="27.6" cy="252.33" r="0.85" fill="#6b3aa8"/>
<circle cx="30.6" cy="252.33" r="0.85" fill="#6b3aa8"/>
<circle cx="26.1" cy="254.62" r="0.85" fill="#6b3aa8"/>
<circle cx="32.1" cy="254.62" r="0.85" fill="#6b3aa8"/>
<circle cx="27.4" cy="256.63" r="0.85" fill="#6b3aa8"/>
<circle cx="30.8" cy="256.63" r="0.85" fill="#6b3aa8"/>
<circle cx="26.7" cy="258.37" r="0.85" fill="#6b3aa8"/>
<circle cx="31.5" cy="258.37" r="0.85" fill="#6b3aa8"/>
<circle cx="28.3" cy="261.2" r="0.85" fill="#6b3aa8"/>
<circle cx="29.9" cy="261.2" r="0.85" fill="#6b3aa8"/>
<circle cx="26.6" cy="263.49" r="0.85" fill="#6b3aa8"/>
<circle cx="31.6" cy="263.49" r="0.85" fill="#6b3aa8"/>
<circle cx="27.7" cy="266.4" r="0.85" fill="#8fa640"/>
<circle cx="30.5" cy="266.4" r="0.85" fill="#8fa640"/>
<circle cx="26.7" cy="268.55" r="0.85" fill="#8fa640"/>
<circle cx="31.5" cy="268.55" r="0.85" fill="#8fa640"/>
<circle cx="27.7" cy="270.7" r="0.85" fill="#8fa640"/>
<circle cx="30.5" cy="270.7" r="0.85" fill="#8fa640"/>
<circle cx="26.7" cy="272.85" r="0.85" fill="#8fa640"/>
<circle cx="31.5" cy="272.85" r="0.85" fill="#8fa640"/>
<circle cx="27.7" cy="275" r="0.85" fill="#8fa640"/>
<circle cx="30.5" cy="275" r="0.85" fill="#8fa640"/>
<circle cx="26.7" cy="277.15" r="0.85" fill="#8fa640"/>
<circle cx="31.5" cy="277.15" r="0.85" fill="#8fa640"/>
<circle cx="27.7" cy="279.3" r="0.85" fill="#8fa640"/>
<circle cx="30.5" cy="279.3" r="0.85" fill="#8fa640"/>
<circle cx="26.7" cy="281.45" r="0.85" fill="#8fa640"/>
<circle cx="31.5" cy="281.45" r="0.85" fill="#8fa640"/>
<circle cx="27.7" cy="283.6" r="0.85" fill="#8fa640"/>
<circle cx="30.5" cy="283.6" r="0.85" fill="#8fa640"/>
<circle cx="26.3" cy="285.92" r="0.75" fill="#6e2b2b"/>
<circle cx="31.9" cy="285.92" r="0.75" fill="#6e2b2b"/>
<circle cx="27.5" cy="288.04" r="0.75" fill="#6e2b2b"/>
<circle cx="30.7" cy="288.04" r="0.75" fill="#6e2b2b"/>
<circle cx="26.3" cy="289.97" r="0.75" fill="#6e2b2b"/>
<circle cx="31.9" cy="289.97" r="0.75" fill="#6e2b2b"/>
<circle cx="27.8" cy="292.46" r="0.75" fill="#6e2b2b"/>
<circle cx="30.4" cy="292.46" r="0.75" fill="#6e2b2b"/>
<circle cx="26.7" cy="294.3" r="0.75" fill="#6e2b2b"/>
<circle cx="31.5" cy="294.3" r="0.75" fill="#6e2b2b"/>
<circle cx="27.8" cy="296.23" r="0.75" fill="#6e2b2b"/>
<circle cx="30.4" cy="296.23" r="0.75" fill="#6e2b2b"/>
<circle cx="26.3" cy="298.72" r="0.75" fill="#6e2b2b"/>
<circle cx="31.9" cy="298.72" r="0.75" fill="#6e2b2b"/>
<circle cx="27.5" cy="300.84" r="0.75" fill="#6e2b2b"/>
<circle cx="30.7" cy="300.84" r="0.75" fill="#6e2b2b"/>
<circle cx="26.3" cy="302.77" r="0.75" fill="#6e2b2b"/>
<circle cx="31.9" cy="302.77" r="0.75" fill="#6e2b2b"/>
<circle cx="27.8" cy="305.26" r="0.75" fill="#6e2b2b"/>
<circle cx="30.4" cy="305.26" r="0.75" fill="#6e2b2b"/>
<circle cx="26.7" cy="307.1" r="0.75" fill="#6e2b2b"/>
<circle cx="31.5" cy="307.1" r="0.75" fill="#6e2b2b"/>
<circle cx="27.8" cy="309.03" r="0.75" fill="#6e2b2b"/>
<circle cx="30.4" cy="309.03" r="0.75" fill="#6e2b2b"/>
<circle cx="26.3" cy="311.52" r="0.75" fill="#6e2b2b"/>
<circle cx="31.9" cy="311.52" r="0.75" fill="#6e2b2b"/>
<circle cx="27.5" cy="313.64" r="0.75" fill="#6e2b2b"/>
<circle cx="30.7" cy="313.64" r="0.75" fill="#6e2b2b"/>
<circle cx="26.3" cy="315.57" r="0.75" fill="#6e2b2b"/>
<circle cx="31.9" cy="315.57" r="0.75" fill="#6e2b2b"/>
<circle cx="27.8" cy="318.06" r="0.75" fill="#6e2b2b"/>
<circle cx="30.4" cy="318.06" r="0.75" fill="#6e2b2b"/>
<circle cx="26.7" cy="319.9" r="0.75" fill="#6e2b2b"/>
<circle cx="31.5" cy="319.9" r="0.75" fill="#6e2b2b"/>
<circle cx="27.8" cy="321.83" r="0.75" fill="#6e2b2b"/>
<circle cx="30.4" cy="321.83" r="0.75" fill="#6e2b2b"/>
<circle cx="26.3" cy="324.32" r="0.75" fill="#6e2b2b"/>
<circle cx="31.9" cy="324.32" r="0.75" fill="#6e2b2b"/>
<circle cx="27.5" cy="326.44" r="0.75" fill="#6e2b2b"/>
<circle cx="30.7" cy="326.44" r="0.75" fill="#6e2b2b"/>
<circle cx="26.3" cy="328.37" r="0.75" fill="#6e2b2b"/>
<circle cx="31.9" cy="328.37" r="0.75" fill="#6e2b2b"/>
<circle cx="27.8" cy="330.86" r="0.75" fill="#6e2b2b"/>
<circle cx="30.4" cy="330.86" r="0.75" fill="#6e2b2b"/>
<circle cx="26.7" cy="332.7" r="0.75" fill="#6e2b2b"/>
<circle cx="31.5" cy="332.7" r="0.75" fill="#6e2b2b"/>
<circle cx="27.8" cy="334.63" r="0.75" fill="#6e2b2b"/>
<circle cx="30.4" cy="334.63" r="0.75" fill="#6e2b2b"/>
<text transform="translate(7,19) scale(1,1.1)" text-anchor="start" style="font-family:'Liberation Serif',serif;font-weight:bold;font-size:11px">(a)</text>
<text transform="translate(265.8,22.2) scale(1,1.1)" text-anchor="start" style="font-family:'Liberation Serif',serif;font-weight:bold;font-size:11px">(b)</text>
<text transform="translate(7.6,196.7) scale(1,1.1)" text-anchor="start" style="font-family:'Liberation Serif',serif;font-weight:bold;font-size:11px">(c)</text>
<text transform="translate(265.8,195.6) scale(1,1.1)" text-anchor="start" style="font-family:'Liberation Serif',serif;font-weight:bold;font-size:11px">(d)</text>
<text transform="translate(8.8,61) scale(1,1.1)" text-anchor="start" style="font-family:'Liberation Serif',serif;font-weight:bold;font-size:11px">A</text>
<text transform="translate(8.8,123.4) scale(1,1.1)" text-anchor="start" style="font-family:'Liberation Serif',serif;font-weight:bold;font-size:11px">C</text>
<text transform="translate(282.4,57) scale(1,1.1)" text-anchor="start" style="font-family:'Liberation Serif',serif;font-weight:bold;font-size:11px">A</text>
<text transform="translate(282.8,93.8) scale(1,1.1)" text-anchor="start" style="font-family:'Liberation Serif',serif;font-weight:bold;font-size:11px">B</text>
<text transform="translate(282.6,123.6) scale(1,1.1)" text-anchor="start" style="font-family:'Liberation Serif',serif;font-weight:bold;font-size:11px">C</text>
<text transform="translate(8.5,245.5) scale(1,1.1)" text-anchor="start" style="font-family:'Liberation Serif',serif;font-weight:bold;font-size:11px">A</text>
<text transform="translate(9.4,281.4) scale(1,1.1)" text-anchor="start" style="font-family:'Liberation Serif',serif;font-weight:bold;font-size:11px">B</text>
<text transform="translate(9,316.8) scale(1,1.1)" text-anchor="start" style="font-family:'Liberation Serif',serif;font-weight:bold;font-size:11px">C</text>
<text transform="translate(408.8,82.6) scale(1,1.1)" text-anchor="start" style="font-family:'Liberation Serif',serif;font-weight:bold;font-size:11px">D</text>
<text transform="translate(446.8,82.6) scale(1,1.1)" text-anchor="start" style="font-family:'Liberation Serif',serif;font-weight:bold;font-size:11px">E</text>
<text transform="translate(140,265.2) scale(1,1.1)" text-anchor="start" style="font-family:'Liberation Serif',serif;font-weight:bold;font-size:11px">F</text>
<text transform="translate(182.3,265.2) scale(1,1.1)" text-anchor="start" style="font-family:'Liberation Serif',serif;font-weight:bold;font-size:11px">G</text>
<defs><filter id="bl" x="-10%" y="-10%" width="120%" height="120%"><feGaussianBlur stdDeviation="0.45"/></filter><filter id="bl2" x="-10%" y="-10%" width="120%" height="120%"><feGaussianBlur stdDeviation="0.3"/></filter><radialGradient id="hotg"><stop offset="0" stop-color="#900000"/><stop offset="0.35" stop-color="#e00000"/><stop offset="0.58" stop-color="#ff2000"/><stop offset="0.72" stop-color="#ff9000"/><stop offset="0.83" stop-color="#ffee00"/><stop offset="0.92" stop-color="#90ff70" stop-opacity="0.7"/><stop offset="1" stop-color="#00ffff" stop-opacity="0"/></radialGradient><radialGradient id="yelg"><stop offset="0" stop-color="#ffc000"/><stop offset="0.3" stop-color="#ffff00"/><stop offset="0.6" stop-color="#90ff70"/><stop offset="1" stop-color="#00ffff" stop-opacity="0"/></radialGradient><radialGradient id="cyg"><stop offset="0" stop-color="#00ffff"/><stop offset="0.6" stop-color="#00e8ff" stop-opacity="0.8"/><stop offset="1" stop-color="#00c0ff" stop-opacity="0"/></radialGradient><radialGradient id="blug"><stop offset="0" stop-color="#0008ff"/><stop offset="0.6" stop-color="#0020ff" stop-opacity="0.8"/><stop offset="1" stop-color="#0040ff" stop-opacity="0"/></radialGradient><radialGradient id="skyg"><stop offset="0" stop-color="#0090ff"/><stop offset="0.7" stop-color="#0070ff" stop-opacity="0.8"/><stop offset="1" stop-color="#0050ff" stop-opacity="0"/></radialGradient><radialGradient id="ringg"><stop offset="0" stop-color="#00ffff"/><stop offset="0.35" stop-color="#60ffa0"/><stop offset="0.6" stop-color="#e0ff30"/><stop offset="0.75" stop-color="#b0ff50"/><stop offset="0.88" stop-color="#00ffff" stop-opacity="0.8"/><stop offset="1" stop-color="#00c0ff" stop-opacity="0"/></radialGradient><linearGradient id="fadeU" x1="0" y1="0" x2="0" y2="1"><stop offset="0" stop-color="#00a0ff" stop-opacity="0"/><stop offset="1" stop-color="#00d0ff" stop-opacity="0.75"/></linearGradient><linearGradient id="fadeD" x1="0" y1="1" x2="0" y2="0"><stop offset="0" stop-color="#00a0ff" stop-opacity="0"/><stop offset="1" stop-color="#00d0ff" stop-opacity="0.75"/></linearGradient><linearGradient id="jet" x1="0" y1="1" x2="0" y2="0"><stop offset="0" stop-color="#1010c0"/><stop offset="0.08" stop-color="#0030ff"/><stop offset="0.2" stop-color="#0090ff"/><stop offset="0.32" stop-color="#00e0ff"/><stop offset="0.45" stop-color="#40ffb0"/><stop offset="0.57" stop-color="#c0ff40"/><stop offset="0.65" stop-color="#ffff00"/><stop offset="0.78" stop-color="#ffa000"/><stop offset="0.9" stop-color="#ff3000"/><stop offset="1" stop-color="#e01010"/></linearGradient></defs>
<clipPath id="cD"><rect x="0" y="0" width="25.4" height="84.6"/></clipPath>
<g transform="translate(307.5,221) scale(1,1)"><g clip-path="url(#cD)"><g id="bD" filter="url(#bl)"><rect x="-2" y="-2" width="29.4" height="88.6" fill="#1890ff"/><ellipse cx="12.7" cy="3" rx="14" ry="4.5" fill="#2070ff"/><ellipse cx="9.5" cy="4" rx="2.5" ry="2.5" fill="url(#cyg)"/><ellipse cx="15.5" cy="4" rx="2.5" ry="2.5" fill="url(#cyg)"/><ellipse cx="4.8" cy="12.2" rx="8" ry="8.5" fill="url(#cyg)"/><ellipse cx="20.3" cy="12.2" rx="8" ry="8.5" fill="url(#cyg)"/><ellipse cx="12.7" cy="4" rx="6" ry="3" fill="url(#cyg)"/><ellipse cx="4.8" cy="12.2" rx="3.96" ry="3.96" fill="url(#yelg)"/><ellipse cx="20.3" cy="12.2" rx="3.96" ry="3.96" fill="url(#yelg)"/><ellipse cx="12.7" cy="15" rx="5" ry="11" fill="url(#blug)"/><ellipse cx="12.7" cy="21.5" rx="9" ry="3.5" fill="url(#blug)"/><ellipse cx="12.7" cy="27" rx="11" ry="4.5" fill="url(#cyg)"/><ellipse cx="2.3" cy="26" rx="2.72" ry="2.72" fill="url(#hotg)"/><ellipse cx="23.2" cy="26.5" rx="2.72" ry="2.72" fill="url(#hotg)"/><ellipse cx="0.5" cy="38" rx="3" ry="6" fill="url(#blug)"/><ellipse cx="25" cy="38" rx="3" ry="6" fill="url(#blug)"/><ellipse cx="12.7" cy="40.5" rx="10" ry="3.5" fill="url(#cyg)"/><ellipse cx="7.3" cy="33.8" rx="6.72" ry="5.76" fill="url(#hotg)"/><ellipse cx="16.4" cy="33.3" rx="6.72" ry="5.76" fill="url(#hotg)"/><ellipse cx="12.7" cy="41" rx="3" ry="2.5" fill="url(#blug)"/><ellipse cx="8.3" cy="47.4" rx="7.36" ry="6.08" fill="url(#hotg)"/><ellipse cx="16" cy="46.8" rx="7.04" ry="6.08" fill="url(#hotg)"/><ellipse cx="12.7" cy="57" rx="4.5" ry="4.5" fill="url(#cyg)"/><ellipse cx="3.8" cy="55.5" rx="6.4" ry="5.76" fill="url(#hotg)"/><ellipse cx="21.3" cy="55.5" rx="6.4" ry="5.76" fill="url(#hotg)"/><ellipse cx="1.5" cy="62.5" rx="3.5" ry="3" fill="url(#blug)"/><ellipse cx="24" cy="62.5" rx="3.5" ry="3" fill="url(#blug)"/><ellipse cx="12.6" cy="69.5" rx="9.5" ry="9.5" fill="url(#ringg)"/><ellipse cx="5.8" cy="69" rx="3.52" ry="3.52" fill="url(#yelg)"/><ellipse cx="19.4" cy="69" rx="3.52" ry="3.52" fill="url(#yelg)"/><ellipse cx="9.2" cy="63.7" rx="2.64" ry="2.64" fill="url(#yelg)"/><ellipse cx="15" cy="63.7" rx="2.64" ry="2.64" fill="url(#yelg)"/><ellipse cx="12.6" cy="70" rx="3.2" ry="3.2" fill="url(#blug)"/><ellipse cx="8.7" cy="75.3" rx="3.04" ry="3.04" fill="url(#hotg)"/><ellipse cx="16.5" cy="75.8" rx="3.04" ry="3.04" fill="url(#hotg)"/><ellipse cx="12.7" cy="79.5" rx="14" ry="3" fill="url(#cyg)"/><ellipse cx="12.7" cy="84" rx="14" ry="2.2" fill="#1060ff"/></g><g filter="url(#bl2)"><path fill="none" stroke="#000" stroke-width="1" d="M4 31L10 35M6 35L12 30M12 30L18 34M13 35L19 31M15 32L21 36M8 43L15 49M9 49L16 44M12 46L20 51M4 45L9 50M5 50L11 46M0 52L6 57M1 57L8 54M2 60L9 56M-2 55L4 58M18 52L23 57M10 62L14 66M14 62L18 66M10 74L14 78M3 36L8 39M18 36L23 39M6 52L11 53M14 55L19 51M-1 50L5 52"/></g></g></g>
<rect x="280.3" y="187.4" width="8.7" height="152.3" fill="#0a10fa"/><path fill="#0000a8" d="M281.7 190.4a.75 .75 0 1 0 1.5 0a.75 .75 0 1 0 -1.5 0zM286.1 190.4a.75 .75 0 1 0 1.5 0a.75 .75 0 1 0 -1.5 0zM282.7 192a.75 .75 0 1 0 1.5 0a.75 .75 0 1 0 -1.5 0zM285.1 192a.75 .75 0 1 0 1.5 0a.75 .75 0 1 0 -1.5 0zM281.3 194a.75 .75 0 1 0 1.5 0a.75 .75 0 1 0 -1.5 0zM286.5 194a.75 .75 0 1 0 1.5 0a.75 .75 0 1 0 -1.5 0zM282.4 195.6a.75 .75 0 1 0 1.5 0a.75 .75 0 1 0 -1.5 0zM285.4 195.6a.75 .75 0 1 0 1.5 0a.75 .75 0 1 0 -1.5 0zM281.3 197.2a.75 .75 0 1 0 1.5 0a.75 .75 0 1 0 -1.5 0zM286.5 197.2a.75 .75 0 1 0 1.5 0a.75 .75 0 1 0 -1.5 0zM282.7 199.2a.75 .75 0 1 0 1.5 0a.75 .75 0 1 0 -1.5 0zM285.1 199.2a.75 .75 0 1 0 1.5 0a.75 .75 0 1 0 -1.5 0zM281.7 200.8a.75 .75 0 1 0 1.5 0a.75 .75 0 1 0 -1.5 0zM286.1 200.8a.75 .75 0 1 0 1.5 0a.75 .75 0 1 0 -1.5 0zM282.7 202.4a.75 .75 0 1 0 1.5 0a.75 .75 0 1 0 -1.5 0zM285.1 202.4a.75 .75 0 1 0 1.5 0a.75 .75 0 1 0 -1.5 0zM281.3 204.4a.75 .75 0 1 0 1.5 0a.75 .75 0 1 0 -1.5 0zM286.5 204.4a.75 .75 0 1 0 1.5 0a.75 .75 0 1 0 -1.5 0zM282.4 206a.75 .75 0 1 0 1.5 0a.75 .75 0 1 0 -1.5 0zM285.4 206a.75 .75 0 1 0 1.5 0a.75 .75 0 1 0 -1.5 0zM281.3 207.6a.75 .75 0 1 0 1.5 0a.75 .75 0 1 0 -1.5 0zM286.5 207.6a.75 .75 0 1 0 1.5 0a.75 .75 0 1 0 -1.5 0zM282.7 209.6a.75 .75 0 1 0 1.5 0a.75 .75 0 1 0 -1.5 0zM285.1 209.6a.75 .75 0 1 0 1.5 0a.75 .75 0 1 0 -1.5 0zM281.7 211.2a.75 .75 0 1 0 1.5 0a.75 .75 0 1 0 -1.5 0zM286.1 211.2a.75 .75 0 1 0 1.5 0a.75 .75 0 1 0 -1.5 0zM282.7 212.8a.75 .75 0 1 0 1.5 0a.75 .75 0 1 0 -1.5 0zM285.1 212.8a.75 .75 0 1 0 1.5 0a.75 .75 0 1 0 -1.5 0zM281.3 214.8a.75 .75 0 1 0 1.5 0a.75 .75 0 1 0 -1.5 0zM286.5 214.8a.75 .75 0 1 0 1.5 0a.75 .75 0 1 0 -1.5 0zM282.4 216.4a.75 .75 0 1 0 1.5 0a.75 .75 0 1 0 -1.5 0zM285.4 216.4a.75 .75 0 1 0 1.5 0a.75 .75 0 1 0 -1.5 0zM281.3 218a.75 .75 0 1 0 1.5 0a.75 .75 0 1 0 -1.5 0zM286.5 218a.75 .75 0 1 0 1.5 0a.75 .75 0 1 0 -1.5 0zM282.7 220a.75 .75 0 1 0 1.5 0a.75 .75 0 1 0 -1.5 0zM285.1 220a.75 .75 0 1 0 1.5 0a.75 .75 0 1 0 -1.5 0zM281.7 221.6a.75 .75 0 1 0 1.5 0a.75 .75 0 1 0 -1.5 0zM286.1 221.6a.75 .75 0 1 0 1.5 0a.75 .75 0 1 0 -1.5 0zM282.7 223.2a.75 .75 0 1 0 1.5 0a.75 .75 0 1 0 -1.5 0zM285.1 223.2a.75 .75 0 1 0 1.5 0a.75 .75 0 1 0 -1.5 0zM281.3 225.2a.75 .75 0 1 0 1.5 0a.75 .75 0 1 0 -1.5 0zM286.5 225.2a.75 .75 0 1 0 1.5 0a.75 .75 0 1 0 -1.5 0zM282.4 226.8a.75 .75 0 1 0 1.5 0a.75 .75 0 1 0 -1.5 0zM285.4 226.8a.75 .75 0 1 0 1.5 0a.75 .75 0 1 0 -1.5 0zM281.3 228.4a.75 .75 0 1 0 1.5 0a.75 .75 0 1 0 -1.5 0zM286.5 228.4a.75 .75 0 1 0 1.5 0a.75 .75 0 1 0 -1.5 0zM282.7 230.4a.75 .75 0 1 0 1.5 0a.75 .75 0 1 0 -1.5 0zM285.1 230.4a.75 .75 0 1 0 1.5 0a.75 .75 0 1 0 -1.5 0zM281.7 232a.75 .75 0 1 0 1.5 0a.75 .75 0 1 0 -1.5 0zM286.1 232a.75 .75 0 1 0 1.5 0a.75 .75 0 1 0 -1.5 0zM282.7 233.6a.75 .75 0 1 0 1.5 0a.75 .75 0 1 0 -1.5 0zM285.1 233.6a.75 .75 0 1 0 1.5 0a.75 .75 0 1 0 -1.5 0zM281.3 235.6a.75 .75 0 1 0 1.5 0a.75 .75 0 1 0 -1.5 0zM286.5 235.6a.75 .75 0 1 0 1.5 0a.75 .75 0 1 0 -1.5 0zM282.4 237.2a.75 .75 0 1 0 1.5 0a.75 .75 0 1 0 -1.5 0zM285.4 237.2a.75 .75 0 1 0 1.5 0a.75 .75 0 1 0 -1.5 0zM281.3 238.8a.75 .75 0 1 0 1.5 0a.75 .75 0 1 0 -1.5 0zM286.5 238.8a.75 .75 0 1 0 1.5 0a.75 .75 0 1 0 -1.5 0zM282.7 240.8a.75 .75 0 1 0 1.5 0a.75 .75 0 1 0 -1.5 0zM285.1 240.8a.75 .75 0 1 0 1.5 0a.75 .75 0 1 0 -1.5 0zM281.7 242.4a.75 .75 0 1 0 1.5 0a.75 .75 0 1 0 -1.5 0zM286.1 242.4a.75 .75 0 1 0 1.5 0a.75 .75 0 1 0 -1.5 0zM282.7 244a.75 .75 0 1 0 1.5 0a.75 .75 0 1 0 -1.5 0zM285.1 244a.75 .75 0 1 0 1.5 0a.75 .75 0 1 0 -1.5 0zM281.3 246a.75 .75 0 1 0 1.5 0a.75 .75 0 1 0 -1.5 0zM286.5 246a.75 .75 0 1 0 1.5 0a.75 .75 0 1 0 -1.5 0zM282.4 247.6a.75 .75 0 1 0 1.5 0a.75 .75 0 1 0 -1.5 0zM285.4 247.6a.75 .75 0 1 0 1.5 0a.75 .75 0 1 0 -1.5 0zM281.3 249.2a.75 .75 0 1 0 1.5 0a.75 .75 0 1 0 -1.5 0zM286.5 249.2a.75 .75 0 1 0 1.5 0a.75 .75 0 1 0 -1.5 0zM282.7 251.2a.75 .75 0 1 0 1.5 0a.75 .75 0 1 0 -1.5 0zM285.1 251.2a.75 .75 0 1 0 1.5 0a.75 .75 0 1 0 -1.5 0zM281.7 252.8a.75 .75 0 1 0 1.5 0a.75 .75 0 1 0 -1.5 0zM286.1 252.8a.75 .75 0 1 0 1.5 0a.75 .75 0 1 0 -1.5 0zM282.7 254.4a.75 .75 0 1 0 1.5 0a.75 .75 0 1 0 -1.5 0zM285.1 254.4a.75 .75 0 1 0 1.5 0a.75 .75 0 1 0 -1.5 0zM281.3 256.4a.75 .75 0 1 0 1.5 0a.75 .75 0 1 0 -1.5 0zM286.5 256.4a.75 .75 0 1 0 1.5 0a.75 .75 0 1 0 -1.5 0zM282.4 258a.75 .75 0 1 0 1.5 0a.75 .75 0 1 0 -1.5 0zM285.4 258a.75 .75 0 1 0 1.5 0a.75 .75 0 1 0 -1.5 0zM281.3 259.6a.75 .75 0 1 0 1.5 0a.75 .75 0 1 0 -1.5 0zM286.5 259.6a.75 .75 0 1 0 1.5 0a.75 .75 0 1 0 -1.5 0zM282.7 261.6a.75 .75 0 1 0 1.5 0a.75 .75 0 1 0 -1.5 0zM285.1 261.6a.75 .75 0 1 0 1.5 0a.75 .75 0 1 0 -1.5 0zM281.7 263.2a.75 .75 0 1 0 1.5 0a.75 .75 0 1 0 -1.5 0zM286.1 263.2a.75 .75 0 1 0 1.5 0a.75 .75 0 1 0 -1.5 0zM282.7 264.8a.75 .75 0 1 0 1.5 0a.75 .75 0 1 0 -1.5 0zM285.1 264.8a.75 .75 0 1 0 1.5 0a.75 .75 0 1 0 -1.5 0zM281.3 266.8a.75 .75 0 1 0 1.5 0a.75 .75 0 1 0 -1.5 0zM286.5 266.8a.75 .75 0 1 0 1.5 0a.75 .75 0 1 0 -1.5 0zM282.4 268.4a.75 .75 0 1 0 1.5 0a.75 .75 0 1 0 -1.5 0zM285.4 268.4a.75 .75 0 1 0 1.5 0a.75 .75 0 1 0 -1.5 0zM281.3 270a.75 .75 0 1 0 1.5 0a.75 .75 0 1 0 -1.5 0zM286.5 270a.75 .75 0 1 0 1.5 0a.75 .75 0 1 0 -1.5 0zM282.7 272a.75 .75 0 1 0 1.5 0a.75 .75 0 1 0 -1.5 0zM285.1 272a.75 .75 0 1 0 1.5 0a.75 .75 0 1 0 -1.5 0zM281.7 273.6a.75 .75 0 1 0 1.5 0a.75 .75 0 1 0 -1.5 0zM286.1 273.6a.75 .75 0 1 0 1.5 0a.75 .75 0 1 0 -1.5 0zM282.7 275.2a.75 .75 0 1 0 1.5 0a.75 .75 0 1 0 -1.5 0zM285.1 275.2a.75 .75 0 1 0 1.5 0a.75 .75 0 1 0 -1.5 0zM281.3 277.2a.75 .75 0 1 0 1.5 0a.75 .75 0 1 0 -1.5 0zM286.5 277.2a.75 .75 0 1 0 1.5 0a.75 .75 0 1 0 -1.5 0zM282.4 278.8a.75 .75 0 1 0 1.5 0a.75 .75 0 1 0 -1.5 0zM285.4 278.8a.75 .75 0 1 0 1.5 0a.75 .75 0 1 0 -1.5 0zM281.3 280.4a.75 .75 0 1 0 1.5 0a.75 .75 0 1 0 -1.5 0zM286.5 280.4a.75 .75 0 1 0 1.5 0a.75 .75 0 1 0 -1.5 0zM282.7 282.4a.75 .75 0 1 0 1.5 0a.75 .75 0 1 0 -1.5 0zM285.1 282.4a.75 .75 0 1 0 1.5 0a.75 .75 0 1 0 -1.5 0zM281.7 284a.75 .75 0 1 0 1.5 0a.75 .75 0 1 0 -1.5 0zM286.1 284a.75 .75 0 1 0 1.5 0a.75 .75 0 1 0 -1.5 0zM282.7 285.6a.75 .75 0 1 0 1.5 0a.75 .75 0 1 0 -1.5 0zM285.1 285.6a.75 .75 0 1 0 1.5 0a.75 .75 0 1 0 -1.5 0zM281.3 287.6a.75 .75 0 1 0 1.5 0a.75 .75 0 1 0 -1.5 0zM286.5 287.6a.75 .75 0 1 0 1.5 0a.75 .75 0 1 0 -1.5 0zM282.4 289.2a.75 .75 0 1 0 1.5 0a.75 .75 0 1 0 -1.5 0zM285.4 289.2a.75 .75 0 1 0 1.5 0a.75 .75 0 1 0 -1.5 0zM281.3 290.8a.75 .75 0 1 0 1.5 0a.75 .75 0 1 0 -1.5 0zM286.5 290.8a.75 .75 0 1 0 1.5 0a.75 .75 0 1 0 -1.5 0zM282.7 292.8a.75 .75 0 1 0 1.5 0a.75 .75 0 1 0 -1.5 0zM285.1 292.8a.75 .75 0 1 0 1.5 0a.75 .75 0 1 0 -1.5 0zM281.7 294.4a.75 .75 0 1 0 1.5 0a.75 .75 0 1 0 -1.5 0zM286.1 294.4a.75 .75 0 1 0 1.5 0a.75 .75 0 1 0 -1.5 0zM282.7 296a.75 .75 0 1 0 1.5 0a.75 .75 0 1 0 -1.5 0zM285.1 296a.75 .75 0 1 0 1.5 0a.75 .75 0 1 0 -1.5 0zM281.3 298a.75 .75 0 1 0 1.5 0a.75 .75 0 1 0 -1.5 0zM286.5 298a.75 .75 0 1 0 1.5 0a.75 .75 0 1 0 -1.5 0zM282.4 299.6a.75 .75 0 1 0 1.5 0a.75 .75 0 1 0 -1.5 0zM285.4 299.6a.75 .75 0 1 0 1.5 0a.75 .75 0 1 0 -1.5 0zM281.3 301.2a.75 .75 0 1 0 1.5 0a.75 .75 0 1 0 -1.5 0zM286.5 301.2a.75 .75 0 1 0 1.5 0a.75 .75 0 1 0 -1.5 0zM282.7 303.2a.75 .75 0 1 0 1.5 0a.75 .75 0 1 0 -1.5 0zM285.1 303.2a.75 .75 0 1 0 1.5 0a.75 .75 0 1 0 -1.5 0zM281.7 304.8a.75 .75 0 1 0 1.5 0a.75 .75 0 1 0 -1.5 0zM286.1 304.8a.75 .75 0 1 0 1.5 0a.75 .75 0 1 0 -1.5 0zM282.7 306.4a.75 .75 0 1 0 1.5 0a.75 .75 0 1 0 -1.5 0zM285.1 306.4a.75 .75 0 1 0 1.5 0a.75 .75 0 1 0 -1.5 0zM281.3 308.4a.75 .75 0 1 0 1.5 0a.75 .75 0 1 0 -1.5 0zM286.5 308.4a.75 .75 0 1 0 1.5 0a.75 .75 0 1 0 -1.5 0zM282.4 310a.75 .75 0 1 0 1.5 0a.75 .75 0 1 0 -1.5 0zM285.4 310a.75 .75 0 1 0 1.5 0a.75 .75 0 1 0 -1.5 0zM281.3 311.6a.75 .75 0 1 0 1.5 0a.75 .75 0 1 0 -1.5 0zM286.5 311.6a.75 .75 0 1 0 1.5 0a.75 .75 0 1 0 -1.5 0zM282.7 313.6a.75 .75 0 1 0 1.5 0a.75 .75 0 1 0 -1.5 0zM285.1 313.6a.75 .75 0 1 0 1.5 0a.75 .75 0 1 0 -1.5 0zM281.7 315.2a.75 .75 0 1 0 1.5 0a.75 .75 0 1 0 -1.5 0zM286.1 315.2a.75 .75 0 1 0 1.5 0a.75 .75 0 1 0 -1.5 0zM282.7 316.8a.75 .75 0 1 0 1.5 0a.75 .75 0 1 0 -1.5 0zM285.1 316.8a.75 .75 0 1 0 1.5 0a.75 .75 0 1 0 -1.5 0zM281.3 318.8a.75 .75 0 1 0 1.5 0a.75 .75 0 1 0 -1.5 0zM286.5 318.8a.75 .75 0 1 0 1.5 0a.75 .75 0 1 0 -1.5 0zM282.4 320.4a.75 .75 0 1 0 1.5 0a.75 .75 0 1 0 -1.5 0zM285.4 320.4a.75 .75 0 1 0 1.5 0a.75 .75 0 1 0 -1.5 0zM281.3 322a.75 .75 0 1 0 1.5 0a.75 .75 0 1 0 -1.5 0zM286.5 322a.75 .75 0 1 0 1.5 0a.75 .75 0 1 0 -1.5 0zM282.7 324a.75 .75 0 1 0 1.5 0a.75 .75 0 1 0 -1.5 0zM285.1 324a.75 .75 0 1 0 1.5 0a.75 .75 0 1 0 -1.5 0zM281.7 325.6a.75 .75 0 1 0 1.5 0a.75 .75 0 1 0 -1.5 0zM286.1 325.6a.75 .75 0 1 0 1.5 0a.75 .75 0 1 0 -1.5 0zM282.7 327.2a.75 .75 0 1 0 1.5 0a.75 .75 0 1 0 -1.5 0zM285.1 327.2a.75 .75 0 1 0 1.5 0a.75 .75 0 1 0 -1.5 0zM281.3 329.2a.75 .75 0 1 0 1.5 0a.75 .75 0 1 0 -1.5 0zM286.5 329.2a.75 .75 0 1 0 1.5 0a.75 .75 0 1 0 -1.5 0zM282.4 330.8a.75 .75 0 1 0 1.5 0a.75 .75 0 1 0 -1.5 0zM285.4 330.8a.75 .75 0 1 0 1.5 0a.75 .75 0 1 0 -1.5 0zM281.3 332.4a.75 .75 0 1 0 1.5 0a.75 .75 0 1 0 -1.5 0zM286.5 332.4a.75 .75 0 1 0 1.5 0a.75 .75 0 1 0 -1.5 0zM282.7 334.4a.75 .75 0 1 0 1.5 0a.75 .75 0 1 0 -1.5 0zM285.1 334.4a.75 .75 0 1 0 1.5 0a.75 .75 0 1 0 -1.5 0zM281.7 336a.75 .75 0 1 0 1.5 0a.75 .75 0 1 0 -1.5 0zM286.1 336a.75 .75 0 1 0 1.5 0a.75 .75 0 1 0 -1.5 0zM282.7 337.6a.75 .75 0 1 0 1.5 0a.75 .75 0 1 0 -1.5 0zM285.1 337.6a.75 .75 0 1 0 1.5 0a.75 .75 0 1 0 -1.5 0z"/>
<clipPath id="mD"><rect x="0" y="8" width="25.4" height="76.6"/></clipPath>
<g transform="translate(280.3,247.1) scale(0.34,0.43) translate(0,-8)"><g clip-path="url(#mD)"><use href="#bD"/></g></g>
<rect x="280.3" y="237.3" width="8.7" height="9.8" fill="url(#fadeU)"/>
<rect x="280.3" y="279.7" width="8.7" height="9.8" fill="url(#fadeD)"/>
<rect x="272.5" y="246.3" width="21" height="34.2" fill="none" stroke="#000" stroke-width="1.1"/>
<line x1="293.5" y1="263.4" x2="302.66" y2="239.44" stroke="#000" stroke-width="1.7"/>
<polygon points="305.7,231.5 305.67,241.66 298.94,239.09" fill="#000"/>
<line x1="293.5" y1="263.4" x2="302.81" y2="289.11" stroke="#000" stroke-width="1.7"/>
<polygon points="305.7,297.1 299.08,289.39 305.85,286.94" fill="#000"/>
<text transform="translate(282.6,353) scale(1,1.1)" text-anchor="start" style="font-family:'Liberation Serif',serif;font-weight:bold;font-size:11px">D</text>
<clipPath id="cE"><rect x="0" y="0" width="22.2" height="84.7"/></clipPath>
<g transform="translate(376.4,220.8) scale(1,1)"><g clip-path="url(#cE)"><g id="bE" filter="url(#bl)"><rect x="-2" y="-2" width="26.2" height="88.7" fill="#1890ff"/><ellipse cx="11" cy="2.5" rx="13" ry="4" fill="#2070ff"/><ellipse cx="8" cy="5.5" rx="2.5" ry="2.5" fill="url(#cyg)"/><ellipse cx="13.7" cy="4.7" rx="2.5" ry="2.5" fill="url(#cyg)"/><ellipse cx="3.9" cy="12.4" rx="7.5" ry="8" fill="url(#cyg)"/><ellipse cx="17.7" cy="12.4" rx="7.5" ry="8" fill="url(#cyg)"/><ellipse cx="11" cy="4" rx="5.5" ry="3" fill="url(#cyg)"/><ellipse cx="3.9" cy="12.4" rx="3.74" ry="3.74" fill="url(#yelg)"/><ellipse cx="17.7" cy="12.4" rx="3.74" ry="3.74" fill="url(#yelg)"/><ellipse cx="11.2" cy="14" rx="4.8" ry="9" fill="url(#blug)"/><ellipse cx="10.5" cy="19.5" rx="9" ry="3" fill="url(#blug)"/><ellipse cx="11" cy="25" rx="10" ry="4" fill="url(#cyg)"/><ellipse cx="1.8" cy="24.6" rx="2.72" ry="2.72" fill="url(#hotg)"/><ellipse cx="19.4" cy="24.6" rx="2.72" ry="2.72" fill="url(#hotg)"/><ellipse cx="11" cy="38" rx="10" ry="3.5" fill="url(#cyg)"/><ellipse cx="6.8" cy="31.1" rx="5.76" ry="5.12" fill="url(#hotg)"/><ellipse cx="14.6" cy="31.1" rx="5.76" ry="5.12" fill="url(#hotg)"/><ellipse cx="10.8" cy="37.6" rx="2.5" ry="2" fill="url(#blug)"/><ellipse cx="8.8" cy="43.3" rx="5.76" ry="5.12" fill="url(#hotg)"/><ellipse cx="14.2" cy="43.3" rx="5.44" ry="5.12" fill="url(#hotg)"/><ellipse cx="11" cy="49.5" rx="4" ry="5" fill="url(#cyg)"/><ellipse cx="3.3" cy="50.6" rx="6.4" ry="6.08" fill="url(#hotg)"/><ellipse cx="19.2" cy="50.6" rx="6.4" ry="6.08" fill="url(#hotg)"/><ellipse cx="11.2" cy="63.9" rx="9.8" ry="9.8" fill="url(#ringg)"/><ellipse cx="4.9" cy="63.4" rx="3.52" ry="3.52" fill="url(#yelg)"/><ellipse cx="17" cy="63.4" rx="3.52" ry="3.52" fill="url(#yelg)"/><ellipse cx="8.3" cy="58" rx="2.64" ry="2.64" fill="url(#yelg)"/><ellipse cx="13.6" cy="58" rx="2.64" ry="2.64" fill="url(#yelg)"/><ellipse cx="11.2" cy="63.9" rx="3.2" ry="3.2" fill="url(#blug)"/><ellipse cx="7.3" cy="69.2" rx="3.2" ry="3.2" fill="url(#hotg)"/><ellipse cx="14.6" cy="69.2" rx="3.2" ry="3.2" fill="url(#hotg)"/><ellipse cx="11" cy="75.5" rx="13" ry="2.4" fill="#0818f0"/><ellipse cx="11" cy="81.5" rx="13" ry="3.5" fill="url(#cyg)"/><ellipse cx="5.9" cy="82.4" rx="2.5" ry="2.5" fill="url(#cyg)"/><ellipse cx="15.1" cy="82.4" rx="2.5" ry="2.5" fill="url(#cyg)"/></g><g filter="url(#bl2)"><path fill="none" stroke="#000" stroke-width="0.95" d="M4 29L9 33M5 33L10 29M12 29L17 33M13 33L18 29M7 41L13 46M9 45L15 41M11 42L17 46M0 48L5 53M1 52L7 49M16 48L21 53M17 53L22 49M-3 46L1 50M8 60L11 63M12 60L15 63M2 34L7 37M15 34L20 37M5 47L10 46M12 49L17 46M-2 52L4 54"/></g></g></g>
<rect x="347.3" y="186.2" width="9" height="153" fill="#0a10fa"/><path fill="#0000a8" d="M348.85 189.2a.75 .75 0 1 0 1.5 0a.75 .75 0 1 0 -1.5 0zM353.25 189.2a.75 .75 0 1 0 1.5 0a.75 .75 0 1 0 -1.5 0zM349.85 190.8a.75 .75 0 1 0 1.5 0a.75 .75 0 1 0 -1.5 0zM352.25 190.8a.75 .75 0 1 0 1.5 0a.75 .75 0 1 0 -1.5 0zM348.45 192.8a.75 .75 0 1 0 1.5 0a.75 .75 0 1 0 -1.5 0zM353.65 192.8a.75 .75 0 1 0 1.5 0a.75 .75 0 1 0 -1.5 0zM349.55 194.4a.75 .75 0 1 0 1.5 0a.75 .75 0 1 0 -1.5 0zM352.55 194.4a.75 .75 0 1 0 1.5 0a.75 .75 0 1 0 -1.5 0zM348.45 196a.75 .75 0 1 0 1.5 0a.75 .75 0 1 0 -1.5 0zM353.65 196a.75 .75 0 1 0 1.5 0a.75 .75 0 1 0 -1.5 0zM349.85 198a.75 .75 0 1 0 1.5 0a.75 .75 0 1 0 -1.5 0zM352.25 198a.75 .75 0 1 0 1.5 0a.75 .75 0 1 0 -1.5 0zM348.85 199.6a.75 .75 0 1 0 1.5 0a.75 .75 0 1 0 -1.5 0zM353.25 199.6a.75 .75 0 1 0 1.5 0a.75 .75 0 1 0 -1.5 0zM349.85 201.2a.75 .75 0 1 0 1.5 0a.75 .75 0 1 0 -1.5 0zM352.25 201.2a.75 .75 0 1 0 1.5 0a.75 .75 0 1 0 -1.5 0zM348.45 203.2a.75 .75 0 1 0 1.5 0a.75 .75 0 1 0 -1.5 0zM353.65 203.2a.75 .75 0 1 0 1.5 0a.75 .75 0 1 0 -1.5 0zM349.55 204.8a.75 .75 0 1 0 1.5 0a.75 .75 0 1 0 -1.5 0zM352.55 204.8a.75 .75 0 1 0 1.5 0a.75 .75 0 1 0 -1.5 0zM348.45 206.4a.75 .75 0 1 0 1.5 0a.75 .75 0 1 0 -1.5 0zM353.65 206.4a.75 .75 0 1 0 1.5 0a.75 .75 0 1 0 -1.5 0zM349.85 208.4a.75 .75 0 1 0 1.5 0a.75 .75 0 1 0 -1.5 0zM352.25 208.4a.75 .75 0 1 0 1.5 0a.75 .75 0 1 0 -1.5 0zM348.85 210a.75 .75 0 1 0 1.5 0a.75 .75 0 1 0 -1.5 0zM353.25 210a.75 .75 0 1 0 1.5 0a.75 .75 0 1 0 -1.5 0zM349.85 211.6a.75 .75 0 1 0 1.5 0a.75 .75 0 1 0 -1.5 0zM352.25 211.6a.75 .75 0 1 0 1.5 0a.75 .75 0 1 0 -1.5 0zM348.45 213.6a.75 .75 0 1 0 1.5 0a.75 .75 0 1 0 -1.5 0zM353.65 213.6a.75 .75 0 1 0 1.5 0a.75 .75 0 1 0 -1.5 0zM349.55 215.2a.75 .75 0 1 0 1.5 0a.75 .75 0 1 0 -1.5 0zM352.55 215.2a.75 .75 0 1 0 1.5 0a.75 .75 0 1 0 -1.5 0zM348.45 216.8a.75 .75 0 1 0 1.5 0a.75 .75 0 1 0 -1.5 0zM353.65 216.8a.75 .75 0 1 0 1.5 0a.75 .75 0 1 0 -1.5 0zM349.85 218.8a.75 .75 0 1 0 1.5 0a.75 .75 0 1 0 -1.5 0zM352.25 218.8a.75 .75 0 1 0 1.5 0a.75 .75 0 1 0 -1.5 0zM348.85 220.4a.75 .75 0 1 0 1.5 0a.75 .75 0 1 0 -1.5 0zM353.25 220.4a.75 .75 0 1 0 1.5 0a.75 .75 0 1 0 -1.5 0zM349.85 222a.75 .75 0 1 0 1.5 0a.75 .75 0 1 0 -1.5 0zM352.25 222a.75 .75 0 1 0 1.5 0a.75 .75 0 1 0 -1.5 0zM348.45 224a.75 .75 0 1 0 1.5 0a.75 .75 0 1 0 -1.5 0zM353.65 224a.75 .75 0 1 0 1.5 0a.75 .75 0 1 0 -1.5 0zM349.55 225.6a.75 .75 0 1 0 1.5 0a.75 .75 0 1 0 -1.5 0zM352.55 225.6a.75 .75 0 1 0 1.5 0a.75 .75 0 1 0 -1.5 0zM348.45 227.2a.75 .75 0 1 0 1.5 0a.75 .75 0 1 0 -1.5 0zM353.65 227.2a.75 .75 0 1 0 1.5 0a.75 .75 0 1 0 -1.5 0zM349.85 229.2a.75 .75 0 1 0 1.5 0a.75 .75 0 1 0 -1.5 0zM352.25 229.2a.75 .75 0 1 0 1.5 0a.75 .75 0 1 0 -1.5 0zM348.85 230.8a.75 .75 0 1 0 1.5 0a.75 .75 0 1 0 -1.5 0zM353.25 230.8a.75 .75 0 1 0 1.5 0a.75 .75 0 1 0 -1.5 0zM349.85 232.4a.75 .75 0 1 0 1.5 0a.75 .75 0 1 0 -1.5 0zM352.25 232.4a.75 .75 0 1 0 1.5 0a.75 .75 0 1 0 -1.5 0zM348.45 234.4a.75 .75 0 1 0 1.5 0a.75 .75 0 1 0 -1.5 0zM353.65 234.4a.75 .75 0 1 0 1.5 0a.75 .75 0 1 0 -1.5 0zM349.55 236a.75 .75 0 1 0 1.5 0a.75 .75 0 1 0 -1.5 0zM352.55 236a.75 .75 0 1 0 1.5 0a.75 .75 0 1 0 -1.5 0zM348.45 237.6a.75 .75 0 1 0 1.5 0a.75 .75 0 1 0 -1.5 0zM353.65 237.6a.75 .75 0 1 0 1.5 0a.75 .75 0 1 0 -1.5 0zM349.85 239.6a.75 .75 0 1 0 1.5 0a.75 .75 0 1 0 -1.5 0zM352.25 239.6a.75 .75 0 1 0 1.5 0a.75 .75 0 1 0 -1.5 0zM348.85 241.2a.75 .75 0 1 0 1.5 0a.75 .75 0 1 0 -1.5 0zM353.25 241.2a.75 .75 0 1 0 1.5 0a.75 .75 0 1 0 -1.5 0zM349.85 242.8a.75 .75 0 1 0 1.5 0a.75 .75 0 1 0 -1.5 0zM352.25 242.8a.75 .75 0 1 0 1.5 0a.75 .75 0 1 0 -1.5 0zM348.45 244.8a.75 .75 0 1 0 1.5 0a.75 .75 0 1 0 -1.5 0zM353.65 244.8a.75 .75 0 1 0 1.5 0a.75 .75 0 1 0 -1.5 0zM349.55 246.4a.75 .75 0 1 0 1.5 0a.75 .75 0 1 0 -1.5 0zM352.55 246.4a.75 .75 0 1 0 1.5 0a.75 .75 0 1 0 -1.5 0zM348.45 248a.75 .75 0 1 0 1.5 0a.75 .75 0 1 0 -1.5 0zM353.65 248a.75 .75 0 1 0 1.5 0a.75 .75 0 1 0 -1.5 0zM349.85 250a.75 .75 0 1 0 1.5 0a.75 .75 0 1 0 -1.5 0zM352.25 250a.75 .75 0 1 0 1.5 0a.75 .75 0 1 0 -1.5 0zM348.85 251.6a.75 .75 0 1 0 1.5 0a.75 .75 0 1 0 -1.5 0zM353.25 251.6a.75 .75 0 1 0 1.5 0a.75 .75 0 1 0 -1.5 0zM349.85 253.2a.75 .75 0 1 0 1.5 0a.75 .75 0 1 0 -1.5 0zM352.25 253.2a.75 .75 0 1 0 1.5 0a.75 .75 0 1 0 -1.5 0zM348.45 255.2a.75 .75 0 1 0 1.5 0a.75 .75 0 1 0 -1.5 0zM353.65 255.2a.75 .75 0 1 0 1.5 0a.75 .75 0 1 0 -1.5 0zM349.55 256.8a.75 .75 0 1 0 1.5 0a.75 .75 0 1 0 -1.5 0zM352.55 256.8a.75 .75 0 1 0 1.5 0a.75 .75 0 1 0 -1.5 0zM348.45 258.4a.75 .75 0 1 0 1.5 0a.75 .75 0 1 0 -1.5 0zM353.65 258.4a.75 .75 0 1 0 1.5 0a.75 .75 0 1 0 -1.5 0zM349.85 260.4a.75 .75 0 1 0 1.5 0a.75 .75 0 1 0 -1.5 0zM352.25 260.4a.75 .75 0 1 0 1.5 0a.75 .75 0 1 0 -1.5 0zM348.85 262a.75 .75 0 1 0 1.5 0a.75 .75 0 1 0 -1.5 0zM353.25 262a.75 .75 0 1 0 1.5 0a.75 .75 0 1 0 -1.5 0zM349.85 263.6a.75 .75 0 1 0 1.5 0a.75 .75 0 1 0 -1.5 0zM352.25 263.6a.75 .75 0 1 0 1.5 0a.75 .75 0 1 0 -1.5 0zM348.45 265.6a.75 .75 0 1 0 1.5 0a.75 .75 0 1 0 -1.5 0zM353.65 265.6a.75 .75 0 1 0 1.5 0a.75 .75 0 1 0 -1.5 0zM349.55 267.2a.75 .75 0 1 0 1.5 0a.75 .75 0 1 0 -1.5 0zM352.55 267.2a.75 .75 0 1 0 1.5 0a.75 .75 0 1 0 -1.5 0zM348.45 268.8a.75 .75 0 1 0 1.5 0a.75 .75 0 1 0 -1.5 0zM353.65 268.8a.75 .75 0 1 0 1.5 0a.75 .75 0 1 0 -1.5 0zM349.85 270.8a.75 .75 0 1 0 1.5 0a.75 .75 0 1 0 -1.5 0zM352.25 270.8a.75 .75 0 1 0 1.5 0a.75 .75 0 1 0 -1.5 0zM348.85 272.4a.75 .75 0 1 0 1.5 0a.75 .75 0 1 0 -1.5 0zM353.25 272.4a.75 .75 0 1 0 1.5 0a.75 .75 0 1 0 -1.5 0zM349.85 274a.75 .75 0 1 0 1.5 0a.75 .75 0 1 0 -1.5 0zM352.25 274a.75 .75 0 1 0 1.5 0a.75 .75 0 1 0 -1.5 0zM348.45 276a.75 .75 0 1 0 1.5 0a.75 .75 0 1 0 -1.5 0zM353.65 276a.75 .75 0 1 0 1.5 0a.75 .75 0 1 0 -1.5 0zM349.55 277.6a.75 .75 0 1 0 1.5 0a.75 .75 0 1 0 -1.5 0zM352.55 277.6a.75 .75 0 1 0 1.5 0a.75 .75 0 1 0 -1.5 0zM348.45 279.2a.75 .75 0 1 0 1.5 0a.75 .75 0 1 0 -1.5 0zM353.65 279.2a.75 .75 0 1 0 1.5 0a.75 .75 0 1 0 -1.5 0zM349.85 281.2a.75 .75 0 1 0 1.5 0a.75 .75 0 1 0 -1.5 0zM352.25 281.2a.75 .75 0 1 0 1.5 0a.75 .75 0 1 0 -1.5 0zM348.85 282.8a.75 .75 0 1 0 1.5 0a.75 .75 0 1 0 -1.5 0zM353.25 282.8a.75 .75 0 1 0 1.5 0a.75 .75 0 1 0 -1.5 0zM349.85 284.4a.75 .75 0 1 0 1.5 0a.75 .75 0 1 0 -1.5 0zM352.25 284.4a.75 .75 0 1 0 1.5 0a.75 .75 0 1 0 -1.5 0zM348.45 286.4a.75 .75 0 1 0 1.5 0a.75 .75 0 1 0 -1.5 0zM353.65 286.4a.75 .75 0 1 0 1.5 0a.75 .75 0 1 0 -1.5 0zM349.55 288a.75 .75 0 1 0 1.5 0a.75 .75 0 1 0 -1.5 0zM352.55 288a.75 .75 0 1 0 1.5 0a.75 .75 0 1 0 -1.5 0zM348.45 289.6a.75 .75 0 1 0 1.5 0a.75 .75 0 1 0 -1.5 0zM353.65 289.6a.75 .75 0 1 0 1.5 0a.75 .75 0 1 0 -1.5 0zM349.85 291.6a.75 .75 0 1 0 1.5 0a.75 .75 0 1 0 -1.5 0zM352.25 291.6a.75 .75 0 1 0 1.5 0a.75 .75 0 1 0 -1.5 0zM348.85 293.2a.75 .75 0 1 0 1.5 0a.75 .75 0 1 0 -1.5 0zM353.25 293.2a.75 .75 0 1 0 1.5 0a.75 .75 0 1 0 -1.5 0zM349.85 294.8a.75 .75 0 1 0 1.5 0a.75 .75 0 1 0 -1.5 0zM352.25 294.8a.75 .75 0 1 0 1.5 0a.75 .75 0 1 0 -1.5 0zM348.45 296.8a.75 .75 0 1 0 1.5 0a.75 .75 0 1 0 -1.5 0zM353.65 296.8a.75 .75 0 1 0 1.5 0a.75 .75 0 1 0 -1.5 0zM349.55 298.4a.75 .75 0 1 0 1.5 0a.75 .75 0 1 0 -1.5 0zM352.55 298.4a.75 .75 0 1 0 1.5 0a.75 .75 0 1 0 -1.5 0zM348.45 300a.75 .75 0 1 0 1.5 0a.75 .75 0 1 0 -1.5 0zM353.65 300a.75 .75 0 1 0 1.5 0a.75 .75 0 1 0 -1.5 0zM349.85 302a.75 .75 0 1 0 1.5 0a.75 .75 0 1 0 -1.5 0zM352.25 302a.75 .75 0 1 0 1.5 0a.75 .75 0 1 0 -1.5 0zM348.85 303.6a.75 .75 0 1 0 1.5 0a.75 .75 0 1 0 -1.5 0zM353.25 303.6a.75 .75 0 1 0 1.5 0a.75 .75 0 1 0 -1.5 0zM349.85 305.2a.75 .75 0 1 0 1.5 0a.75 .75 0 1 0 -1.5 0zM352.25 305.2a.75 .75 0 1 0 1.5 0a.75 .75 0 1 0 -1.5 0zM348.45 307.2a.75 .75 0 1 0 1.5 0a.75 .75 0 1 0 -1.5 0zM353.65 307.2a.75 .75 0 1 0 1.5 0a.75 .75 0 1 0 -1.5 0zM349.55 308.8a.75 .75 0 1 0 1.5 0a.75 .75 0 1 0 -1.5 0zM352.55 308.8a.75 .75 0 1 0 1.5 0a.75 .75 0 1 0 -1.5 0zM348.45 310.4a.75 .75 0 1 0 1.5 0a.75 .75 0 1 0 -1.5 0zM353.65 310.4a.75 .75 0 1 0 1.5 0a.75 .75 0 1 0 -1.5 0zM349.85 312.4a.75 .75 0 1 0 1.5 0a.75 .75 0 1 0 -1.5 0zM352.25 312.4a.75 .75 0 1 0 1.5 0a.75 .75 0 1 0 -1.5 0zM348.85 314a.75 .75 0 1 0 1.5 0a.75 .75 0 1 0 -1.5 0zM353.25 314a.75 .75 0 1 0 1.5 0a.75 .75 0 1 0 -1.5 0zM349.85 315.6a.75 .75 0 1 0 1.5 0a.75 .75 0 1 0 -1.5 0zM352.25 315.6a.75 .75 0 1 0 1.5 0a.75 .75 0 1 0 -1.5 0zM348.45 317.6a.75 .75 0 1 0 1.5 0a.75 .75 0 1 0 -1.5 0zM353.65 317.6a.75 .75 0 1 0 1.5 0a.75 .75 0 1 0 -1.5 0zM349.55 319.2a.75 .75 0 1 0 1.5 0a.75 .75 0 1 0 -1.5 0zM352.55 319.2a.75 .75 0 1 0 1.5 0a.75 .75 0 1 0 -1.5 0zM348.45 320.8a.75 .75 0 1 0 1.5 0a.75 .75 0 1 0 -1.5 0zM353.65 320.8a.75 .75 0 1 0 1.5 0a.75 .75 0 1 0 -1.5 0zM349.85 322.8a.75 .75 0 1 0 1.5 0a.75 .75 0 1 0 -1.5 0zM352.25 322.8a.75 .75 0 1 0 1.5 0a.75 .75 0 1 0 -1.5 0zM348.85 324.4a.75 .75 0 1 0 1.5 0a.75 .75 0 1 0 -1.5 0zM353.25 324.4a.75 .75 0 1 0 1.5 0a.75 .75 0 1 0 -1.5 0zM349.85 326a.75 .75 0 1 0 1.5 0a.75 .75 0 1 0 -1.5 0zM352.25 326a.75 .75 0 1 0 1.5 0a.75 .75 0 1 0 -1.5 0zM348.45 328a.75 .75 0 1 0 1.5 0a.75 .75 0 1 0 -1.5 0zM353.65 328a.75 .75 0 1 0 1.5 0a.75 .75 0 1 0 -1.5 0zM349.55 329.6a.75 .75 0 1 0 1.5 0a.75 .75 0 1 0 -1.5 0zM352.55 329.6a.75 .75 0 1 0 1.5 0a.75 .75 0 1 0 -1.5 0zM348.45 331.2a.75 .75 0 1 0 1.5 0a.75 .75 0 1 0 -1.5 0zM353.65 331.2a.75 .75 0 1 0 1.5 0a.75 .75 0 1 0 -1.5 0zM349.85 333.2a.75 .75 0 1 0 1.5 0a.75 .75 0 1 0 -1.5 0zM352.25 333.2a.75 .75 0 1 0 1.5 0a.75 .75 0 1 0 -1.5 0zM348.85 334.8a.75 .75 0 1 0 1.5 0a.75 .75 0 1 0 -1.5 0zM353.25 334.8a.75 .75 0 1 0 1.5 0a.75 .75 0 1 0 -1.5 0zM349.85 336.4a.75 .75 0 1 0 1.5 0a.75 .75 0 1 0 -1.5 0zM352.25 336.4a.75 .75 0 1 0 1.5 0a.75 .75 0 1 0 -1.5 0z"/>
<clipPath id="mE"><rect x="0" y="8" width="22.2" height="76.7"/></clipPath>
<g transform="translate(347.3,249.3) scale(0.41,0.42) translate(0,-8)"><g clip-path="url(#mE)"><use href="#bE"/></g></g>
<rect x="347.3" y="239.5" width="9" height="9.8" fill="url(#fadeU)"/>
<rect x="347.3" y="281.3" width="9" height="9.8" fill="url(#fadeD)"/>
<rect x="340.6" y="248.5" width="21.2" height="33.6" fill="none" stroke="#000" stroke-width="1.1"/>
<line x1="361.8" y1="265.3" x2="371.61" y2="239.25" stroke="#000" stroke-width="1.7"/>
<polygon points="374.6,231.3 374.62,241.46 367.88,238.92" fill="#000"/>
<line x1="361.8" y1="265.3" x2="371.42" y2="289.12" stroke="#000" stroke-width="1.7"/>
<polygon points="374.6,297 367.7,289.54 374.38,286.84" fill="#000"/>
<text transform="translate(346.9,353.4) scale(1,1.1)" text-anchor="start" style="font-family:'Liberation Serif',serif;font-weight:bold;font-size:11px">E</text>
<clipPath id="cF"><rect x="0" y="0" width="17.8" height="127.4"/></clipPath>
<g transform="translate(444.4,204.1) scale(1,1)"><g clip-path="url(#cF)"><g id="bF" filter="url(#bl)"><rect x="-2" y="-2" width="21.8" height="131.4" fill="#0838ff"/><ellipse cx="2.5" cy="12" rx="4" ry="11" fill="#0868ff"/><ellipse cx="15.3" cy="12" rx="4" ry="11" fill="#0868ff"/><ellipse cx="6.1" cy="4.1" rx="2.4" ry="2.4" fill="url(#cyg)"/><ellipse cx="6.1" cy="4.1" rx="0.7" ry="0.7" fill="#0850ff"/><ellipse cx="11.3" cy="4.1" rx="2.4" ry="2.4" fill="url(#cyg)"/><ellipse cx="11.3" cy="4.1" rx="0.7" ry="0.7" fill="#0850ff"/><ellipse cx="3.2" cy="9.7" rx="2.4" ry="2.4" fill="url(#cyg)"/><ellipse cx="3.2" cy="9.7" rx="0.7" ry="0.7" fill="#0850ff"/><ellipse cx="14.1" cy="9.7" rx="2.4" ry="2.4" fill="url(#cyg)"/><ellipse cx="14.1" cy="9.7" rx="0.7" ry="0.7" fill="#0850ff"/><ellipse cx="5.6" cy="13.5" rx="2.4" ry="2.4" fill="url(#cyg)"/><ellipse cx="5.6" cy="13.5" rx="0.7" ry="0.7" fill="#0850ff"/><ellipse cx="11.8" cy="13.5" rx="2.4" ry="2.4" fill="url(#cyg)"/><ellipse cx="11.8" cy="13.5" rx="0.7" ry="0.7" fill="#0850ff"/><ellipse cx="2.3" cy="19.2" rx="2.4" ry="2.4" fill="url(#cyg)"/><ellipse cx="2.3" cy="19.2" rx="0.7" ry="0.7" fill="#0850ff"/><ellipse cx="15.1" cy="19.2" rx="2.4" ry="2.4" fill="url(#cyg)"/><ellipse cx="15.1" cy="19.2" rx="0.7" ry="0.7" fill="#0850ff"/><ellipse cx="8.9" cy="25.5" rx="10" ry="6.5" fill="url(#cyg)"/><ellipse cx="5.6" cy="24.9" rx="3.52" ry="3.52" fill="url(#yelg)"/><ellipse cx="11.8" cy="24.9" rx="3.52" ry="3.52" fill="url(#yelg)"/><ellipse cx="3.2" cy="28.7" rx="2.4" ry="2.4" fill="url(#cyg)"/><ellipse cx="14.1" cy="28.7" rx="2.4" ry="2.4" fill="url(#cyg)"/><ellipse cx="8.9" cy="67" rx="10" ry="37" fill="#20d0ff"/><ellipse cx="8.9" cy="60" rx="3" ry="30" fill="#00f0ff" opacity="0.7"/><ellipse cx="8.9" cy="46.5" rx="6.3" ry="8.3" fill="none" stroke="#ffd000" stroke-width="4.2" opacity="0.85"/><ellipse cx="8.9" cy="46.5" rx="6.3" ry="8.3" fill="none" stroke="#f00000" stroke-width="2.6"/><ellipse cx="8.7" cy="75.3" rx="6.6" ry="9.6" fill="none" stroke="#ffd000" stroke-width="4.2" opacity="0.85"/><ellipse cx="8.7" cy="75.3" rx="6.6" ry="9.6" fill="none" stroke="#f00000" stroke-width="2.6"/><ellipse cx="8.9" cy="36" rx="5" ry="3.2" fill="url(#cyg)"/><ellipse cx="6.5" cy="34.6" rx="2.4" ry="2.4" fill="url(#hotg)"/><ellipse cx="10.8" cy="34.6" rx="2.4" ry="2.4" fill="url(#hotg)"/><ellipse cx="3" cy="40" rx="4.96" ry="4.96" fill="url(#hotg)"/><ellipse cx="14.8" cy="40" rx="4.96" ry="4.96" fill="url(#hotg)"/><ellipse cx="3.5" cy="50.2" rx="4.96" ry="4.96" fill="url(#hotg)"/><ellipse cx="14.8" cy="50.2" rx="4.96" ry="4.96" fill="url(#hotg)"/><ellipse cx="7" cy="54.8" rx="4.96" ry="4.96" fill="url(#hotg)"/><ellipse cx="11.8" cy="54.8" rx="4.96" ry="4.96" fill="url(#hotg)"/><ellipse cx="2.1" cy="70.3" rx="4.96" ry="4.96" fill="url(#hotg)"/><ellipse cx="6.1" cy="65.4" rx="4.96" ry="4.96" fill="url(#hotg)"/><ellipse cx="11.3" cy="65.4" rx="4.96" ry="4.96" fill="url(#hotg)"/><ellipse cx="15.3" cy="70.3" rx="4.96" ry="4.96" fill="url(#hotg)"/><ellipse cx="2.6" cy="80.3" rx="4.96" ry="4.96" fill="url(#hotg)"/><ellipse cx="14.8" cy="80.3" rx="4.96" ry="4.96" fill="url(#hotg)"/><ellipse cx="6.1" cy="85.2" rx="4.96" ry="4.96" fill="url(#hotg)"/><ellipse cx="11.3" cy="85.2" rx="4.96" ry="4.96" fill="url(#hotg)"/><ellipse cx="4.8" cy="96" rx="2.88" ry="2.88" fill="url(#hotg)"/><ellipse cx="12.5" cy="96" rx="2.88" ry="2.88" fill="url(#hotg)"/><ellipse cx="2.8" cy="100.6" rx="3.2" ry="3.2" fill="url(#hotg)"/><ellipse cx="15.1" cy="100.6" rx="3.2" ry="3.2" fill="url(#hotg)"/><ellipse cx="8.9" cy="46.5" rx="3.5" ry="6" fill="url(#cyg)"/><ellipse cx="8.7" cy="75.3" rx="3.8" ry="7" fill="url(#cyg)"/><ellipse cx="8.9" cy="43" rx="1" ry="4" fill="#0030ff"/><ellipse cx="8.9" cy="60.2" rx="1.4" ry="1.4" fill="#0030ff"/><ellipse cx="8.9" cy="76.5" rx="1.5" ry="1.2" fill="#0030ff"/><ellipse cx="8.9" cy="98.1" rx="1.4" ry="1.4" fill="#0030ff"/><ellipse cx="8.9" cy="111.4" rx="10" ry="10" fill="url(#skyg)"/><ellipse cx="6.4" cy="107.3" rx="2.3" ry="2.3" fill="url(#cyg)"/><ellipse cx="6.4" cy="107.3" rx="0.6" ry="0.6" fill="#10a0ff"/><ellipse cx="11.5" cy="107.3" rx="2.3" ry="2.3" fill="url(#cyg)"/><ellipse cx="11.5" cy="107.3" rx="0.6" ry="0.6" fill="#10a0ff"/><ellipse cx="3.8" cy="111.4" rx="2.3" ry="2.3" fill="url(#cyg)"/><ellipse cx="3.8" cy="111.4" rx="0.6" ry="0.6" fill="#10a0ff"/><ellipse cx="13.6" cy="111.4" rx="2.3" ry="2.3" fill="url(#cyg)"/><ellipse cx="13.6" cy="111.4" rx="0.6" ry="0.6" fill="#10a0ff"/><ellipse cx="6.4" cy="116.1" rx="2.3" ry="2.3" fill="url(#cyg)"/><ellipse cx="6.4" cy="116.1" rx="0.6" ry="0.6" fill="#10a0ff"/><ellipse cx="11.5" cy="116.1" rx="2.3" ry="2.3" fill="url(#cyg)"/><ellipse cx="11.5" cy="116.1" rx="0.6" ry="0.6" fill="#10a0ff"/><ellipse cx="8.9" cy="111.4" rx="1.6" ry="1.6" fill="#0000b0"/><ellipse cx="4.8" cy="125.8" rx="2.2" ry="2.2" fill="url(#cyg)"/><ellipse cx="12" cy="125.8" rx="2.2" ry="2.2" fill="url(#cyg)"/></g><g filter="url(#bl2)"><path fill="none" stroke="#000" stroke-width="0.8" d="M1 38L5 42M2 42L6 38M12 38L16 42M13 42L17 38M2 49L6 53M5 53L9 57M10 53L14 57M13 49L17 53M0 68L4 72M4 64L8 68M10 64L14 68M14 68L18 72M1 79L5 83M5 84L9 88M10 84L14 88M13 79L17 83M-2 46L3 49M-2 70L3 73"/></g></g></g>
<rect x="415.2" y="189.1" width="9.1" height="155.5" fill="#0a10fa"/><path fill="#0000a8" d="M416.8 192.1a.75 .75 0 1 0 1.5 0a.75 .75 0 1 0 -1.5 0zM421.2 192.1a.75 .75 0 1 0 1.5 0a.75 .75 0 1 0 -1.5 0zM417.8 193.7a.75 .75 0 1 0 1.5 0a.75 .75 0 1 0 -1.5 0zM420.2 193.7a.75 .75 0 1 0 1.5 0a.75 .75 0 1 0 -1.5 0zM416.4 195.7a.75 .75 0 1 0 1.5 0a.75 .75 0 1 0 -1.5 0zM421.6 195.7a.75 .75 0 1 0 1.5 0a.75 .75 0 1 0 -1.5 0zM417.5 197.3a.75 .75 0 1 0 1.5 0a.75 .75 0 1 0 -1.5 0zM420.5 197.3a.75 .75 0 1 0 1.5 0a.75 .75 0 1 0 -1.5 0zM416.4 198.9a.75 .75 0 1 0 1.5 0a.75 .75 0 1 0 -1.5 0zM421.6 198.9a.75 .75 0 1 0 1.5 0a.75 .75 0 1 0 -1.5 0zM417.8 200.9a.75 .75 0 1 0 1.5 0a.75 .75 0 1 0 -1.5 0zM420.2 200.9a.75 .75 0 1 0 1.5 0a.75 .75 0 1 0 -1.5 0zM416.8 202.5a.75 .75 0 1 0 1.5 0a.75 .75 0 1 0 -1.5 0zM421.2 202.5a.75 .75 0 1 0 1.5 0a.75 .75 0 1 0 -1.5 0zM417.8 204.1a.75 .75 0 1 0 1.5 0a.75 .75 0 1 0 -1.5 0zM420.2 204.1a.75 .75 0 1 0 1.5 0a.75 .75 0 1 0 -1.5 0zM416.4 206.1a.75 .75 0 1 0 1.5 0a.75 .75 0 1 0 -1.5 0zM421.6 206.1a.75 .75 0 1 0 1.5 0a.75 .75 0 1 0 -1.5 0zM417.5 207.7a.75 .75 0 1 0 1.5 0a.75 .75 0 1 0 -1.5 0zM420.5 207.7a.75 .75 0 1 0 1.5 0a.75 .75 0 1 0 -1.5 0zM416.4 209.3a.75 .75 0 1 0 1.5 0a.75 .75 0 1 0 -1.5 0zM421.6 209.3a.75 .75 0 1 0 1.5 0a.75 .75 0 1 0 -1.5 0zM417.8 211.3a.75 .75 0 1 0 1.5 0a.75 .75 0 1 0 -1.5 0zM420.2 211.3a.75 .75 0 1 0 1.5 0a.75 .75 0 1 0 -1.5 0zM416.8 212.9a.75 .75 0 1 0 1.5 0a.75 .75 0 1 0 -1.5 0zM421.2 212.9a.75 .75 0 1 0 1.5 0a.75 .75 0 1 0 -1.5 0zM417.8 214.5a.75 .75 0 1 0 1.5 0a.75 .75 0 1 0 -1.5 0zM420.2 214.5a.75 .75 0 1 0 1.5 0a.75 .75 0 1 0 -1.5 0zM416.4 216.5a.75 .75 0 1 0 1.5 0a.75 .75 0 1 0 -1.5 0zM421.6 216.5a.75 .75 0 1 0 1.5 0a.75 .75 0 1 0 -1.5 0zM417.5 218.1a.75 .75 0 1 0 1.5 0a.75 .75 0 1 0 -1.5 0zM420.5 218.1a.75 .75 0 1 0 1.5 0a.75 .75 0 1 0 -1.5 0zM416.4 219.7a.75 .75 0 1 0 1.5 0a.75 .75 0 1 0 -1.5 0zM421.6 219.7a.75 .75 0 1 0 1.5 0a.75 .75 0 1 0 -1.5 0zM417.8 221.7a.75 .75 0 1 0 1.5 0a.75 .75 0 1 0 -1.5 0zM420.2 221.7a.75 .75 0 1 0 1.5 0a.75 .75 0 1 0 -1.5 0zM416.8 223.3a.75 .75 0 1 0 1.5 0a.75 .75 0 1 0 -1.5 0zM421.2 223.3a.75 .75 0 1 0 1.5 0a.75 .75 0 1 0 -1.5 0zM417.8 224.9a.75 .75 0 1 0 1.5 0a.75 .75 0 1 0 -1.5 0zM420.2 224.9a.75 .75 0 1 0 1.5 0a.75 .75 0 1 0 -1.5 0zM416.4 226.9a.75 .75 0 1 0 1.5 0a.75 .75 0 1 0 -1.5 0zM421.6 226.9a.75 .75 0 1 0 1.5 0a.75 .75 0 1 0 -1.5 0zM417.5 228.5a.75 .75 0 1 0 1.5 0a.75 .75 0 1 0 -1.5 0zM420.5 228.5a.75 .75 0 1 0 1.5 0a.75 .75 0 1 0 -1.5 0zM416.4 230.1a.75 .75 0 1 0 1.5 0a.75 .75 0 1 0 -1.5 0zM421.6 230.1a.75 .75 0 1 0 1.5 0a.75 .75 0 1 0 -1.5 0zM417.8 232.1a.75 .75 0 1 0 1.5 0a.75 .75 0 1 0 -1.5 0zM420.2 232.1a.75 .75 0 1 0 1.5 0a.75 .75 0 1 0 -1.5 0zM416.8 233.7a.75 .75 0 1 0 1.5 0a.75 .75 0 1 0 -1.5 0zM421.2 233.7a.75 .75 0 1 0 1.5 0a.75 .75 0 1 0 -1.5 0zM417.8 235.3a.75 .75 0 1 0 1.5 0a.75 .75 0 1 0 -1.5 0zM420.2 235.3a.75 .75 0 1 0 1.5 0a.75 .75 0 1 0 -1.5 0zM416.4 237.3a.75 .75 0 1 0 1.5 0a.75 .75 0 1 0 -1.5 0zM421.6 237.3a.75 .75 0 1 0 1.5 0a.75 .75 0 1 0 -1.5 0zM417.5 238.9a.75 .75 0 1 0 1.5 0a.75 .75 0 1 0 -1.5 0zM420.5 238.9a.75 .75 0 1 0 1.5 0a.75 .75 0 1 0 -1.5 0zM416.4 240.5a.75 .75 0 1 0 1.5 0a.75 .75 0 1 0 -1.5 0zM421.6 240.5a.75 .75 0 1 0 1.5 0a.75 .75 0 1 0 -1.5 0zM417.8 242.5a.75 .75 0 1 0 1.5 0a.75 .75 0 1 0 -1.5 0zM420.2 242.5a.75 .75 0 1 0 1.5 0a.75 .75 0 1 0 -1.5 0zM416.8 244.1a.75 .75 0 1 0 1.5 0a.75 .75 0 1 0 -1.5 0zM421.2 244.1a.75 .75 0 1 0 1.5 0a.75 .75 0 1 0 -1.5 0zM417.8 245.7a.75 .75 0 1 0 1.5 0a.75 .75 0 1 0 -1.5 0zM420.2 245.7a.75 .75 0 1 0 1.5 0a.75 .75 0 1 0 -1.5 0zM416.4 247.7a.75 .75 0 1 0 1.5 0a.75 .75 0 1 0 -1.5 0zM421.6 247.7a.75 .75 0 1 0 1.5 0a.75 .75 0 1 0 -1.5 0zM417.5 249.3a.75 .75 0 1 0 1.5 0a.75 .75 0 1 0 -1.5 0zM420.5 249.3a.75 .75 0 1 0 1.5 0a.75 .75 0 1 0 -1.5 0zM416.4 250.9a.75 .75 0 1 0 1.5 0a.75 .75 0 1 0 -1.5 0zM421.6 250.9a.75 .75 0 1 0 1.5 0a.75 .75 0 1 0 -1.5 0zM417.8 252.9a.75 .75 0 1 0 1.5 0a.75 .75 0 1 0 -1.5 0zM420.2 252.9a.75 .75 0 1 0 1.5 0a.75 .75 0 1 0 -1.5 0zM416.8 254.5a.75 .75 0 1 0 1.5 0a.75 .75 0 1 0 -1.5 0zM421.2 254.5a.75 .75 0 1 0 1.5 0a.75 .75 0 1 0 -1.5 0zM417.8 256.1a.75 .75 0 1 0 1.5 0a.75 .75 0 1 0 -1.5 0zM420.2 256.1a.75 .75 0 1 0 1.5 0a.75 .75 0 1 0 -1.5 0zM416.4 258.1a.75 .75 0 1 0 1.5 0a.75 .75 0 1 0 -1.5 0zM421.6 258.1a.75 .75 0 1 0 1.5 0a.75 .75 0 1 0 -1.5 0zM417.5 259.7a.75 .75 0 1 0 1.5 0a.75 .75 0 1 0 -1.5 0zM420.5 259.7a.75 .75 0 1 0 1.5 0a.75 .75 0 1 0 -1.5 0zM416.4 261.3a.75 .75 0 1 0 1.5 0a.75 .75 0 1 0 -1.5 0zM421.6 261.3a.75 .75 0 1 0 1.5 0a.75 .75 0 1 0 -1.5 0zM417.8 263.3a.75 .75 0 1 0 1.5 0a.75 .75 0 1 0 -1.5 0zM420.2 263.3a.75 .75 0 1 0 1.5 0a.75 .75 0 1 0 -1.5 0zM416.8 264.9a.75 .75 0 1 0 1.5 0a.75 .75 0 1 0 -1.5 0zM421.2 264.9a.75 .75 0 1 0 1.5 0a.75 .75 0 1 0 -1.5 0zM417.8 266.5a.75 .75 0 1 0 1.5 0a.75 .75 0 1 0 -1.5 0zM420.2 266.5a.75 .75 0 1 0 1.5 0a.75 .75 0 1 0 -1.5 0zM416.4 268.5a.75 .75 0 1 0 1.5 0a.75 .75 0 1 0 -1.5 0zM421.6 268.5a.75 .75 0 1 0 1.5 0a.75 .75 0 1 0 -1.5 0zM417.5 270.1a.75 .75 0 1 0 1.5 0a.75 .75 0 1 0 -1.5 0zM420.5 270.1a.75 .75 0 1 0 1.5 0a.75 .75 0 1 0 -1.5 0zM416.4 271.7a.75 .75 0 1 0 1.5 0a.75 .75 0 1 0 -1.5 0zM421.6 271.7a.75 .75 0 1 0 1.5 0a.75 .75 0 1 0 -1.5 0zM417.8 273.7a.75 .75 0 1 0 1.5 0a.75 .75 0 1 0 -1.5 0zM420.2 273.7a.75 .75 0 1 0 1.5 0a.75 .75 0 1 0 -1.5 0zM416.8 275.3a.75 .75 0 1 0 1.5 0a.75 .75 0 1 0 -1.5 0zM421.2 275.3a.75 .75 0 1 0 1.5 0a.75 .75 0 1 0 -1.5 0zM417.8 276.9a.75 .75 0 1 0 1.5 0a.75 .75 0 1 0 -1.5 0zM420.2 276.9a.75 .75 0 1 0 1.5 0a.75 .75 0 1 0 -1.5 0zM416.4 278.9a.75 .75 0 1 0 1.5 0a.75 .75 0 1 0 -1.5 0zM421.6 278.9a.75 .75 0 1 0 1.5 0a.75 .75 0 1 0 -1.5 0zM417.5 280.5a.75 .75 0 1 0 1.5 0a.75 .75 0 1 0 -1.5 0zM420.5 280.5a.75 .75 0 1 0 1.5 0a.75 .75 0 1 0 -1.5 0zM416.4 282.1a.75 .75 0 1 0 1.5 0a.75 .75 0 1 0 -1.5 0zM421.6 282.1a.75 .75 0 1 0 1.5 0a.75 .75 0 1 0 -1.5 0zM417.8 284.1a.75 .75 0 1 0 1.5 0a.75 .75 0 1 0 -1.5 0zM420.2 284.1a.75 .75 0 1 0 1.5 0a.75 .75 0 1 0 -1.5 0zM416.8 285.7a.75 .75 0 1 0 1.5 0a.75 .75 0 1 0 -1.5 0zM421.2 285.7a.75 .75 0 1 0 1.5 0a.75 .75 0 1 0 -1.5 0zM417.8 287.3a.75 .75 0 1 0 1.5 0a.75 .75 0 1 0 -1.5 0zM420.2 287.3a.75 .75 0 1 0 1.5 0a.75 .75 0 1 0 -1.5 0zM416.4 289.3a.75 .75 0 1 0 1.5 0a.75 .75 0 1 0 -1.5 0zM421.6 289.3a.75 .75 0 1 0 1.5 0a.75 .75 0 1 0 -1.5 0zM417.5 290.9a.75 .75 0 1 0 1.5 0a.75 .75 0 1 0 -1.5 0zM420.5 290.9a.75 .75 0 1 0 1.5 0a.75 .75 0 1 0 -1.5 0zM416.4 292.5a.75 .75 0 1 0 1.5 0a.75 .75 0 1 0 -1.5 0zM421.6 292.5a.75 .75 0 1 0 1.5 0a.75 .75 0 1 0 -1.5 0zM417.8 294.5a.75 .75 0 1 0 1.5 0a.75 .75 0 1 0 -1.5 0zM420.2 294.5a.75 .75 0 1 0 1.5 0a.75 .75 0 1 0 -1.5 0zM416.8 296.1a.75 .75 0 1 0 1.5 0a.75 .75 0 1 0 -1.5 0zM421.2 296.1a.75 .75 0 1 0 1.5 0a.75 .75 0 1 0 -1.5 0zM417.8 297.7a.75 .75 0 1 0 1.5 0a.75 .75 0 1 0 -1.5 0zM420.2 297.7a.75 .75 0 1 0 1.5 0a.75 .75 0 1 0 -1.5 0zM416.4 299.7a.75 .75 0 1 0 1.5 0a.75 .75 0 1 0 -1.5 0zM421.6 299.7a.75 .75 0 1 0 1.5 0a.75 .75 0 1 0 -1.5 0zM417.5 301.3a.75 .75 0 1 0 1.5 0a.75 .75 0 1 0 -1.5 0zM420.5 301.3a.75 .75 0 1 0 1.5 0a.75 .75 0 1 0 -1.5 0zM416.4 302.9a.75 .75 0 1 0 1.5 0a.75 .75 0 1 0 -1.5 0zM421.6 302.9a.75 .75 0 1 0 1.5 0a.75 .75 0 1 0 -1.5 0zM417.8 304.9a.75 .75 0 1 0 1.5 0a.75 .75 0 1 0 -1.5 0zM420.2 304.9a.75 .75 0 1 0 1.5 0a.75 .75 0 1 0 -1.5 0zM416.8 306.5a.75 .75 0 1 0 1.5 0a.75 .75 0 1 0 -1.5 0zM421.2 306.5a.75 .75 0 1 0 1.5 0a.75 .75 0 1 0 -1.5 0zM417.8 308.1a.75 .75 0 1 0 1.5 0a.75 .75 0 1 0 -1.5 0zM420.2 308.1a.75 .75 0 1 0 1.5 0a.75 .75 0 1 0 -1.5 0zM416.4 310.1a.75 .75 0 1 0 1.5 0a.75 .75 0 1 0 -1.5 0zM421.6 310.1a.75 .75 0 1 0 1.5 0a.75 .75 0 1 0 -1.5 0zM417.5 311.7a.75 .75 0 1 0 1.5 0a.75 .75 0 1 0 -1.5 0zM420.5 311.7a.75 .75 0 1 0 1.5 0a.75 .75 0 1 0 -1.5 0zM416.4 313.3a.75 .75 0 1 0 1.5 0a.75 .75 0 1 0 -1.5 0zM421.6 313.3a.75 .75 0 1 0 1.5 0a.75 .75 0 1 0 -1.5 0zM417.8 315.3a.75 .75 0 1 0 1.5 0a.75 .75 0 1 0 -1.5 0zM420.2 315.3a.75 .75 0 1 0 1.5 0a.75 .75 0 1 0 -1.5 0zM416.8 316.9a.75 .75 0 1 0 1.5 0a.75 .75 0 1 0 -1.5 0zM421.2 316.9a.75 .75 0 1 0 1.5 0a.75 .75 0 1 0 -1.5 0zM417.8 318.5a.75 .75 0 1 0 1.5 0a.75 .75 0 1 0 -1.5 0zM420.2 318.5a.75 .75 0 1 0 1.5 0a.75 .75 0 1 0 -1.5 0zM416.4 320.5a.75 .75 0 1 0 1.5 0a.75 .75 0 1 0 -1.5 0zM421.6 320.5a.75 .75 0 1 0 1.5 0a.75 .75 0 1 0 -1.5 0zM417.5 322.1a.75 .75 0 1 0 1.5 0a.75 .75 0 1 0 -1.5 0zM420.5 322.1a.75 .75 0 1 0 1.5 0a.75 .75 0 1 0 -1.5 0zM416.4 323.7a.75 .75 0 1 0 1.5 0a.75 .75 0 1 0 -1.5 0zM421.6 323.7a.75 .75 0 1 0 1.5 0a.75 .75 0 1 0 -1.5 0zM417.8 325.7a.75 .75 0 1 0 1.5 0a.75 .75 0 1 0 -1.5 0zM420.2 325.7a.75 .75 0 1 0 1.5 0a.75 .75 0 1 0 -1.5 0zM416.8 327.3a.75 .75 0 1 0 1.5 0a.75 .75 0 1 0 -1.5 0zM421.2 327.3a.75 .75 0 1 0 1.5 0a.75 .75 0 1 0 -1.5 0zM417.8 328.9a.75 .75 0 1 0 1.5 0a.75 .75 0 1 0 -1.5 0zM420.2 328.9a.75 .75 0 1 0 1.5 0a.75 .75 0 1 0 -1.5 0zM416.4 330.9a.75 .75 0 1 0 1.5 0a.75 .75 0 1 0 -1.5 0zM421.6 330.9a.75 .75 0 1 0 1.5 0a.75 .75 0 1 0 -1.5 0zM417.5 332.5a.75 .75 0 1 0 1.5 0a.75 .75 0 1 0 -1.5 0zM420.5 332.5a.75 .75 0 1 0 1.5 0a.75 .75 0 1 0 -1.5 0zM416.4 334.1a.75 .75 0 1 0 1.5 0a.75 .75 0 1 0 -1.5 0zM421.6 334.1a.75 .75 0 1 0 1.5 0a.75 .75 0 1 0 -1.5 0zM417.8 336.1a.75 .75 0 1 0 1.5 0a.75 .75 0 1 0 -1.5 0zM420.2 336.1a.75 .75 0 1 0 1.5 0a.75 .75 0 1 0 -1.5 0zM416.8 337.7a.75 .75 0 1 0 1.5 0a.75 .75 0 1 0 -1.5 0zM421.2 337.7a.75 .75 0 1 0 1.5 0a.75 .75 0 1 0 -1.5 0zM417.8 339.3a.75 .75 0 1 0 1.5 0a.75 .75 0 1 0 -1.5 0zM420.2 339.3a.75 .75 0 1 0 1.5 0a.75 .75 0 1 0 -1.5 0zM416.4 341.3a.75 .75 0 1 0 1.5 0a.75 .75 0 1 0 -1.5 0zM421.6 341.3a.75 .75 0 1 0 1.5 0a.75 .75 0 1 0 -1.5 0zM417.5 342.9a.75 .75 0 1 0 1.5 0a.75 .75 0 1 0 -1.5 0zM420.5 342.9a.75 .75 0 1 0 1.5 0a.75 .75 0 1 0 -1.5 0z"/>
<clipPath id="mF"><rect x="0" y="21" width="17.8" height="86"/></clipPath>
<g transform="translate(415.2,243.6) scale(0.51,0.56) translate(0,-21)"><g clip-path="url(#mF)"><use href="#bF"/></g></g>
<rect x="415.2" y="233.8" width="9.1" height="9.8" fill="url(#fadeU)"/>
<rect x="415.2" y="291.5" width="9.1" height="9.8" fill="url(#fadeD)"/>
<rect x="409.2" y="242.8" width="21.1" height="49.5" fill="none" stroke="#000" stroke-width="1.1"/>
<line x1="430.3" y1="267.55" x2="440.68" y2="222.88" stroke="#000" stroke-width="1.7"/>
<polygon points="442.6,214.6 443.96,224.67 436.94,223.04" fill="#000"/>
<line x1="430.3" y1="267.55" x2="440.76" y2="314.7" stroke="#000" stroke-width="1.7"/>
<polygon points="442.6,323 437.03,314.51 444.06,312.95" fill="#000"/>
<text transform="translate(405.6,355) scale(1,1.1)" text-anchor="start" style="font-family:'Liberation Serif',serif;font-weight:bold;font-size:11px">F</text>
<clipPath id="cG"><rect x="0" y="0" width="17.8" height="127.4"/></clipPath>
<g transform="translate(504.3,206) scale(1.01,0.98)"><g clip-path="url(#cG)"><g id="bG" filter="url(#bl)"><rect x="-2" y="-2" width="21.8" height="131.4" fill="#0838ff"/><ellipse cx="2.5" cy="12" rx="4" ry="11" fill="#0868ff"/><ellipse cx="15.3" cy="12" rx="4" ry="11" fill="#0868ff"/><ellipse cx="6.1" cy="4.1" rx="2.4" ry="2.4" fill="url(#cyg)"/><ellipse cx="6.1" cy="4.1" rx="0.7" ry="0.7" fill="#0850ff"/><ellipse cx="11.3" cy="4.1" rx="2.4" ry="2.4" fill="url(#cyg)"/><ellipse cx="11.3" cy="4.1" rx="0.7" ry="0.7" fill="#0850ff"/><ellipse cx="3.2" cy="9.7" rx="2.4" ry="2.4" fill="url(#cyg)"/><ellipse cx="3.2" cy="9.7" rx="0.7" ry="0.7" fill="#0850ff"/><ellipse cx="14.1" cy="9.7" rx="2.4" ry="2.4" fill="url(#cyg)"/><ellipse cx="14.1" cy="9.7" rx="0.7" ry="0.7" fill="#0850ff"/><ellipse cx="5.6" cy="13.5" rx="2.4" ry="2.4" fill="url(#cyg)"/><ellipse cx="5.6" cy="13.5" rx="0.7" ry="0.7" fill="#0850ff"/><ellipse cx="11.8" cy="13.5" rx="2.4" ry="2.4" fill="url(#cyg)"/><ellipse cx="11.8" cy="13.5" rx="0.7" ry="0.7" fill="#0850ff"/><ellipse cx="2.3" cy="19.2" rx="2.4" ry="2.4" fill="url(#cyg)"/><ellipse cx="2.3" cy="19.2" rx="0.7" ry="0.7" fill="#0850ff"/><ellipse cx="15.1" cy="19.2" rx="2.4" ry="2.4" fill="url(#cyg)"/><ellipse cx="15.1" cy="19.2" rx="0.7" ry="0.7" fill="#0850ff"/><ellipse cx="8.9" cy="25.5" rx="10" ry="6.5" fill="url(#cyg)"/><ellipse cx="5.6" cy="24.9" rx="3.52" ry="3.52" fill="url(#yelg)"/><ellipse cx="11.8" cy="24.9" rx="3.52" ry="3.52" fill="url(#yelg)"/><ellipse cx="3.2" cy="28.7" rx="2.4" ry="2.4" fill="url(#cyg)"/><ellipse cx="14.1" cy="28.7" rx="2.4" ry="2.4" fill="url(#cyg)"/><ellipse cx="8.9" cy="67" rx="10" ry="37" fill="#20d0ff"/><ellipse cx="8.9" cy="60" rx="3" ry="30" fill="#00f0ff" opacity="0.7"/><ellipse cx="8.9" cy="46.5" rx="6.3" ry="8.3" fill="none" stroke="#ffd000" stroke-width="4.2" opacity="0.85"/><ellipse cx="8.9" cy="46.5" rx="6.3" ry="8.3" fill="none" stroke="#f00000" stroke-width="2.6"/><ellipse cx="8.7" cy="75.3" rx="6.6" ry="9.6" fill="none" stroke="#ffd000" stroke-width="4.2" opacity="0.85"/><ellipse cx="8.7" cy="75.3" rx="6.6" ry="9.6" fill="none" stroke="#f00000" stroke-width="2.6"/><ellipse cx="8.9" cy="36" rx="5" ry="3.2" fill="url(#cyg)"/><ellipse cx="6.5" cy="34.6" rx="2.4" ry="2.4" fill="url(#hotg)"/><ellipse cx="10.8" cy="34.6" rx="2.4" ry="2.4" fill="url(#hotg)"/><ellipse cx="3" cy="40" rx="4.96" ry="4.96" fill="url(#hotg)"/><ellipse cx="14.8" cy="40" rx="4.96" ry="4.96" fill="url(#hotg)"/><ellipse cx="3.5" cy="50.2" rx="4.96" ry="4.96" fill="url(#hotg)"/><ellipse cx="14.8" cy="50.2" rx="4.96" ry="4.96" fill="url(#hotg)"/><ellipse cx="7" cy="54.8" rx="4.96" ry="4.96" fill="url(#hotg)"/><ellipse cx="11.8" cy="54.8" rx="4.96" ry="4.96" fill="url(#hotg)"/><ellipse cx="2.1" cy="70.3" rx="4.96" ry="4.96" fill="url(#hotg)"/><ellipse cx="6.1" cy="65.4" rx="4.96" ry="4.96" fill="url(#hotg)"/><ellipse cx="11.3" cy="65.4" rx="4.96" ry="4.96" fill="url(#hotg)"/><ellipse cx="15.3" cy="70.3" rx="4.96" ry="4.96" fill="url(#hotg)"/><ellipse cx="2.6" cy="80.3" rx="4.96" ry="4.96" fill="url(#hotg)"/><ellipse cx="14.8" cy="80.3" rx="4.96" ry="4.96" fill="url(#hotg)"/><ellipse cx="6.1" cy="85.2" rx="4.96" ry="4.96" fill="url(#hotg)"/><ellipse cx="11.3" cy="85.2" rx="4.96" ry="4.96" fill="url(#hotg)"/><ellipse cx="4.8" cy="96" rx="2.88" ry="2.88" fill="url(#hotg)"/><ellipse cx="12.5" cy="96" rx="2.88" ry="2.88" fill="url(#hotg)"/><ellipse cx="2.8" cy="100.6" rx="3.2" ry="3.2" fill="url(#hotg)"/><ellipse cx="15.1" cy="100.6" rx="3.2" ry="3.2" fill="url(#hotg)"/><ellipse cx="8.9" cy="46.5" rx="3.5" ry="6" fill="url(#cyg)"/><ellipse cx="8.7" cy="75.3" rx="3.8" ry="7" fill="url(#cyg)"/><ellipse cx="8.9" cy="43" rx="1" ry="4" fill="#0030ff"/><ellipse cx="8.9" cy="60.2" rx="1.4" ry="1.4" fill="#0030ff"/><ellipse cx="8.9" cy="76.5" rx="1.5" ry="1.2" fill="#0030ff"/><ellipse cx="8.9" cy="98.1" rx="1.4" ry="1.4" fill="#0030ff"/><ellipse cx="8.9" cy="111.4" rx="10" ry="10" fill="url(#skyg)"/><ellipse cx="6.4" cy="107.3" rx="2.3" ry="2.3" fill="url(#cyg)"/><ellipse cx="6.4" cy="107.3" rx="0.6" ry="0.6" fill="#10a0ff"/><ellipse cx="11.5" cy="107.3" rx="2.3" ry="2.3" fill="url(#cyg)"/><ellipse cx="11.5" cy="107.3" rx="0.6" ry="0.6" fill="#10a0ff"/><ellipse cx="3.8" cy="111.4" rx="2.3" ry="2.3" fill="url(#cyg)"/><ellipse cx="3.8" cy="111.4" rx="0.6" ry="0.6" fill="#10a0ff"/><ellipse cx="13.6" cy="111.4" rx="2.3" ry="2.3" fill="url(#cyg)"/><ellipse cx="13.6" cy="111.4" rx="0.6" ry="0.6" fill="#10a0ff"/><ellipse cx="6.4" cy="116.1" rx="2.3" ry="2.3" fill="url(#cyg)"/><ellipse cx="6.4" cy="116.1" rx="0.6" ry="0.6" fill="#10a0ff"/><ellipse cx="11.5" cy="116.1" rx="2.3" ry="2.3" fill="url(#cyg)"/><ellipse cx="11.5" cy="116.1" rx="0.6" ry="0.6" fill="#10a0ff"/><ellipse cx="8.9" cy="111.4" rx="1.6" ry="1.6" fill="#0000b0"/><ellipse cx="4.8" cy="125.8" rx="2.2" ry="2.2" fill="url(#cyg)"/><ellipse cx="12" cy="125.8" rx="2.2" ry="2.2" fill="url(#cyg)"/></g><g filter="url(#bl2)"><path fill="none" stroke="#000" stroke-width="0.8" d="M1 38L5 42M2 42L6 38M12 38L16 42M13 42L17 38M2 49L6 53M5 53L9 57M10 53L14 57M13 49L17 53M0 68L4 72M4 64L8 68M10 64L14 68M14 68L18 72M1 79L5 83M5 84L9 88M10 84L14 88M13 79L17 83M-2 46L3 49M-2 70L3 73"/></g></g></g>
<rect x="474.8" y="189.1" width="9.1" height="155" fill="#0a10fa"/><path fill="#0000a8" d="M476.4 192.1a.75 .75 0 1 0 1.5 0a.75 .75 0 1 0 -1.5 0zM480.8 192.1a.75 .75 0 1 0 1.5 0a.75 .75 0 1 0 -1.5 0zM477.4 193.7a.75 .75 0 1 0 1.5 0a.75 .75 0 1 0 -1.5 0zM479.8 193.7a.75 .75 0 1 0 1.5 0a.75 .75 0 1 0 -1.5 0zM476 195.7a.75 .75 0 1 0 1.5 0a.75 .75 0 1 0 -1.5 0zM481.2 195.7a.75 .75 0 1 0 1.5 0a.75 .75 0 1 0 -1.5 0zM477.1 197.3a.75 .75 0 1 0 1.5 0a.75 .75 0 1 0 -1.5 0zM480.1 197.3a.75 .75 0 1 0 1.5 0a.75 .75 0 1 0 -1.5 0zM476 198.9a.75 .75 0 1 0 1.5 0a.75 .75 0 1 0 -1.5 0zM481.2 198.9a.75 .75 0 1 0 1.5 0a.75 .75 0 1 0 -1.5 0zM477.4 200.9a.75 .75 0 1 0 1.5 0a.75 .75 0 1 0 -1.5 0zM479.8 200.9a.75 .75 0 1 0 1.5 0a.75 .75 0 1 0 -1.5 0zM476.4 202.5a.75 .75 0 1 0 1.5 0a.75 .75 0 1 0 -1.5 0zM480.8 202.5a.75 .75 0 1 0 1.5 0a.75 .75 0 1 0 -1.5 0zM477.4 204.1a.75 .75 0 1 0 1.5 0a.75 .75 0 1 0 -1.5 0zM479.8 204.1a.75 .75 0 1 0 1.5 0a.75 .75 0 1 0 -1.5 0zM476 206.1a.75 .75 0 1 0 1.5 0a.75 .75 0 1 0 -1.5 0zM481.2 206.1a.75 .75 0 1 0 1.5 0a.75 .75 0 1 0 -1.5 0zM477.1 207.7a.75 .75 0 1 0 1.5 0a.75 .75 0 1 0 -1.5 0zM480.1 207.7a.75 .75 0 1 0 1.5 0a.75 .75 0 1 0 -1.5 0zM476 209.3a.75 .75 0 1 0 1.5 0a.75 .75 0 1 0 -1.5 0zM481.2 209.3a.75 .75 0 1 0 1.5 0a.75 .75 0 1 0 -1.5 0zM477.4 211.3a.75 .75 0 1 0 1.5 0a.75 .75 0 1 0 -1.5 0zM479.8 211.3a.75 .75 0 1 0 1.5 0a.75 .75 0 1 0 -1.5 0zM476.4 212.9a.75 .75 0 1 0 1.5 0a.75 .75 0 1 0 -1.5 0zM480.8 212.9a.75 .75 0 1 0 1.5 0a.75 .75 0 1 0 -1.5 0zM477.4 214.5a.75 .75 0 1 0 1.5 0a.75 .75 0 1 0 -1.5 0zM479.8 214.5a.75 .75 0 1 0 1.5 0a.75 .75 0 1 0 -1.5 0zM476 216.5a.75 .75 0 1 0 1.5 0a.75 .75 0 1 0 -1.5 0zM481.2 216.5a.75 .75 0 1 0 1.5 0a.75 .75 0 1 0 -1.5 0zM477.1 218.1a.75 .75 0 1 0 1.5 0a.75 .75 0 1 0 -1.5 0zM480.1 218.1a.75 .75 0 1 0 1.5 0a.75 .75 0 1 0 -1.5 0zM476 219.7a.75 .75 0 1 0 1.5 0a.75 .75 0 1 0 -1.5 0zM481.2 219.7a.75 .75 0 1 0 1.5 0a.75 .75 0 1 0 -1.5 0zM477.4 221.7a.75 .75 0 1 0 1.5 0a.75 .75 0 1 0 -1.5 0zM479.8 221.7a.75 .75 0 1 0 1.5 0a.75 .75 0 1 0 -1.5 0zM476.4 223.3a.75 .75 0 1 0 1.5 0a.75 .75 0 1 0 -1.5 0zM480.8 223.3a.75 .75 0 1 0 1.5 0a.75 .75 0 1 0 -1.5 0zM477.4 224.9a.75 .75 0 1 0 1.5 0a.75 .75 0 1 0 -1.5 0zM479.8 224.9a.75 .75 0 1 0 1.5 0a.75 .75 0 1 0 -1.5 0zM476 226.9a.75 .75 0 1 0 1.5 0a.75 .75 0 1 0 -1.5 0zM481.2 226.9a.75 .75 0 1 0 1.5 0a.75 .75 0 1 0 -1.5 0zM477.1 228.5a.75 .75 0 1 0 1.5 0a.75 .75 0 1 0 -1.5 0zM480.1 228.5a.75 .75 0 1 0 1.5 0a.75 .75 0 1 0 -1.5 0zM476 230.1a.75 .75 0 1 0 1.5 0a.75 .75 0 1 0 -1.5 0zM481.2 230.1a.75 .75 0 1 0 1.5 0a.75 .75 0 1 0 -1.5 0zM477.4 232.1a.75 .75 0 1 0 1.5 0a.75 .75 0 1 0 -1.5 0zM479.8 232.1a.75 .75 0 1 0 1.5 0a.75 .75 0 1 0 -1.5 0zM476.4 233.7a.75 .75 0 1 0 1.5 0a.75 .75 0 1 0 -1.5 0zM480.8 233.7a.75 .75 0 1 0 1.5 0a.75 .75 0 1 0 -1.5 0zM477.4 235.3a.75 .75 0 1 0 1.5 0a.75 .75 0 1 0 -1.5 0zM479.8 235.3a.75 .75 0 1 0 1.5 0a.75 .75 0 1 0 -1.5 0zM476 237.3a.75 .75 0 1 0 1.5 0a.75 .75 0 1 0 -1.5 0zM481.2 237.3a.75 .75 0 1 0 1.5 0a.75 .75 0 1 0 -1.5 0zM477.1 238.9a.75 .75 0 1 0 1.5 0a.75 .75 0 1 0 -1.5 0zM480.1 238.9a.75 .75 0 1 0 1.5 0a.75 .75 0 1 0 -1.5 0zM476 240.5a.75 .75 0 1 0 1.5 0a.75 .75 0 1 0 -1.5 0zM481.2 240.5a.75 .75 0 1 0 1.5 0a.75 .75 0 1 0 -1.5 0zM477.4 242.5a.75 .75 0 1 0 1.5 0a.75 .75 0 1 0 -1.5 0zM479.8 242.5a.75 .75 0 1 0 1.5 0a.75 .75 0 1 0 -1.5 0zM476.4 244.1a.75 .75 0 1 0 1.5 0a.75 .75 0 1 0 -1.5 0zM480.8 244.1a.75 .75 0 1 0 1.5 0a.75 .75 0 1 0 -1.5 0zM477.4 245.7a.75 .75 0 1 0 1.5 0a.75 .75 0 1 0 -1.5 0zM479.8 245.7a.75 .75 0 1 0 1.5 0a.75 .75 0 1 0 -1.5 0zM476 247.7a.75 .75 0 1 0 1.5 0a.75 .75 0 1 0 -1.5 0zM481.2 247.7a.75 .75 0 1 0 1.5 0a.75 .75 0 1 0 -1.5 0zM477.1 249.3a.75 .75 0 1 0 1.5 0a.75 .75 0 1 0 -1.5 0zM480.1 249.3a.75 .75 0 1 0 1.5 0a.75 .75 0 1 0 -1.5 0zM476 250.9a.75 .75 0 1 0 1.5 0a.75 .75 0 1 0 -1.5 0zM481.2 250.9a.75 .75 0 1 0 1.5 0a.75 .75 0 1 0 -1.5 0zM477.4 252.9a.75 .75 0 1 0 1.5 0a.75 .75 0 1 0 -1.5 0zM479.8 252.9a.75 .75 0 1 0 1.5 0a.75 .75 0 1 0 -1.5 0zM476.4 254.5a.75 .75 0 1 0 1.5 0a.75 .75 0 1 0 -1.5 0zM480.8 254.5a.75 .75 0 1 0 1.5 0a.75 .75 0 1 0 -1.5 0zM477.4 256.1a.75 .75 0 1 0 1.5 0a.75 .75 0 1 0 -1.5 0zM479.8 256.1a.75 .75 0 1 0 1.5 0a.75 .75 0 1 0 -1.5 0zM476 258.1a.75 .75 0 1 0 1.5 0a.75 .75 0 1 0 -1.5 0zM481.2 258.1a.75 .75 0 1 0 1.5 0a.75 .75 0 1 0 -1.5 0zM477.1 259.7a.75 .75 0 1 0 1.5 0a.75 .75 0 1 0 -1.5 0zM480.1 259.7a.75 .75 0 1 0 1.5 0a.75 .75 0 1 0 -1.5 0zM476 261.3a.75 .75 0 1 0 1.5 0a.75 .75 0 1 0 -1.5 0zM481.2 261.3a.75 .75 0 1 0 1.5 0a.75 .75 0 1 0 -1.5 0zM477.4 263.3a.75 .75 0 1 0 1.5 0a.75 .75 0 1 0 -1.5 0zM479.8 263.3a.75 .75 0 1 0 1.5 0a.75 .75 0 1 0 -1.5 0zM476.4 264.9a.75 .75 0 1 0 1.5 0a.75 .75 0 1 0 -1.5 0zM480.8 264.9a.75 .75 0 1 0 1.5 0a.75 .75 0 1 0 -1.5 0zM477.4 266.5a.75 .75 0 1 0 1.5 0a.75 .75 0 1 0 -1.5 0zM479.8 266.5a.75 .75 0 1 0 1.5 0a.75 .75 0 1 0 -1.5 0zM476 268.5a.75 .75 0 1 0 1.5 0a.75 .75 0 1 0 -1.5 0zM481.2 268.5a.75 .75 0 1 0 1.5 0a.75 .75 0 1 0 -1.5 0zM477.1 270.1a.75 .75 0 1 0 1.5 0a.75 .75 0 1 0 -1.5 0zM480.1 270.1a.75 .75 0 1 0 1.5 0a.75 .75 0 1 0 -1.5 0zM476 271.7a.75 .75 0 1 0 1.5 0a.75 .75 0 1 0 -1.5 0zM481.2 271.7a.75 .75 0 1 0 1.5 0a.75 .75 0 1 0 -1.5 0zM477.4 273.7a.75 .75 0 1 0 1.5 0a.75 .75 0 1 0 -1.5 0zM479.8 273.7a.75 .75 0 1 0 1.5 0a.75 .75 0 1 0 -1.5 0zM476.4 275.3a.75 .75 0 1 0 1.5 0a.75 .75 0 1 0 -1.5 0zM480.8 275.3a.75 .75 0 1 0 1.5 0a.75 .75 0 1 0 -1.5 0zM477.4 276.9a.75 .75 0 1 0 1.5 0a.75 .75 0 1 0 -1.5 0zM479.8 276.9a.75 .75 0 1 0 1.5 0a.75 .75 0 1 0 -1.5 0zM476 278.9a.75 .75 0 1 0 1.5 0a.75 .75 0 1 0 -1.5 0zM481.2 278.9a.75 .75 0 1 0 1.5 0a.75 .75 0 1 0 -1.5 0zM477.1 280.5a.75 .75 0 1 0 1.5 0a.75 .75 0 1 0 -1.5 0zM480.1 280.5a.75 .75 0 1 0 1.5 0a.75 .75 0 1 0 -1.5 0zM476 282.1a.75 .75 0 1 0 1.5 0a.75 .75 0 1 0 -1.5 0zM481.2 282.1a.75 .75 0 1 0 1.5 0a.75 .75 0 1 0 -1.5 0zM477.4 284.1a.75 .75 0 1 0 1.5 0a.75 .75 0 1 0 -1.5 0zM479.8 284.1a.75 .75 0 1 0 1.5 0a.75 .75 0 1 0 -1.5 0zM476.4 285.7a.75 .75 0 1 0 1.5 0a.75 .75 0 1 0 -1.5 0zM480.8 285.7a.75 .75 0 1 0 1.5 0a.75 .75 0 1 0 -1.5 0zM477.4 287.3a.75 .75 0 1 0 1.5 0a.75 .75 0 1 0 -1.5 0zM479.8 287.3a.75 .75 0 1 0 1.5 0a.75 .75 0 1 0 -1.5 0zM476 289.3a.75 .75 0 1 0 1.5 0a.75 .75 0 1 0 -1.5 0zM481.2 289.3a.75 .75 0 1 0 1.5 0a.75 .75 0 1 0 -1.5 0zM477.1 290.9a.75 .75 0 1 0 1.5 0a.75 .75 0 1 0 -1.5 0zM480.1 290.9a.75 .75 0 1 0 1.5 0a.75 .75 0 1 0 -1.5 0zM476 292.5a.75 .75 0 1 0 1.5 0a.75 .75 0 1 0 -1.5 0zM481.2 292.5a.75 .75 0 1 0 1.5 0a.75 .75 0 1 0 -1.5 0zM477.4 294.5a.75 .75 0 1 0 1.5 0a.75 .75 0 1 0 -1.5 0zM479.8 294.5a.75 .75 0 1 0 1.5 0a.75 .75 0 1 0 -1.5 0zM476.4 296.1a.75 .75 0 1 0 1.5 0a.75 .75 0 1 0 -1.5 0zM480.8 296.1a.75 .75 0 1 0 1.5 0a.75 .75 0 1 0 -1.5 0zM477.4 297.7a.75 .75 0 1 0 1.5 0a.75 .75 0 1 0 -1.5 0zM479.8 297.7a.75 .75 0 1 0 1.5 0a.75 .75 0 1 0 -1.5 0zM476 299.7a.75 .75 0 1 0 1.5 0a.75 .75 0 1 0 -1.5 0zM481.2 299.7a.75 .75 0 1 0 1.5 0a.75 .75 0 1 0 -1.5 0zM477.1 301.3a.75 .75 0 1 0 1.5 0a.75 .75 0 1 0 -1.5 0zM480.1 301.3a.75 .75 0 1 0 1.5 0a.75 .75 0 1 0 -1.5 0zM476 302.9a.75 .75 0 1 0 1.5 0a.75 .75 0 1 0 -1.5 0zM481.2 302.9a.75 .75 0 1 0 1.5 0a.75 .75 0 1 0 -1.5 0zM477.4 304.9a.75 .75 0 1 0 1.5 0a.75 .75 0 1 0 -1.5 0zM479.8 304.9a.75 .75 0 1 0 1.5 0a.75 .75 0 1 0 -1.5 0zM476.4 306.5a.75 .75 0 1 0 1.5 0a.75 .75 0 1 0 -1.5 0zM480.8 306.5a.75 .75 0 1 0 1.5 0a.75 .75 0 1 0 -1.5 0zM477.4 308.1a.75 .75 0 1 0 1.5 0a.75 .75 0 1 0 -1.5 0zM479.8 308.1a.75 .75 0 1 0 1.5 0a.75 .75 0 1 0 -1.5 0zM476 310.1a.75 .75 0 1 0 1.5 0a.75 .75 0 1 0 -1.5 0zM481.2 310.1a.75 .75 0 1 0 1.5 0a.75 .75 0 1 0 -1.5 0zM477.1 311.7a.75 .75 0 1 0 1.5 0a.75 .75 0 1 0 -1.5 0zM480.1 311.7a.75 .75 0 1 0 1.5 0a.75 .75 0 1 0 -1.5 0zM476 313.3a.75 .75 0 1 0 1.5 0a.75 .75 0 1 0 -1.5 0zM481.2 313.3a.75 .75 0 1 0 1.5 0a.75 .75 0 1 0 -1.5 0zM477.4 315.3a.75 .75 0 1 0 1.5 0a.75 .75 0 1 0 -1.5 0zM479.8 315.3a.75 .75 0 1 0 1.5 0a.75 .75 0 1 0 -1.5 0zM476.4 316.9a.75 .75 0 1 0 1.5 0a.75 .75 0 1 0 -1.5 0zM480.8 316.9a.75 .75 0 1 0 1.5 0a.75 .75 0 1 0 -1.5 0zM477.4 318.5a.75 .75 0 1 0 1.5 0a.75 .75 0 1 0 -1.5 0zM479.8 318.5a.75 .75 0 1 0 1.5 0a.75 .75 0 1 0 -1.5 0zM476 320.5a.75 .75 0 1 0 1.5 0a.75 .75 0 1 0 -1.5 0zM481.2 320.5a.75 .75 0 1 0 1.5 0a.75 .75 0 1 0 -1.5 0zM477.1 322.1a.75 .75 0 1 0 1.5 0a.75 .75 0 1 0 -1.5 0zM480.1 322.1a.75 .75 0 1 0 1.5 0a.75 .75 0 1 0 -1.5 0zM476 323.7a.75 .75 0 1 0 1.5 0a.75 .75 0 1 0 -1.5 0zM481.2 323.7a.75 .75 0 1 0 1.5 0a.75 .75 0 1 0 -1.5 0zM477.4 325.7a.75 .75 0 1 0 1.5 0a.75 .75 0 1 0 -1.5 0zM479.8 325.7a.75 .75 0 1 0 1.5 0a.75 .75 0 1 0 -1.5 0zM476.4 327.3a.75 .75 0 1 0 1.5 0a.75 .75 0 1 0 -1.5 0zM480.8 327.3a.75 .75 0 1 0 1.5 0a.75 .75 0 1 0 -1.5 0zM477.4 328.9a.75 .75 0 1 0 1.5 0a.75 .75 0 1 0 -1.5 0zM479.8 328.9a.75 .75 0 1 0 1.5 0a.75 .75 0 1 0 -1.5 0zM476 330.9a.75 .75 0 1 0 1.5 0a.75 .75 0 1 0 -1.5 0zM481.2 330.9a.75 .75 0 1 0 1.5 0a.75 .75 0 1 0 -1.5 0zM477.1 332.5a.75 .75 0 1 0 1.5 0a.75 .75 0 1 0 -1.5 0zM480.1 332.5a.75 .75 0 1 0 1.5 0a.75 .75 0 1 0 -1.5 0zM476 334.1a.75 .75 0 1 0 1.5 0a.75 .75 0 1 0 -1.5 0zM481.2 334.1a.75 .75 0 1 0 1.5 0a.75 .75 0 1 0 -1.5 0zM477.4 336.1a.75 .75 0 1 0 1.5 0a.75 .75 0 1 0 -1.5 0zM479.8 336.1a.75 .75 0 1 0 1.5 0a.75 .75 0 1 0 -1.5 0zM476.4 337.7a.75 .75 0 1 0 1.5 0a.75 .75 0 1 0 -1.5 0zM480.8 337.7a.75 .75 0 1 0 1.5 0a.75 .75 0 1 0 -1.5 0zM477.4 339.3a.75 .75 0 1 0 1.5 0a.75 .75 0 1 0 -1.5 0zM479.8 339.3a.75 .75 0 1 0 1.5 0a.75 .75 0 1 0 -1.5 0zM476 341.3a.75 .75 0 1 0 1.5 0a.75 .75 0 1 0 -1.5 0zM481.2 341.3a.75 .75 0 1 0 1.5 0a.75 .75 0 1 0 -1.5 0zM477.1 342.9a.75 .75 0 1 0 1.5 0a.75 .75 0 1 0 -1.5 0zM480.1 342.9a.75 .75 0 1 0 1.5 0a.75 .75 0 1 0 -1.5 0z"/>
<clipPath id="mG"><rect x="0" y="21" width="17.8" height="86"/></clipPath>
<g transform="translate(474.8,243.5) scale(0.51,0.56) translate(0,-21)"><g clip-path="url(#mG)"><use href="#bG"/></g></g>
<rect x="474.8" y="233.7" width="9.1" height="9.8" fill="url(#fadeU)"/>
<rect x="474.8" y="292" width="9.1" height="9.8" fill="url(#fadeD)"/>
<rect x="468.2" y="242.7" width="21.5" height="50.1" fill="none" stroke="#000" stroke-width="1.1"/>
<line x1="489.7" y1="267.75" x2="500.44" y2="224.75" stroke="#000" stroke-width="1.7"/>
<polygon points="502.5,216.5 503.69,226.59 496.71,224.84" fill="#000"/>
<line x1="489.7" y1="267.75" x2="500.55" y2="313.93" stroke="#000" stroke-width="1.7"/>
<polygon points="502.5,322.2 496.82,313.78 503.83,312.13" fill="#000"/>
<text transform="translate(475.6,355.9) scale(1,1.1)" text-anchor="start" style="font-family:'Liberation Serif',serif;font-weight:bold;font-size:11px">G</text>
<rect x="530" y="228.4" width="8.3" height="79.2" fill="url(#jet)" stroke="#333" stroke-width="0.5"/>
<text transform="translate(525.3,222.8) scale(1,1.1)" text-anchor="start" style="font-family:'Liberation Serif',serif;font-weight:bold;font-size:10px">Max</text>
<text transform="translate(531.8,317.3) scale(1,1.1)" text-anchor="start" style="font-family:'Liberation Serif',serif;font-weight:bold;font-size:10px">0</text>
</svg>
</body></html>
